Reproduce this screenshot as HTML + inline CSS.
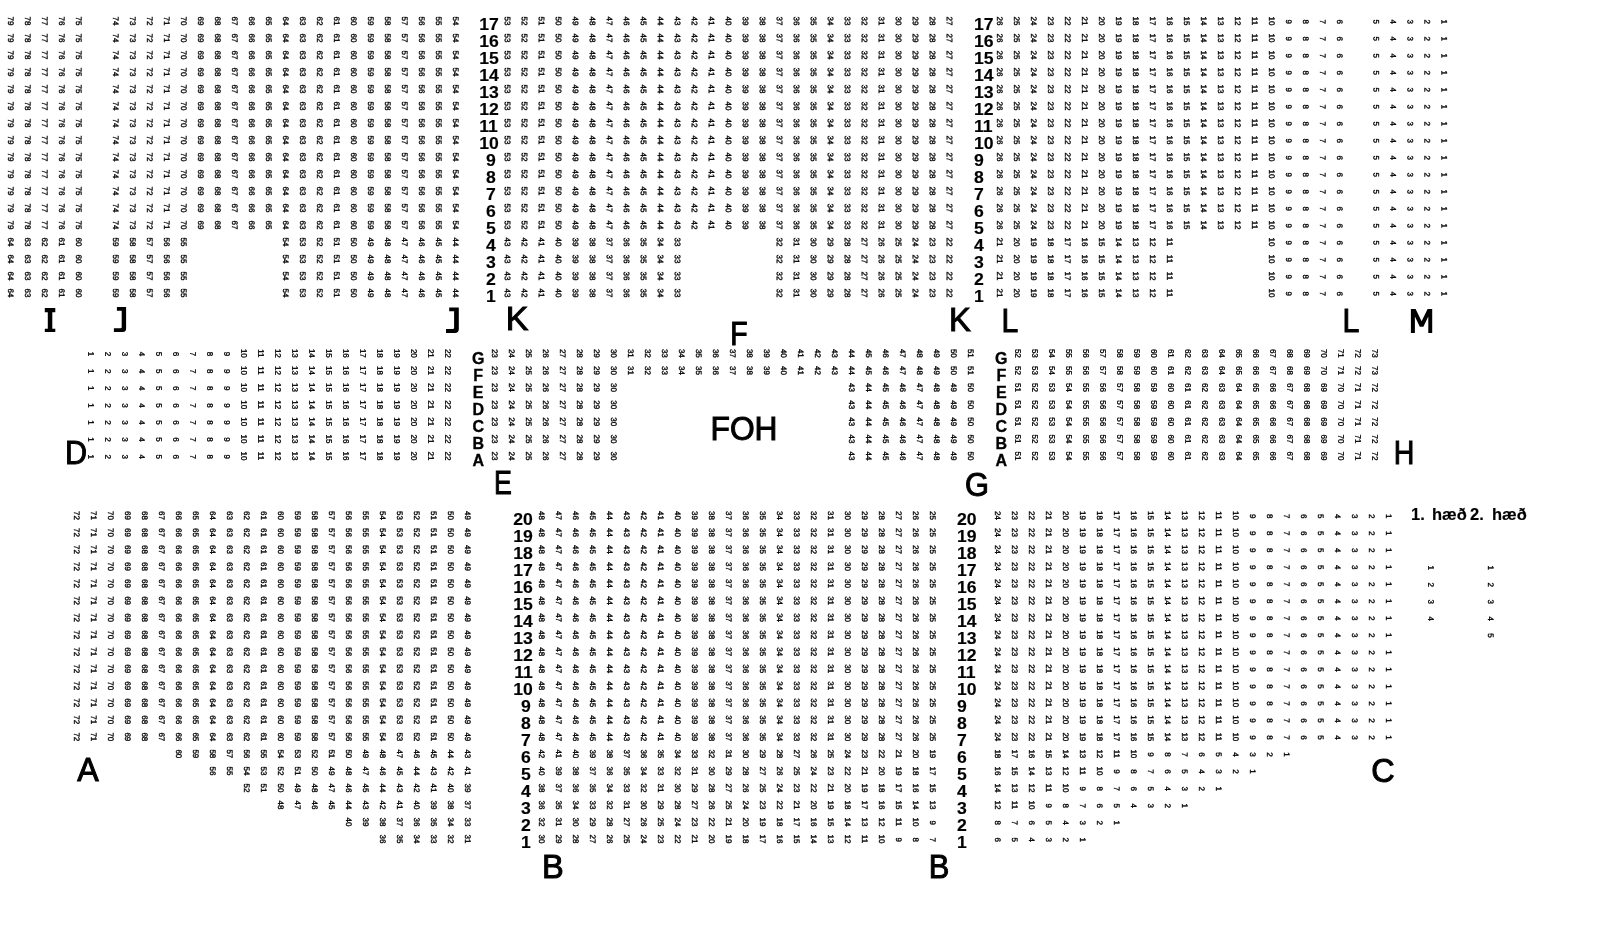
<!DOCTYPE html>
<html><head><meta charset="utf-8"><style>
html,body{margin:0;padding:0;background:#fff;width:1610px;height:950px;overflow:hidden;position:relative}
body{font-family:"Liberation Sans",sans-serif;color:#000}
#n{position:absolute;left:0;top:0;width:1610px;height:950px;will-change:transform}
i{position:absolute;left:0;top:0;font-style:normal;font-size:8px;width:20px;height:10px;line-height:10px;text-align:center;white-space:nowrap;-webkit-text-stroke:0.35px #000}
.rl,.ll,.cl,.bg,.fl{position:absolute;line-height:0;white-space:nowrap}
.ll{font-weight:bold;font-size:16px;transform-origin:0 0;transform:scaleX(1.1);-webkit-text-stroke:0.15px #000}
.rl{font-weight:bold;font-size:16px;transform-origin:100% 0;transform:scaleX(1.1);-webkit-text-stroke:0.15px #000}
.cl{font-weight:bold;font-size:16px;transform:translateX(-50%);-webkit-text-stroke:0.35px #000}
.bg{font-size:33px;-webkit-text-stroke:1.0px #000}
.fl{font-weight:bold;font-size:16px;-webkit-text-stroke:0.15px #000;transform-origin:0 0;transform:scaleX(1.03)}
.sv{position:absolute;left:0;top:0}
</style></head><body>
<div id="n"><i style="transform:translate(0.08px,16.00px) rotate(90.05deg)">79</i><i style="transform:translate(17.08px,16.00px) rotate(90.05deg)">78</i><i style="transform:translate(34.08px,16.00px) rotate(90.05deg)">77</i><i style="transform:translate(51.08px,16.00px) rotate(90.05deg)">76</i><i style="transform:translate(68.08px,16.00px) rotate(90.05deg)">75</i><i style="transform:translate(104.88px,16.00px) rotate(90.05deg)">74</i><i style="transform:translate(121.88px,16.00px) rotate(90.05deg)">73</i><i style="transform:translate(138.88px,16.00px) rotate(90.05deg)">72</i><i style="transform:translate(155.88px,16.00px) rotate(90.05deg)">71</i><i style="transform:translate(172.88px,16.00px) rotate(90.05deg)">70</i><i style="transform:translate(189.88px,16.00px) rotate(90.05deg)">69</i><i style="transform:translate(206.88px,16.00px) rotate(90.05deg)">68</i><i style="transform:translate(223.88px,16.00px) rotate(90.05deg)">67</i><i style="transform:translate(240.88px,16.00px) rotate(90.05deg)">66</i><i style="transform:translate(257.88px,16.00px) rotate(90.05deg)">65</i><i style="transform:translate(274.88px,16.00px) rotate(90.05deg)">64</i><i style="transform:translate(291.88px,16.00px) rotate(90.05deg)">63</i><i style="transform:translate(308.88px,16.00px) rotate(90.05deg)">62</i><i style="transform:translate(325.88px,16.00px) rotate(90.05deg)">61</i><i style="transform:translate(342.88px,16.00px) rotate(90.05deg)">60</i><i style="transform:translate(359.88px,16.00px) rotate(90.05deg)">59</i><i style="transform:translate(376.88px,16.00px) rotate(90.05deg)">58</i><i style="transform:translate(393.88px,16.00px) rotate(90.05deg)">57</i><i style="transform:translate(410.88px,16.00px) rotate(90.05deg)">56</i><i style="transform:translate(427.88px,16.00px) rotate(90.05deg)">55</i><i style="transform:translate(444.88px,16.00px) rotate(90.05deg)">54</i><i style="transform:translate(496.73px,16.00px) rotate(90.05deg)">53</i><i style="transform:translate(513.73px,16.00px) rotate(90.05deg)">52</i><i style="transform:translate(530.73px,16.00px) rotate(90.05deg)">51</i><i style="transform:translate(547.73px,16.00px) rotate(90.05deg)">50</i><i style="transform:translate(564.73px,16.00px) rotate(90.05deg)">49</i><i style="transform:translate(581.73px,16.00px) rotate(90.05deg)">48</i><i style="transform:translate(598.73px,16.00px) rotate(90.05deg)">47</i><i style="transform:translate(615.73px,16.00px) rotate(90.05deg)">46</i><i style="transform:translate(632.73px,16.00px) rotate(90.05deg)">45</i><i style="transform:translate(649.73px,16.00px) rotate(90.05deg)">44</i><i style="transform:translate(666.73px,16.00px) rotate(90.05deg)">43</i><i style="transform:translate(683.73px,16.00px) rotate(90.05deg)">42</i><i style="transform:translate(700.73px,16.00px) rotate(90.05deg)">41</i><i style="transform:translate(717.73px,16.00px) rotate(90.05deg)">40</i><i style="transform:translate(734.73px,16.00px) rotate(90.05deg)">39</i><i style="transform:translate(751.73px,16.00px) rotate(90.05deg)">38</i><i style="transform:translate(768.73px,16.00px) rotate(90.05deg)">37</i><i style="transform:translate(785.73px,16.00px) rotate(90.05deg)">36</i><i style="transform:translate(802.73px,16.00px) rotate(90.05deg)">35</i><i style="transform:translate(819.73px,16.00px) rotate(90.05deg)">34</i><i style="transform:translate(836.73px,16.00px) rotate(90.05deg)">33</i><i style="transform:translate(853.73px,16.00px) rotate(90.05deg)">32</i><i style="transform:translate(870.73px,16.00px) rotate(90.05deg)">31</i><i style="transform:translate(887.73px,16.00px) rotate(90.05deg)">30</i><i style="transform:translate(904.73px,16.00px) rotate(90.05deg)">29</i><i style="transform:translate(921.73px,16.00px) rotate(90.05deg)">28</i><i style="transform:translate(938.73px,16.00px) rotate(90.05deg)">27</i><i style="transform:translate(989.03px,16.00px) rotate(90.05deg)">26</i><i style="transform:translate(1006.03px,16.00px) rotate(90.05deg)">25</i><i style="transform:translate(1023.03px,16.00px) rotate(90.05deg)">24</i><i style="transform:translate(1040.03px,16.00px) rotate(90.05deg)">23</i><i style="transform:translate(1057.03px,16.00px) rotate(90.05deg)">22</i><i style="transform:translate(1074.03px,16.00px) rotate(90.05deg)">21</i><i style="transform:translate(1091.03px,16.00px) rotate(90.05deg)">20</i><i style="transform:translate(1108.03px,16.00px) rotate(90.05deg)">19</i><i style="transform:translate(1125.03px,16.00px) rotate(90.05deg)">18</i><i style="transform:translate(1142.03px,16.00px) rotate(90.05deg)">17</i><i style="transform:translate(1159.03px,16.00px) rotate(90.05deg)">16</i><i style="transform:translate(1176.03px,16.00px) rotate(90.05deg)">15</i><i style="transform:translate(1193.03px,16.00px) rotate(90.05deg)">14</i><i style="transform:translate(1210.03px,16.00px) rotate(90.05deg)">13</i><i style="transform:translate(1227.03px,16.00px) rotate(90.05deg)">12</i><i style="transform:translate(1244.03px,16.00px) rotate(90.05deg)">11</i><i style="transform:translate(1261.03px,16.00px) rotate(90.05deg)">10</i><i style="transform:translate(1278.03px,16.70px) rotate(90.05deg)">9</i><i style="transform:translate(1295.03px,16.70px) rotate(90.05deg)">8</i><i style="transform:translate(1312.03px,16.70px) rotate(90.05deg)">7</i><i style="transform:translate(1329.03px,16.70px) rotate(90.05deg)">6</i><i style="transform:translate(1365.43px,16.70px) rotate(90.05deg)">5</i><i style="transform:translate(1382.43px,16.70px) rotate(90.05deg)">4</i><i style="transform:translate(1399.43px,16.70px) rotate(90.05deg)">3</i><i style="transform:translate(1416.43px,16.70px) rotate(90.05deg)">2</i><i style="transform:translate(1433.43px,16.70px) rotate(90.05deg)">1</i><i style="transform:translate(0.08px,33.00px) rotate(90.05deg)">79</i><i style="transform:translate(17.08px,33.00px) rotate(90.05deg)">78</i><i style="transform:translate(34.08px,33.00px) rotate(90.05deg)">77</i><i style="transform:translate(51.08px,33.00px) rotate(90.05deg)">76</i><i style="transform:translate(68.08px,33.00px) rotate(90.05deg)">75</i><i style="transform:translate(104.88px,33.00px) rotate(90.05deg)">74</i><i style="transform:translate(121.88px,33.00px) rotate(90.05deg)">73</i><i style="transform:translate(138.88px,33.00px) rotate(90.05deg)">72</i><i style="transform:translate(155.88px,33.00px) rotate(90.05deg)">71</i><i style="transform:translate(172.88px,33.00px) rotate(90.05deg)">70</i><i style="transform:translate(189.88px,33.00px) rotate(90.05deg)">69</i><i style="transform:translate(206.88px,33.00px) rotate(90.05deg)">68</i><i style="transform:translate(223.88px,33.00px) rotate(90.05deg)">67</i><i style="transform:translate(240.88px,33.00px) rotate(90.05deg)">66</i><i style="transform:translate(257.88px,33.00px) rotate(90.05deg)">65</i><i style="transform:translate(274.88px,33.00px) rotate(90.05deg)">64</i><i style="transform:translate(291.88px,33.00px) rotate(90.05deg)">63</i><i style="transform:translate(308.88px,33.00px) rotate(90.05deg)">62</i><i style="transform:translate(325.88px,33.00px) rotate(90.05deg)">61</i><i style="transform:translate(342.88px,33.00px) rotate(90.05deg)">60</i><i style="transform:translate(359.88px,33.00px) rotate(90.05deg)">59</i><i style="transform:translate(376.88px,33.00px) rotate(90.05deg)">58</i><i style="transform:translate(393.88px,33.00px) rotate(90.05deg)">57</i><i style="transform:translate(410.88px,33.00px) rotate(90.05deg)">56</i><i style="transform:translate(427.88px,33.00px) rotate(90.05deg)">55</i><i style="transform:translate(444.88px,33.00px) rotate(90.05deg)">54</i><i style="transform:translate(496.73px,33.00px) rotate(90.05deg)">53</i><i style="transform:translate(513.73px,33.00px) rotate(90.05deg)">52</i><i style="transform:translate(530.73px,33.00px) rotate(90.05deg)">51</i><i style="transform:translate(547.73px,33.00px) rotate(90.05deg)">50</i><i style="transform:translate(564.73px,33.00px) rotate(90.05deg)">49</i><i style="transform:translate(581.73px,33.00px) rotate(90.05deg)">48</i><i style="transform:translate(598.73px,33.00px) rotate(90.05deg)">47</i><i style="transform:translate(615.73px,33.00px) rotate(90.05deg)">46</i><i style="transform:translate(632.73px,33.00px) rotate(90.05deg)">45</i><i style="transform:translate(649.73px,33.00px) rotate(90.05deg)">44</i><i style="transform:translate(666.73px,33.00px) rotate(90.05deg)">43</i><i style="transform:translate(683.73px,33.00px) rotate(90.05deg)">42</i><i style="transform:translate(700.73px,33.00px) rotate(90.05deg)">41</i><i style="transform:translate(717.73px,33.00px) rotate(90.05deg)">40</i><i style="transform:translate(734.73px,33.00px) rotate(90.05deg)">39</i><i style="transform:translate(751.73px,33.00px) rotate(90.05deg)">38</i><i style="transform:translate(768.73px,33.00px) rotate(90.05deg)">37</i><i style="transform:translate(785.73px,33.00px) rotate(90.05deg)">36</i><i style="transform:translate(802.73px,33.00px) rotate(90.05deg)">35</i><i style="transform:translate(819.73px,33.00px) rotate(90.05deg)">34</i><i style="transform:translate(836.73px,33.00px) rotate(90.05deg)">33</i><i style="transform:translate(853.73px,33.00px) rotate(90.05deg)">32</i><i style="transform:translate(870.73px,33.00px) rotate(90.05deg)">31</i><i style="transform:translate(887.73px,33.00px) rotate(90.05deg)">30</i><i style="transform:translate(904.73px,33.00px) rotate(90.05deg)">29</i><i style="transform:translate(921.73px,33.00px) rotate(90.05deg)">28</i><i style="transform:translate(938.73px,33.00px) rotate(90.05deg)">27</i><i style="transform:translate(989.03px,33.00px) rotate(90.05deg)">26</i><i style="transform:translate(1006.03px,33.00px) rotate(90.05deg)">25</i><i style="transform:translate(1023.03px,33.00px) rotate(90.05deg)">24</i><i style="transform:translate(1040.03px,33.00px) rotate(90.05deg)">23</i><i style="transform:translate(1057.03px,33.00px) rotate(90.05deg)">22</i><i style="transform:translate(1074.03px,33.00px) rotate(90.05deg)">21</i><i style="transform:translate(1091.03px,33.00px) rotate(90.05deg)">20</i><i style="transform:translate(1108.03px,33.00px) rotate(90.05deg)">19</i><i style="transform:translate(1125.03px,33.00px) rotate(90.05deg)">18</i><i style="transform:translate(1142.03px,33.00px) rotate(90.05deg)">17</i><i style="transform:translate(1159.03px,33.00px) rotate(90.05deg)">16</i><i style="transform:translate(1176.03px,33.00px) rotate(90.05deg)">15</i><i style="transform:translate(1193.03px,33.00px) rotate(90.05deg)">14</i><i style="transform:translate(1210.03px,33.00px) rotate(90.05deg)">13</i><i style="transform:translate(1227.03px,33.00px) rotate(90.05deg)">12</i><i style="transform:translate(1244.03px,33.00px) rotate(90.05deg)">11</i><i style="transform:translate(1261.03px,33.00px) rotate(90.05deg)">10</i><i style="transform:translate(1278.03px,33.70px) rotate(90.05deg)">9</i><i style="transform:translate(1295.03px,33.70px) rotate(90.05deg)">8</i><i style="transform:translate(1312.03px,33.70px) rotate(90.05deg)">7</i><i style="transform:translate(1329.03px,33.70px) rotate(90.05deg)">6</i><i style="transform:translate(1365.43px,33.70px) rotate(90.05deg)">5</i><i style="transform:translate(1382.43px,33.70px) rotate(90.05deg)">4</i><i style="transform:translate(1399.43px,33.70px) rotate(90.05deg)">3</i><i style="transform:translate(1416.43px,33.70px) rotate(90.05deg)">2</i><i style="transform:translate(1433.43px,33.70px) rotate(90.05deg)">1</i><i style="transform:translate(0.08px,50.00px) rotate(90.05deg)">79</i><i style="transform:translate(17.08px,50.00px) rotate(90.05deg)">78</i><i style="transform:translate(34.08px,50.00px) rotate(90.05deg)">77</i><i style="transform:translate(51.08px,50.00px) rotate(90.05deg)">76</i><i style="transform:translate(68.08px,50.00px) rotate(90.05deg)">75</i><i style="transform:translate(104.88px,50.00px) rotate(90.05deg)">74</i><i style="transform:translate(121.88px,50.00px) rotate(90.05deg)">73</i><i style="transform:translate(138.88px,50.00px) rotate(90.05deg)">72</i><i style="transform:translate(155.88px,50.00px) rotate(90.05deg)">71</i><i style="transform:translate(172.88px,50.00px) rotate(90.05deg)">70</i><i style="transform:translate(189.88px,50.00px) rotate(90.05deg)">69</i><i style="transform:translate(206.88px,50.00px) rotate(90.05deg)">68</i><i style="transform:translate(223.88px,50.00px) rotate(90.05deg)">67</i><i style="transform:translate(240.88px,50.00px) rotate(90.05deg)">66</i><i style="transform:translate(257.88px,50.00px) rotate(90.05deg)">65</i><i style="transform:translate(274.88px,50.00px) rotate(90.05deg)">64</i><i style="transform:translate(291.88px,50.00px) rotate(90.05deg)">63</i><i style="transform:translate(308.88px,50.00px) rotate(90.05deg)">62</i><i style="transform:translate(325.88px,50.00px) rotate(90.05deg)">61</i><i style="transform:translate(342.88px,50.00px) rotate(90.05deg)">60</i><i style="transform:translate(359.88px,50.00px) rotate(90.05deg)">59</i><i style="transform:translate(376.88px,50.00px) rotate(90.05deg)">58</i><i style="transform:translate(393.88px,50.00px) rotate(90.05deg)">57</i><i style="transform:translate(410.88px,50.00px) rotate(90.05deg)">56</i><i style="transform:translate(427.88px,50.00px) rotate(90.05deg)">55</i><i style="transform:translate(444.88px,50.00px) rotate(90.05deg)">54</i><i style="transform:translate(496.73px,50.00px) rotate(90.05deg)">53</i><i style="transform:translate(513.73px,50.00px) rotate(90.05deg)">52</i><i style="transform:translate(530.73px,50.00px) rotate(90.05deg)">51</i><i style="transform:translate(547.73px,50.00px) rotate(90.05deg)">50</i><i style="transform:translate(564.73px,50.00px) rotate(90.05deg)">49</i><i style="transform:translate(581.73px,50.00px) rotate(90.05deg)">48</i><i style="transform:translate(598.73px,50.00px) rotate(90.05deg)">47</i><i style="transform:translate(615.73px,50.00px) rotate(90.05deg)">46</i><i style="transform:translate(632.73px,50.00px) rotate(90.05deg)">45</i><i style="transform:translate(649.73px,50.00px) rotate(90.05deg)">44</i><i style="transform:translate(666.73px,50.00px) rotate(90.05deg)">43</i><i style="transform:translate(683.73px,50.00px) rotate(90.05deg)">42</i><i style="transform:translate(700.73px,50.00px) rotate(90.05deg)">41</i><i style="transform:translate(717.73px,50.00px) rotate(90.05deg)">40</i><i style="transform:translate(734.73px,50.00px) rotate(90.05deg)">39</i><i style="transform:translate(751.73px,50.00px) rotate(90.05deg)">38</i><i style="transform:translate(768.73px,50.00px) rotate(90.05deg)">37</i><i style="transform:translate(785.73px,50.00px) rotate(90.05deg)">36</i><i style="transform:translate(802.73px,50.00px) rotate(90.05deg)">35</i><i style="transform:translate(819.73px,50.00px) rotate(90.05deg)">34</i><i style="transform:translate(836.73px,50.00px) rotate(90.05deg)">33</i><i style="transform:translate(853.73px,50.00px) rotate(90.05deg)">32</i><i style="transform:translate(870.73px,50.00px) rotate(90.05deg)">31</i><i style="transform:translate(887.73px,50.00px) rotate(90.05deg)">30</i><i style="transform:translate(904.73px,50.00px) rotate(90.05deg)">29</i><i style="transform:translate(921.73px,50.00px) rotate(90.05deg)">28</i><i style="transform:translate(938.73px,50.00px) rotate(90.05deg)">27</i><i style="transform:translate(989.03px,50.00px) rotate(90.05deg)">26</i><i style="transform:translate(1006.03px,50.00px) rotate(90.05deg)">25</i><i style="transform:translate(1023.03px,50.00px) rotate(90.05deg)">24</i><i style="transform:translate(1040.03px,50.00px) rotate(90.05deg)">23</i><i style="transform:translate(1057.03px,50.00px) rotate(90.05deg)">22</i><i style="transform:translate(1074.03px,50.00px) rotate(90.05deg)">21</i><i style="transform:translate(1091.03px,50.00px) rotate(90.05deg)">20</i><i style="transform:translate(1108.03px,50.00px) rotate(90.05deg)">19</i><i style="transform:translate(1125.03px,50.00px) rotate(90.05deg)">18</i><i style="transform:translate(1142.03px,50.00px) rotate(90.05deg)">17</i><i style="transform:translate(1159.03px,50.00px) rotate(90.05deg)">16</i><i style="transform:translate(1176.03px,50.00px) rotate(90.05deg)">15</i><i style="transform:translate(1193.03px,50.00px) rotate(90.05deg)">14</i><i style="transform:translate(1210.03px,50.00px) rotate(90.05deg)">13</i><i style="transform:translate(1227.03px,50.00px) rotate(90.05deg)">12</i><i style="transform:translate(1244.03px,50.00px) rotate(90.05deg)">11</i><i style="transform:translate(1261.03px,50.00px) rotate(90.05deg)">10</i><i style="transform:translate(1278.03px,50.70px) rotate(90.05deg)">9</i><i style="transform:translate(1295.03px,50.70px) rotate(90.05deg)">8</i><i style="transform:translate(1312.03px,50.70px) rotate(90.05deg)">7</i><i style="transform:translate(1329.03px,50.70px) rotate(90.05deg)">6</i><i style="transform:translate(1365.43px,50.70px) rotate(90.05deg)">5</i><i style="transform:translate(1382.43px,50.70px) rotate(90.05deg)">4</i><i style="transform:translate(1399.43px,50.70px) rotate(90.05deg)">3</i><i style="transform:translate(1416.43px,50.70px) rotate(90.05deg)">2</i><i style="transform:translate(1433.43px,50.70px) rotate(90.05deg)">1</i><i style="transform:translate(0.08px,67.00px) rotate(90.05deg)">79</i><i style="transform:translate(17.08px,67.00px) rotate(90.05deg)">78</i><i style="transform:translate(34.08px,67.00px) rotate(90.05deg)">77</i><i style="transform:translate(51.08px,67.00px) rotate(90.05deg)">76</i><i style="transform:translate(68.08px,67.00px) rotate(90.05deg)">75</i><i style="transform:translate(104.88px,67.00px) rotate(90.05deg)">74</i><i style="transform:translate(121.88px,67.00px) rotate(90.05deg)">73</i><i style="transform:translate(138.88px,67.00px) rotate(90.05deg)">72</i><i style="transform:translate(155.88px,67.00px) rotate(90.05deg)">71</i><i style="transform:translate(172.88px,67.00px) rotate(90.05deg)">70</i><i style="transform:translate(189.88px,67.00px) rotate(90.05deg)">69</i><i style="transform:translate(206.88px,67.00px) rotate(90.05deg)">68</i><i style="transform:translate(223.88px,67.00px) rotate(90.05deg)">67</i><i style="transform:translate(240.88px,67.00px) rotate(90.05deg)">66</i><i style="transform:translate(257.88px,67.00px) rotate(90.05deg)">65</i><i style="transform:translate(274.88px,67.00px) rotate(90.05deg)">64</i><i style="transform:translate(291.88px,67.00px) rotate(90.05deg)">63</i><i style="transform:translate(308.88px,67.00px) rotate(90.05deg)">62</i><i style="transform:translate(325.88px,67.00px) rotate(90.05deg)">61</i><i style="transform:translate(342.88px,67.00px) rotate(90.05deg)">60</i><i style="transform:translate(359.88px,67.00px) rotate(90.05deg)">59</i><i style="transform:translate(376.88px,67.00px) rotate(90.05deg)">58</i><i style="transform:translate(393.88px,67.00px) rotate(90.05deg)">57</i><i style="transform:translate(410.88px,67.00px) rotate(90.05deg)">56</i><i style="transform:translate(427.88px,67.00px) rotate(90.05deg)">55</i><i style="transform:translate(444.88px,67.00px) rotate(90.05deg)">54</i><i style="transform:translate(496.73px,67.00px) rotate(90.05deg)">53</i><i style="transform:translate(513.73px,67.00px) rotate(90.05deg)">52</i><i style="transform:translate(530.73px,67.00px) rotate(90.05deg)">51</i><i style="transform:translate(547.73px,67.00px) rotate(90.05deg)">50</i><i style="transform:translate(564.73px,67.00px) rotate(90.05deg)">49</i><i style="transform:translate(581.73px,67.00px) rotate(90.05deg)">48</i><i style="transform:translate(598.73px,67.00px) rotate(90.05deg)">47</i><i style="transform:translate(615.73px,67.00px) rotate(90.05deg)">46</i><i style="transform:translate(632.73px,67.00px) rotate(90.05deg)">45</i><i style="transform:translate(649.73px,67.00px) rotate(90.05deg)">44</i><i style="transform:translate(666.73px,67.00px) rotate(90.05deg)">43</i><i style="transform:translate(683.73px,67.00px) rotate(90.05deg)">42</i><i style="transform:translate(700.73px,67.00px) rotate(90.05deg)">41</i><i style="transform:translate(717.73px,67.00px) rotate(90.05deg)">40</i><i style="transform:translate(734.73px,67.00px) rotate(90.05deg)">39</i><i style="transform:translate(751.73px,67.00px) rotate(90.05deg)">38</i><i style="transform:translate(768.73px,67.00px) rotate(90.05deg)">37</i><i style="transform:translate(785.73px,67.00px) rotate(90.05deg)">36</i><i style="transform:translate(802.73px,67.00px) rotate(90.05deg)">35</i><i style="transform:translate(819.73px,67.00px) rotate(90.05deg)">34</i><i style="transform:translate(836.73px,67.00px) rotate(90.05deg)">33</i><i style="transform:translate(853.73px,67.00px) rotate(90.05deg)">32</i><i style="transform:translate(870.73px,67.00px) rotate(90.05deg)">31</i><i style="transform:translate(887.73px,67.00px) rotate(90.05deg)">30</i><i style="transform:translate(904.73px,67.00px) rotate(90.05deg)">29</i><i style="transform:translate(921.73px,67.00px) rotate(90.05deg)">28</i><i style="transform:translate(938.73px,67.00px) rotate(90.05deg)">27</i><i style="transform:translate(989.03px,67.00px) rotate(90.05deg)">26</i><i style="transform:translate(1006.03px,67.00px) rotate(90.05deg)">25</i><i style="transform:translate(1023.03px,67.00px) rotate(90.05deg)">24</i><i style="transform:translate(1040.03px,67.00px) rotate(90.05deg)">23</i><i style="transform:translate(1057.03px,67.00px) rotate(90.05deg)">22</i><i style="transform:translate(1074.03px,67.00px) rotate(90.05deg)">21</i><i style="transform:translate(1091.03px,67.00px) rotate(90.05deg)">20</i><i style="transform:translate(1108.03px,67.00px) rotate(90.05deg)">19</i><i style="transform:translate(1125.03px,67.00px) rotate(90.05deg)">18</i><i style="transform:translate(1142.03px,67.00px) rotate(90.05deg)">17</i><i style="transform:translate(1159.03px,67.00px) rotate(90.05deg)">16</i><i style="transform:translate(1176.03px,67.00px) rotate(90.05deg)">15</i><i style="transform:translate(1193.03px,67.00px) rotate(90.05deg)">14</i><i style="transform:translate(1210.03px,67.00px) rotate(90.05deg)">13</i><i style="transform:translate(1227.03px,67.00px) rotate(90.05deg)">12</i><i style="transform:translate(1244.03px,67.00px) rotate(90.05deg)">11</i><i style="transform:translate(1261.03px,67.00px) rotate(90.05deg)">10</i><i style="transform:translate(1278.03px,67.70px) rotate(90.05deg)">9</i><i style="transform:translate(1295.03px,67.70px) rotate(90.05deg)">8</i><i style="transform:translate(1312.03px,67.70px) rotate(90.05deg)">7</i><i style="transform:translate(1329.03px,67.70px) rotate(90.05deg)">6</i><i style="transform:translate(1365.43px,67.70px) rotate(90.05deg)">5</i><i style="transform:translate(1382.43px,67.70px) rotate(90.05deg)">4</i><i style="transform:translate(1399.43px,67.70px) rotate(90.05deg)">3</i><i style="transform:translate(1416.43px,67.70px) rotate(90.05deg)">2</i><i style="transform:translate(1433.43px,67.70px) rotate(90.05deg)">1</i><i style="transform:translate(0.08px,84.00px) rotate(90.05deg)">79</i><i style="transform:translate(17.08px,84.00px) rotate(90.05deg)">78</i><i style="transform:translate(34.08px,84.00px) rotate(90.05deg)">77</i><i style="transform:translate(51.08px,84.00px) rotate(90.05deg)">76</i><i style="transform:translate(68.08px,84.00px) rotate(90.05deg)">75</i><i style="transform:translate(104.88px,84.00px) rotate(90.05deg)">74</i><i style="transform:translate(121.88px,84.00px) rotate(90.05deg)">73</i><i style="transform:translate(138.88px,84.00px) rotate(90.05deg)">72</i><i style="transform:translate(155.88px,84.00px) rotate(90.05deg)">71</i><i style="transform:translate(172.88px,84.00px) rotate(90.05deg)">70</i><i style="transform:translate(189.88px,84.00px) rotate(90.05deg)">69</i><i style="transform:translate(206.88px,84.00px) rotate(90.05deg)">68</i><i style="transform:translate(223.88px,84.00px) rotate(90.05deg)">67</i><i style="transform:translate(240.88px,84.00px) rotate(90.05deg)">66</i><i style="transform:translate(257.88px,84.00px) rotate(90.05deg)">65</i><i style="transform:translate(274.88px,84.00px) rotate(90.05deg)">64</i><i style="transform:translate(291.88px,84.00px) rotate(90.05deg)">63</i><i style="transform:translate(308.88px,84.00px) rotate(90.05deg)">62</i><i style="transform:translate(325.88px,84.00px) rotate(90.05deg)">61</i><i style="transform:translate(342.88px,84.00px) rotate(90.05deg)">60</i><i style="transform:translate(359.88px,84.00px) rotate(90.05deg)">59</i><i style="transform:translate(376.88px,84.00px) rotate(90.05deg)">58</i><i style="transform:translate(393.88px,84.00px) rotate(90.05deg)">57</i><i style="transform:translate(410.88px,84.00px) rotate(90.05deg)">56</i><i style="transform:translate(427.88px,84.00px) rotate(90.05deg)">55</i><i style="transform:translate(444.88px,84.00px) rotate(90.05deg)">54</i><i style="transform:translate(496.73px,84.00px) rotate(90.05deg)">53</i><i style="transform:translate(513.73px,84.00px) rotate(90.05deg)">52</i><i style="transform:translate(530.73px,84.00px) rotate(90.05deg)">51</i><i style="transform:translate(547.73px,84.00px) rotate(90.05deg)">50</i><i style="transform:translate(564.73px,84.00px) rotate(90.05deg)">49</i><i style="transform:translate(581.73px,84.00px) rotate(90.05deg)">48</i><i style="transform:translate(598.73px,84.00px) rotate(90.05deg)">47</i><i style="transform:translate(615.73px,84.00px) rotate(90.05deg)">46</i><i style="transform:translate(632.73px,84.00px) rotate(90.05deg)">45</i><i style="transform:translate(649.73px,84.00px) rotate(90.05deg)">44</i><i style="transform:translate(666.73px,84.00px) rotate(90.05deg)">43</i><i style="transform:translate(683.73px,84.00px) rotate(90.05deg)">42</i><i style="transform:translate(700.73px,84.00px) rotate(90.05deg)">41</i><i style="transform:translate(717.73px,84.00px) rotate(90.05deg)">40</i><i style="transform:translate(734.73px,84.00px) rotate(90.05deg)">39</i><i style="transform:translate(751.73px,84.00px) rotate(90.05deg)">38</i><i style="transform:translate(768.73px,84.00px) rotate(90.05deg)">37</i><i style="transform:translate(785.73px,84.00px) rotate(90.05deg)">36</i><i style="transform:translate(802.73px,84.00px) rotate(90.05deg)">35</i><i style="transform:translate(819.73px,84.00px) rotate(90.05deg)">34</i><i style="transform:translate(836.73px,84.00px) rotate(90.05deg)">33</i><i style="transform:translate(853.73px,84.00px) rotate(90.05deg)">32</i><i style="transform:translate(870.73px,84.00px) rotate(90.05deg)">31</i><i style="transform:translate(887.73px,84.00px) rotate(90.05deg)">30</i><i style="transform:translate(904.73px,84.00px) rotate(90.05deg)">29</i><i style="transform:translate(921.73px,84.00px) rotate(90.05deg)">28</i><i style="transform:translate(938.73px,84.00px) rotate(90.05deg)">27</i><i style="transform:translate(989.03px,84.00px) rotate(90.05deg)">26</i><i style="transform:translate(1006.03px,84.00px) rotate(90.05deg)">25</i><i style="transform:translate(1023.03px,84.00px) rotate(90.05deg)">24</i><i style="transform:translate(1040.03px,84.00px) rotate(90.05deg)">23</i><i style="transform:translate(1057.03px,84.00px) rotate(90.05deg)">22</i><i style="transform:translate(1074.03px,84.00px) rotate(90.05deg)">21</i><i style="transform:translate(1091.03px,84.00px) rotate(90.05deg)">20</i><i style="transform:translate(1108.03px,84.00px) rotate(90.05deg)">19</i><i style="transform:translate(1125.03px,84.00px) rotate(90.05deg)">18</i><i style="transform:translate(1142.03px,84.00px) rotate(90.05deg)">17</i><i style="transform:translate(1159.03px,84.00px) rotate(90.05deg)">16</i><i style="transform:translate(1176.03px,84.00px) rotate(90.05deg)">15</i><i style="transform:translate(1193.03px,84.00px) rotate(90.05deg)">14</i><i style="transform:translate(1210.03px,84.00px) rotate(90.05deg)">13</i><i style="transform:translate(1227.03px,84.00px) rotate(90.05deg)">12</i><i style="transform:translate(1244.03px,84.00px) rotate(90.05deg)">11</i><i style="transform:translate(1261.03px,84.00px) rotate(90.05deg)">10</i><i style="transform:translate(1278.03px,84.70px) rotate(90.05deg)">9</i><i style="transform:translate(1295.03px,84.70px) rotate(90.05deg)">8</i><i style="transform:translate(1312.03px,84.70px) rotate(90.05deg)">7</i><i style="transform:translate(1329.03px,84.70px) rotate(90.05deg)">6</i><i style="transform:translate(1365.43px,84.70px) rotate(90.05deg)">5</i><i style="transform:translate(1382.43px,84.70px) rotate(90.05deg)">4</i><i style="transform:translate(1399.43px,84.70px) rotate(90.05deg)">3</i><i style="transform:translate(1416.43px,84.70px) rotate(90.05deg)">2</i><i style="transform:translate(1433.43px,84.70px) rotate(90.05deg)">1</i><i style="transform:translate(0.08px,101.00px) rotate(90.05deg)">79</i><i style="transform:translate(17.08px,101.00px) rotate(90.05deg)">78</i><i style="transform:translate(34.08px,101.00px) rotate(90.05deg)">77</i><i style="transform:translate(51.08px,101.00px) rotate(90.05deg)">76</i><i style="transform:translate(68.08px,101.00px) rotate(90.05deg)">75</i><i style="transform:translate(104.88px,101.00px) rotate(90.05deg)">74</i><i style="transform:translate(121.88px,101.00px) rotate(90.05deg)">73</i><i style="transform:translate(138.88px,101.00px) rotate(90.05deg)">72</i><i style="transform:translate(155.88px,101.00px) rotate(90.05deg)">71</i><i style="transform:translate(172.88px,101.00px) rotate(90.05deg)">70</i><i style="transform:translate(189.88px,101.00px) rotate(90.05deg)">69</i><i style="transform:translate(206.88px,101.00px) rotate(90.05deg)">68</i><i style="transform:translate(223.88px,101.00px) rotate(90.05deg)">67</i><i style="transform:translate(240.88px,101.00px) rotate(90.05deg)">66</i><i style="transform:translate(257.88px,101.00px) rotate(90.05deg)">65</i><i style="transform:translate(274.88px,101.00px) rotate(90.05deg)">64</i><i style="transform:translate(291.88px,101.00px) rotate(90.05deg)">63</i><i style="transform:translate(308.88px,101.00px) rotate(90.05deg)">62</i><i style="transform:translate(325.88px,101.00px) rotate(90.05deg)">61</i><i style="transform:translate(342.88px,101.00px) rotate(90.05deg)">60</i><i style="transform:translate(359.88px,101.00px) rotate(90.05deg)">59</i><i style="transform:translate(376.88px,101.00px) rotate(90.05deg)">58</i><i style="transform:translate(393.88px,101.00px) rotate(90.05deg)">57</i><i style="transform:translate(410.88px,101.00px) rotate(90.05deg)">56</i><i style="transform:translate(427.88px,101.00px) rotate(90.05deg)">55</i><i style="transform:translate(444.88px,101.00px) rotate(90.05deg)">54</i><i style="transform:translate(496.73px,101.00px) rotate(90.05deg)">53</i><i style="transform:translate(513.73px,101.00px) rotate(90.05deg)">52</i><i style="transform:translate(530.73px,101.00px) rotate(90.05deg)">51</i><i style="transform:translate(547.73px,101.00px) rotate(90.05deg)">50</i><i style="transform:translate(564.73px,101.00px) rotate(90.05deg)">49</i><i style="transform:translate(581.73px,101.00px) rotate(90.05deg)">48</i><i style="transform:translate(598.73px,101.00px) rotate(90.05deg)">47</i><i style="transform:translate(615.73px,101.00px) rotate(90.05deg)">46</i><i style="transform:translate(632.73px,101.00px) rotate(90.05deg)">45</i><i style="transform:translate(649.73px,101.00px) rotate(90.05deg)">44</i><i style="transform:translate(666.73px,101.00px) rotate(90.05deg)">43</i><i style="transform:translate(683.73px,101.00px) rotate(90.05deg)">42</i><i style="transform:translate(700.73px,101.00px) rotate(90.05deg)">41</i><i style="transform:translate(717.73px,101.00px) rotate(90.05deg)">40</i><i style="transform:translate(734.73px,101.00px) rotate(90.05deg)">39</i><i style="transform:translate(751.73px,101.00px) rotate(90.05deg)">38</i><i style="transform:translate(768.73px,101.00px) rotate(90.05deg)">37</i><i style="transform:translate(785.73px,101.00px) rotate(90.05deg)">36</i><i style="transform:translate(802.73px,101.00px) rotate(90.05deg)">35</i><i style="transform:translate(819.73px,101.00px) rotate(90.05deg)">34</i><i style="transform:translate(836.73px,101.00px) rotate(90.05deg)">33</i><i style="transform:translate(853.73px,101.00px) rotate(90.05deg)">32</i><i style="transform:translate(870.73px,101.00px) rotate(90.05deg)">31</i><i style="transform:translate(887.73px,101.00px) rotate(90.05deg)">30</i><i style="transform:translate(904.73px,101.00px) rotate(90.05deg)">29</i><i style="transform:translate(921.73px,101.00px) rotate(90.05deg)">28</i><i style="transform:translate(938.73px,101.00px) rotate(90.05deg)">27</i><i style="transform:translate(989.03px,101.00px) rotate(90.05deg)">26</i><i style="transform:translate(1006.03px,101.00px) rotate(90.05deg)">25</i><i style="transform:translate(1023.03px,101.00px) rotate(90.05deg)">24</i><i style="transform:translate(1040.03px,101.00px) rotate(90.05deg)">23</i><i style="transform:translate(1057.03px,101.00px) rotate(90.05deg)">22</i><i style="transform:translate(1074.03px,101.00px) rotate(90.05deg)">21</i><i style="transform:translate(1091.03px,101.00px) rotate(90.05deg)">20</i><i style="transform:translate(1108.03px,101.00px) rotate(90.05deg)">19</i><i style="transform:translate(1125.03px,101.00px) rotate(90.05deg)">18</i><i style="transform:translate(1142.03px,101.00px) rotate(90.05deg)">17</i><i style="transform:translate(1159.03px,101.00px) rotate(90.05deg)">16</i><i style="transform:translate(1176.03px,101.00px) rotate(90.05deg)">15</i><i style="transform:translate(1193.03px,101.00px) rotate(90.05deg)">14</i><i style="transform:translate(1210.03px,101.00px) rotate(90.05deg)">13</i><i style="transform:translate(1227.03px,101.00px) rotate(90.05deg)">12</i><i style="transform:translate(1244.03px,101.00px) rotate(90.05deg)">11</i><i style="transform:translate(1261.03px,101.00px) rotate(90.05deg)">10</i><i style="transform:translate(1278.03px,101.70px) rotate(90.05deg)">9</i><i style="transform:translate(1295.03px,101.70px) rotate(90.05deg)">8</i><i style="transform:translate(1312.03px,101.70px) rotate(90.05deg)">7</i><i style="transform:translate(1329.03px,101.70px) rotate(90.05deg)">6</i><i style="transform:translate(1365.43px,101.70px) rotate(90.05deg)">5</i><i style="transform:translate(1382.43px,101.70px) rotate(90.05deg)">4</i><i style="transform:translate(1399.43px,101.70px) rotate(90.05deg)">3</i><i style="transform:translate(1416.43px,101.70px) rotate(90.05deg)">2</i><i style="transform:translate(1433.43px,101.70px) rotate(90.05deg)">1</i><i style="transform:translate(0.08px,118.00px) rotate(90.05deg)">79</i><i style="transform:translate(17.08px,118.00px) rotate(90.05deg)">78</i><i style="transform:translate(34.08px,118.00px) rotate(90.05deg)">77</i><i style="transform:translate(51.08px,118.00px) rotate(90.05deg)">76</i><i style="transform:translate(68.08px,118.00px) rotate(90.05deg)">75</i><i style="transform:translate(104.88px,118.00px) rotate(90.05deg)">74</i><i style="transform:translate(121.88px,118.00px) rotate(90.05deg)">73</i><i style="transform:translate(138.88px,118.00px) rotate(90.05deg)">72</i><i style="transform:translate(155.88px,118.00px) rotate(90.05deg)">71</i><i style="transform:translate(172.88px,118.00px) rotate(90.05deg)">70</i><i style="transform:translate(189.88px,118.00px) rotate(90.05deg)">69</i><i style="transform:translate(206.88px,118.00px) rotate(90.05deg)">68</i><i style="transform:translate(223.88px,118.00px) rotate(90.05deg)">67</i><i style="transform:translate(240.88px,118.00px) rotate(90.05deg)">66</i><i style="transform:translate(257.88px,118.00px) rotate(90.05deg)">65</i><i style="transform:translate(274.88px,118.00px) rotate(90.05deg)">64</i><i style="transform:translate(291.88px,118.00px) rotate(90.05deg)">63</i><i style="transform:translate(308.88px,118.00px) rotate(90.05deg)">62</i><i style="transform:translate(325.88px,118.00px) rotate(90.05deg)">61</i><i style="transform:translate(342.88px,118.00px) rotate(90.05deg)">60</i><i style="transform:translate(359.88px,118.00px) rotate(90.05deg)">59</i><i style="transform:translate(376.88px,118.00px) rotate(90.05deg)">58</i><i style="transform:translate(393.88px,118.00px) rotate(90.05deg)">57</i><i style="transform:translate(410.88px,118.00px) rotate(90.05deg)">56</i><i style="transform:translate(427.88px,118.00px) rotate(90.05deg)">55</i><i style="transform:translate(444.88px,118.00px) rotate(90.05deg)">54</i><i style="transform:translate(496.73px,118.00px) rotate(90.05deg)">53</i><i style="transform:translate(513.73px,118.00px) rotate(90.05deg)">52</i><i style="transform:translate(530.73px,118.00px) rotate(90.05deg)">51</i><i style="transform:translate(547.73px,118.00px) rotate(90.05deg)">50</i><i style="transform:translate(564.73px,118.00px) rotate(90.05deg)">49</i><i style="transform:translate(581.73px,118.00px) rotate(90.05deg)">48</i><i style="transform:translate(598.73px,118.00px) rotate(90.05deg)">47</i><i style="transform:translate(615.73px,118.00px) rotate(90.05deg)">46</i><i style="transform:translate(632.73px,118.00px) rotate(90.05deg)">45</i><i style="transform:translate(649.73px,118.00px) rotate(90.05deg)">44</i><i style="transform:translate(666.73px,118.00px) rotate(90.05deg)">43</i><i style="transform:translate(683.73px,118.00px) rotate(90.05deg)">42</i><i style="transform:translate(700.73px,118.00px) rotate(90.05deg)">41</i><i style="transform:translate(717.73px,118.00px) rotate(90.05deg)">40</i><i style="transform:translate(734.73px,118.00px) rotate(90.05deg)">39</i><i style="transform:translate(751.73px,118.00px) rotate(90.05deg)">38</i><i style="transform:translate(768.73px,118.00px) rotate(90.05deg)">37</i><i style="transform:translate(785.73px,118.00px) rotate(90.05deg)">36</i><i style="transform:translate(802.73px,118.00px) rotate(90.05deg)">35</i><i style="transform:translate(819.73px,118.00px) rotate(90.05deg)">34</i><i style="transform:translate(836.73px,118.00px) rotate(90.05deg)">33</i><i style="transform:translate(853.73px,118.00px) rotate(90.05deg)">32</i><i style="transform:translate(870.73px,118.00px) rotate(90.05deg)">31</i><i style="transform:translate(887.73px,118.00px) rotate(90.05deg)">30</i><i style="transform:translate(904.73px,118.00px) rotate(90.05deg)">29</i><i style="transform:translate(921.73px,118.00px) rotate(90.05deg)">28</i><i style="transform:translate(938.73px,118.00px) rotate(90.05deg)">27</i><i style="transform:translate(989.03px,118.00px) rotate(90.05deg)">26</i><i style="transform:translate(1006.03px,118.00px) rotate(90.05deg)">25</i><i style="transform:translate(1023.03px,118.00px) rotate(90.05deg)">24</i><i style="transform:translate(1040.03px,118.00px) rotate(90.05deg)">23</i><i style="transform:translate(1057.03px,118.00px) rotate(90.05deg)">22</i><i style="transform:translate(1074.03px,118.00px) rotate(90.05deg)">21</i><i style="transform:translate(1091.03px,118.00px) rotate(90.05deg)">20</i><i style="transform:translate(1108.03px,118.00px) rotate(90.05deg)">19</i><i style="transform:translate(1125.03px,118.00px) rotate(90.05deg)">18</i><i style="transform:translate(1142.03px,118.00px) rotate(90.05deg)">17</i><i style="transform:translate(1159.03px,118.00px) rotate(90.05deg)">16</i><i style="transform:translate(1176.03px,118.00px) rotate(90.05deg)">15</i><i style="transform:translate(1193.03px,118.00px) rotate(90.05deg)">14</i><i style="transform:translate(1210.03px,118.00px) rotate(90.05deg)">13</i><i style="transform:translate(1227.03px,118.00px) rotate(90.05deg)">12</i><i style="transform:translate(1244.03px,118.00px) rotate(90.05deg)">11</i><i style="transform:translate(1261.03px,118.00px) rotate(90.05deg)">10</i><i style="transform:translate(1278.03px,118.70px) rotate(90.05deg)">9</i><i style="transform:translate(1295.03px,118.70px) rotate(90.05deg)">8</i><i style="transform:translate(1312.03px,118.70px) rotate(90.05deg)">7</i><i style="transform:translate(1329.03px,118.70px) rotate(90.05deg)">6</i><i style="transform:translate(1365.43px,118.70px) rotate(90.05deg)">5</i><i style="transform:translate(1382.43px,118.70px) rotate(90.05deg)">4</i><i style="transform:translate(1399.43px,118.70px) rotate(90.05deg)">3</i><i style="transform:translate(1416.43px,118.70px) rotate(90.05deg)">2</i><i style="transform:translate(1433.43px,118.70px) rotate(90.05deg)">1</i><i style="transform:translate(0.08px,135.00px) rotate(90.05deg)">79</i><i style="transform:translate(17.08px,135.00px) rotate(90.05deg)">78</i><i style="transform:translate(34.08px,135.00px) rotate(90.05deg)">77</i><i style="transform:translate(51.08px,135.00px) rotate(90.05deg)">76</i><i style="transform:translate(68.08px,135.00px) rotate(90.05deg)">75</i><i style="transform:translate(104.88px,135.00px) rotate(90.05deg)">74</i><i style="transform:translate(121.88px,135.00px) rotate(90.05deg)">73</i><i style="transform:translate(138.88px,135.00px) rotate(90.05deg)">72</i><i style="transform:translate(155.88px,135.00px) rotate(90.05deg)">71</i><i style="transform:translate(172.88px,135.00px) rotate(90.05deg)">70</i><i style="transform:translate(189.88px,135.00px) rotate(90.05deg)">69</i><i style="transform:translate(206.88px,135.00px) rotate(90.05deg)">68</i><i style="transform:translate(223.88px,135.00px) rotate(90.05deg)">67</i><i style="transform:translate(240.88px,135.00px) rotate(90.05deg)">66</i><i style="transform:translate(257.88px,135.00px) rotate(90.05deg)">65</i><i style="transform:translate(274.88px,135.00px) rotate(90.05deg)">64</i><i style="transform:translate(291.88px,135.00px) rotate(90.05deg)">63</i><i style="transform:translate(308.88px,135.00px) rotate(90.05deg)">62</i><i style="transform:translate(325.88px,135.00px) rotate(90.05deg)">61</i><i style="transform:translate(342.88px,135.00px) rotate(90.05deg)">60</i><i style="transform:translate(359.88px,135.00px) rotate(90.05deg)">59</i><i style="transform:translate(376.88px,135.00px) rotate(90.05deg)">58</i><i style="transform:translate(393.88px,135.00px) rotate(90.05deg)">57</i><i style="transform:translate(410.88px,135.00px) rotate(90.05deg)">56</i><i style="transform:translate(427.88px,135.00px) rotate(90.05deg)">55</i><i style="transform:translate(444.88px,135.00px) rotate(90.05deg)">54</i><i style="transform:translate(496.73px,135.00px) rotate(90.05deg)">53</i><i style="transform:translate(513.73px,135.00px) rotate(90.05deg)">52</i><i style="transform:translate(530.73px,135.00px) rotate(90.05deg)">51</i><i style="transform:translate(547.73px,135.00px) rotate(90.05deg)">50</i><i style="transform:translate(564.73px,135.00px) rotate(90.05deg)">49</i><i style="transform:translate(581.73px,135.00px) rotate(90.05deg)">48</i><i style="transform:translate(598.73px,135.00px) rotate(90.05deg)">47</i><i style="transform:translate(615.73px,135.00px) rotate(90.05deg)">46</i><i style="transform:translate(632.73px,135.00px) rotate(90.05deg)">45</i><i style="transform:translate(649.73px,135.00px) rotate(90.05deg)">44</i><i style="transform:translate(666.73px,135.00px) rotate(90.05deg)">43</i><i style="transform:translate(683.73px,135.00px) rotate(90.05deg)">42</i><i style="transform:translate(700.73px,135.00px) rotate(90.05deg)">41</i><i style="transform:translate(717.73px,135.00px) rotate(90.05deg)">40</i><i style="transform:translate(734.73px,135.00px) rotate(90.05deg)">39</i><i style="transform:translate(751.73px,135.00px) rotate(90.05deg)">38</i><i style="transform:translate(768.73px,135.00px) rotate(90.05deg)">37</i><i style="transform:translate(785.73px,135.00px) rotate(90.05deg)">36</i><i style="transform:translate(802.73px,135.00px) rotate(90.05deg)">35</i><i style="transform:translate(819.73px,135.00px) rotate(90.05deg)">34</i><i style="transform:translate(836.73px,135.00px) rotate(90.05deg)">33</i><i style="transform:translate(853.73px,135.00px) rotate(90.05deg)">32</i><i style="transform:translate(870.73px,135.00px) rotate(90.05deg)">31</i><i style="transform:translate(887.73px,135.00px) rotate(90.05deg)">30</i><i style="transform:translate(904.73px,135.00px) rotate(90.05deg)">29</i><i style="transform:translate(921.73px,135.00px) rotate(90.05deg)">28</i><i style="transform:translate(938.73px,135.00px) rotate(90.05deg)">27</i><i style="transform:translate(989.03px,135.00px) rotate(90.05deg)">26</i><i style="transform:translate(1006.03px,135.00px) rotate(90.05deg)">25</i><i style="transform:translate(1023.03px,135.00px) rotate(90.05deg)">24</i><i style="transform:translate(1040.03px,135.00px) rotate(90.05deg)">23</i><i style="transform:translate(1057.03px,135.00px) rotate(90.05deg)">22</i><i style="transform:translate(1074.03px,135.00px) rotate(90.05deg)">21</i><i style="transform:translate(1091.03px,135.00px) rotate(90.05deg)">20</i><i style="transform:translate(1108.03px,135.00px) rotate(90.05deg)">19</i><i style="transform:translate(1125.03px,135.00px) rotate(90.05deg)">18</i><i style="transform:translate(1142.03px,135.00px) rotate(90.05deg)">17</i><i style="transform:translate(1159.03px,135.00px) rotate(90.05deg)">16</i><i style="transform:translate(1176.03px,135.00px) rotate(90.05deg)">15</i><i style="transform:translate(1193.03px,135.00px) rotate(90.05deg)">14</i><i style="transform:translate(1210.03px,135.00px) rotate(90.05deg)">13</i><i style="transform:translate(1227.03px,135.00px) rotate(90.05deg)">12</i><i style="transform:translate(1244.03px,135.00px) rotate(90.05deg)">11</i><i style="transform:translate(1261.03px,135.00px) rotate(90.05deg)">10</i><i style="transform:translate(1278.03px,135.70px) rotate(90.05deg)">9</i><i style="transform:translate(1295.03px,135.70px) rotate(90.05deg)">8</i><i style="transform:translate(1312.03px,135.70px) rotate(90.05deg)">7</i><i style="transform:translate(1329.03px,135.70px) rotate(90.05deg)">6</i><i style="transform:translate(1365.43px,135.70px) rotate(90.05deg)">5</i><i style="transform:translate(1382.43px,135.70px) rotate(90.05deg)">4</i><i style="transform:translate(1399.43px,135.70px) rotate(90.05deg)">3</i><i style="transform:translate(1416.43px,135.70px) rotate(90.05deg)">2</i><i style="transform:translate(1433.43px,135.70px) rotate(90.05deg)">1</i><i style="transform:translate(0.08px,152.00px) rotate(90.05deg)">79</i><i style="transform:translate(17.08px,152.00px) rotate(90.05deg)">78</i><i style="transform:translate(34.08px,152.00px) rotate(90.05deg)">77</i><i style="transform:translate(51.08px,152.00px) rotate(90.05deg)">76</i><i style="transform:translate(68.08px,152.00px) rotate(90.05deg)">75</i><i style="transform:translate(104.88px,152.00px) rotate(90.05deg)">74</i><i style="transform:translate(121.88px,152.00px) rotate(90.05deg)">73</i><i style="transform:translate(138.88px,152.00px) rotate(90.05deg)">72</i><i style="transform:translate(155.88px,152.00px) rotate(90.05deg)">71</i><i style="transform:translate(172.88px,152.00px) rotate(90.05deg)">70</i><i style="transform:translate(189.88px,152.00px) rotate(90.05deg)">69</i><i style="transform:translate(206.88px,152.00px) rotate(90.05deg)">68</i><i style="transform:translate(223.88px,152.00px) rotate(90.05deg)">67</i><i style="transform:translate(240.88px,152.00px) rotate(90.05deg)">66</i><i style="transform:translate(257.88px,152.00px) rotate(90.05deg)">65</i><i style="transform:translate(274.88px,152.00px) rotate(90.05deg)">64</i><i style="transform:translate(291.88px,152.00px) rotate(90.05deg)">63</i><i style="transform:translate(308.88px,152.00px) rotate(90.05deg)">62</i><i style="transform:translate(325.88px,152.00px) rotate(90.05deg)">61</i><i style="transform:translate(342.88px,152.00px) rotate(90.05deg)">60</i><i style="transform:translate(359.88px,152.00px) rotate(90.05deg)">59</i><i style="transform:translate(376.88px,152.00px) rotate(90.05deg)">58</i><i style="transform:translate(393.88px,152.00px) rotate(90.05deg)">57</i><i style="transform:translate(410.88px,152.00px) rotate(90.05deg)">56</i><i style="transform:translate(427.88px,152.00px) rotate(90.05deg)">55</i><i style="transform:translate(444.88px,152.00px) rotate(90.05deg)">54</i><i style="transform:translate(496.73px,152.00px) rotate(90.05deg)">53</i><i style="transform:translate(513.73px,152.00px) rotate(90.05deg)">52</i><i style="transform:translate(530.73px,152.00px) rotate(90.05deg)">51</i><i style="transform:translate(547.73px,152.00px) rotate(90.05deg)">50</i><i style="transform:translate(564.73px,152.00px) rotate(90.05deg)">49</i><i style="transform:translate(581.73px,152.00px) rotate(90.05deg)">48</i><i style="transform:translate(598.73px,152.00px) rotate(90.05deg)">47</i><i style="transform:translate(615.73px,152.00px) rotate(90.05deg)">46</i><i style="transform:translate(632.73px,152.00px) rotate(90.05deg)">45</i><i style="transform:translate(649.73px,152.00px) rotate(90.05deg)">44</i><i style="transform:translate(666.73px,152.00px) rotate(90.05deg)">43</i><i style="transform:translate(683.73px,152.00px) rotate(90.05deg)">42</i><i style="transform:translate(700.73px,152.00px) rotate(90.05deg)">41</i><i style="transform:translate(717.73px,152.00px) rotate(90.05deg)">40</i><i style="transform:translate(734.73px,152.00px) rotate(90.05deg)">39</i><i style="transform:translate(751.73px,152.00px) rotate(90.05deg)">38</i><i style="transform:translate(768.73px,152.00px) rotate(90.05deg)">37</i><i style="transform:translate(785.73px,152.00px) rotate(90.05deg)">36</i><i style="transform:translate(802.73px,152.00px) rotate(90.05deg)">35</i><i style="transform:translate(819.73px,152.00px) rotate(90.05deg)">34</i><i style="transform:translate(836.73px,152.00px) rotate(90.05deg)">33</i><i style="transform:translate(853.73px,152.00px) rotate(90.05deg)">32</i><i style="transform:translate(870.73px,152.00px) rotate(90.05deg)">31</i><i style="transform:translate(887.73px,152.00px) rotate(90.05deg)">30</i><i style="transform:translate(904.73px,152.00px) rotate(90.05deg)">29</i><i style="transform:translate(921.73px,152.00px) rotate(90.05deg)">28</i><i style="transform:translate(938.73px,152.00px) rotate(90.05deg)">27</i><i style="transform:translate(989.03px,152.00px) rotate(90.05deg)">26</i><i style="transform:translate(1006.03px,152.00px) rotate(90.05deg)">25</i><i style="transform:translate(1023.03px,152.00px) rotate(90.05deg)">24</i><i style="transform:translate(1040.03px,152.00px) rotate(90.05deg)">23</i><i style="transform:translate(1057.03px,152.00px) rotate(90.05deg)">22</i><i style="transform:translate(1074.03px,152.00px) rotate(90.05deg)">21</i><i style="transform:translate(1091.03px,152.00px) rotate(90.05deg)">20</i><i style="transform:translate(1108.03px,152.00px) rotate(90.05deg)">19</i><i style="transform:translate(1125.03px,152.00px) rotate(90.05deg)">18</i><i style="transform:translate(1142.03px,152.00px) rotate(90.05deg)">17</i><i style="transform:translate(1159.03px,152.00px) rotate(90.05deg)">16</i><i style="transform:translate(1176.03px,152.00px) rotate(90.05deg)">15</i><i style="transform:translate(1193.03px,152.00px) rotate(90.05deg)">14</i><i style="transform:translate(1210.03px,152.00px) rotate(90.05deg)">13</i><i style="transform:translate(1227.03px,152.00px) rotate(90.05deg)">12</i><i style="transform:translate(1244.03px,152.00px) rotate(90.05deg)">11</i><i style="transform:translate(1261.03px,152.00px) rotate(90.05deg)">10</i><i style="transform:translate(1278.03px,152.70px) rotate(90.05deg)">9</i><i style="transform:translate(1295.03px,152.70px) rotate(90.05deg)">8</i><i style="transform:translate(1312.03px,152.70px) rotate(90.05deg)">7</i><i style="transform:translate(1329.03px,152.70px) rotate(90.05deg)">6</i><i style="transform:translate(1365.43px,152.70px) rotate(90.05deg)">5</i><i style="transform:translate(1382.43px,152.70px) rotate(90.05deg)">4</i><i style="transform:translate(1399.43px,152.70px) rotate(90.05deg)">3</i><i style="transform:translate(1416.43px,152.70px) rotate(90.05deg)">2</i><i style="transform:translate(1433.43px,152.70px) rotate(90.05deg)">1</i><i style="transform:translate(0.08px,169.00px) rotate(90.05deg)">79</i><i style="transform:translate(17.08px,169.00px) rotate(90.05deg)">78</i><i style="transform:translate(34.08px,169.00px) rotate(90.05deg)">77</i><i style="transform:translate(51.08px,169.00px) rotate(90.05deg)">76</i><i style="transform:translate(68.08px,169.00px) rotate(90.05deg)">75</i><i style="transform:translate(104.88px,169.00px) rotate(90.05deg)">74</i><i style="transform:translate(121.88px,169.00px) rotate(90.05deg)">73</i><i style="transform:translate(138.88px,169.00px) rotate(90.05deg)">72</i><i style="transform:translate(155.88px,169.00px) rotate(90.05deg)">71</i><i style="transform:translate(172.88px,169.00px) rotate(90.05deg)">70</i><i style="transform:translate(189.88px,169.00px) rotate(90.05deg)">69</i><i style="transform:translate(206.88px,169.00px) rotate(90.05deg)">68</i><i style="transform:translate(223.88px,169.00px) rotate(90.05deg)">67</i><i style="transform:translate(240.88px,169.00px) rotate(90.05deg)">66</i><i style="transform:translate(257.88px,169.00px) rotate(90.05deg)">65</i><i style="transform:translate(274.88px,169.00px) rotate(90.05deg)">64</i><i style="transform:translate(291.88px,169.00px) rotate(90.05deg)">63</i><i style="transform:translate(308.88px,169.00px) rotate(90.05deg)">62</i><i style="transform:translate(325.88px,169.00px) rotate(90.05deg)">61</i><i style="transform:translate(342.88px,169.00px) rotate(90.05deg)">60</i><i style="transform:translate(359.88px,169.00px) rotate(90.05deg)">59</i><i style="transform:translate(376.88px,169.00px) rotate(90.05deg)">58</i><i style="transform:translate(393.88px,169.00px) rotate(90.05deg)">57</i><i style="transform:translate(410.88px,169.00px) rotate(90.05deg)">56</i><i style="transform:translate(427.88px,169.00px) rotate(90.05deg)">55</i><i style="transform:translate(444.88px,169.00px) rotate(90.05deg)">54</i><i style="transform:translate(496.73px,169.00px) rotate(90.05deg)">53</i><i style="transform:translate(513.73px,169.00px) rotate(90.05deg)">52</i><i style="transform:translate(530.73px,169.00px) rotate(90.05deg)">51</i><i style="transform:translate(547.73px,169.00px) rotate(90.05deg)">50</i><i style="transform:translate(564.73px,169.00px) rotate(90.05deg)">49</i><i style="transform:translate(581.73px,169.00px) rotate(90.05deg)">48</i><i style="transform:translate(598.73px,169.00px) rotate(90.05deg)">47</i><i style="transform:translate(615.73px,169.00px) rotate(90.05deg)">46</i><i style="transform:translate(632.73px,169.00px) rotate(90.05deg)">45</i><i style="transform:translate(649.73px,169.00px) rotate(90.05deg)">44</i><i style="transform:translate(666.73px,169.00px) rotate(90.05deg)">43</i><i style="transform:translate(683.73px,169.00px) rotate(90.05deg)">42</i><i style="transform:translate(700.73px,169.00px) rotate(90.05deg)">41</i><i style="transform:translate(717.73px,169.00px) rotate(90.05deg)">40</i><i style="transform:translate(734.73px,169.00px) rotate(90.05deg)">39</i><i style="transform:translate(751.73px,169.00px) rotate(90.05deg)">38</i><i style="transform:translate(768.73px,169.00px) rotate(90.05deg)">37</i><i style="transform:translate(785.73px,169.00px) rotate(90.05deg)">36</i><i style="transform:translate(802.73px,169.00px) rotate(90.05deg)">35</i><i style="transform:translate(819.73px,169.00px) rotate(90.05deg)">34</i><i style="transform:translate(836.73px,169.00px) rotate(90.05deg)">33</i><i style="transform:translate(853.73px,169.00px) rotate(90.05deg)">32</i><i style="transform:translate(870.73px,169.00px) rotate(90.05deg)">31</i><i style="transform:translate(887.73px,169.00px) rotate(90.05deg)">30</i><i style="transform:translate(904.73px,169.00px) rotate(90.05deg)">29</i><i style="transform:translate(921.73px,169.00px) rotate(90.05deg)">28</i><i style="transform:translate(938.73px,169.00px) rotate(90.05deg)">27</i><i style="transform:translate(989.03px,169.00px) rotate(90.05deg)">26</i><i style="transform:translate(1006.03px,169.00px) rotate(90.05deg)">25</i><i style="transform:translate(1023.03px,169.00px) rotate(90.05deg)">24</i><i style="transform:translate(1040.03px,169.00px) rotate(90.05deg)">23</i><i style="transform:translate(1057.03px,169.00px) rotate(90.05deg)">22</i><i style="transform:translate(1074.03px,169.00px) rotate(90.05deg)">21</i><i style="transform:translate(1091.03px,169.00px) rotate(90.05deg)">20</i><i style="transform:translate(1108.03px,169.00px) rotate(90.05deg)">19</i><i style="transform:translate(1125.03px,169.00px) rotate(90.05deg)">18</i><i style="transform:translate(1142.03px,169.00px) rotate(90.05deg)">17</i><i style="transform:translate(1159.03px,169.00px) rotate(90.05deg)">16</i><i style="transform:translate(1176.03px,169.00px) rotate(90.05deg)">15</i><i style="transform:translate(1193.03px,169.00px) rotate(90.05deg)">14</i><i style="transform:translate(1210.03px,169.00px) rotate(90.05deg)">13</i><i style="transform:translate(1227.03px,169.00px) rotate(90.05deg)">12</i><i style="transform:translate(1244.03px,169.00px) rotate(90.05deg)">11</i><i style="transform:translate(1261.03px,169.00px) rotate(90.05deg)">10</i><i style="transform:translate(1278.03px,169.70px) rotate(90.05deg)">9</i><i style="transform:translate(1295.03px,169.70px) rotate(90.05deg)">8</i><i style="transform:translate(1312.03px,169.70px) rotate(90.05deg)">7</i><i style="transform:translate(1329.03px,169.70px) rotate(90.05deg)">6</i><i style="transform:translate(1365.43px,169.70px) rotate(90.05deg)">5</i><i style="transform:translate(1382.43px,169.70px) rotate(90.05deg)">4</i><i style="transform:translate(1399.43px,169.70px) rotate(90.05deg)">3</i><i style="transform:translate(1416.43px,169.70px) rotate(90.05deg)">2</i><i style="transform:translate(1433.43px,169.70px) rotate(90.05deg)">1</i><i style="transform:translate(0.08px,186.00px) rotate(90.05deg)">79</i><i style="transform:translate(17.08px,186.00px) rotate(90.05deg)">78</i><i style="transform:translate(34.08px,186.00px) rotate(90.05deg)">77</i><i style="transform:translate(51.08px,186.00px) rotate(90.05deg)">76</i><i style="transform:translate(68.08px,186.00px) rotate(90.05deg)">75</i><i style="transform:translate(104.88px,186.00px) rotate(90.05deg)">74</i><i style="transform:translate(121.88px,186.00px) rotate(90.05deg)">73</i><i style="transform:translate(138.88px,186.00px) rotate(90.05deg)">72</i><i style="transform:translate(155.88px,186.00px) rotate(90.05deg)">71</i><i style="transform:translate(172.88px,186.00px) rotate(90.05deg)">70</i><i style="transform:translate(189.88px,186.00px) rotate(90.05deg)">69</i><i style="transform:translate(206.88px,186.00px) rotate(90.05deg)">68</i><i style="transform:translate(223.88px,186.00px) rotate(90.05deg)">67</i><i style="transform:translate(240.88px,186.00px) rotate(90.05deg)">66</i><i style="transform:translate(257.88px,186.00px) rotate(90.05deg)">65</i><i style="transform:translate(274.88px,186.00px) rotate(90.05deg)">64</i><i style="transform:translate(291.88px,186.00px) rotate(90.05deg)">63</i><i style="transform:translate(308.88px,186.00px) rotate(90.05deg)">62</i><i style="transform:translate(325.88px,186.00px) rotate(90.05deg)">61</i><i style="transform:translate(342.88px,186.00px) rotate(90.05deg)">60</i><i style="transform:translate(359.88px,186.00px) rotate(90.05deg)">59</i><i style="transform:translate(376.88px,186.00px) rotate(90.05deg)">58</i><i style="transform:translate(393.88px,186.00px) rotate(90.05deg)">57</i><i style="transform:translate(410.88px,186.00px) rotate(90.05deg)">56</i><i style="transform:translate(427.88px,186.00px) rotate(90.05deg)">55</i><i style="transform:translate(444.88px,186.00px) rotate(90.05deg)">54</i><i style="transform:translate(496.73px,186.00px) rotate(90.05deg)">53</i><i style="transform:translate(513.73px,186.00px) rotate(90.05deg)">52</i><i style="transform:translate(530.73px,186.00px) rotate(90.05deg)">51</i><i style="transform:translate(547.73px,186.00px) rotate(90.05deg)">50</i><i style="transform:translate(564.73px,186.00px) rotate(90.05deg)">49</i><i style="transform:translate(581.73px,186.00px) rotate(90.05deg)">48</i><i style="transform:translate(598.73px,186.00px) rotate(90.05deg)">47</i><i style="transform:translate(615.73px,186.00px) rotate(90.05deg)">46</i><i style="transform:translate(632.73px,186.00px) rotate(90.05deg)">45</i><i style="transform:translate(649.73px,186.00px) rotate(90.05deg)">44</i><i style="transform:translate(666.73px,186.00px) rotate(90.05deg)">43</i><i style="transform:translate(683.73px,186.00px) rotate(90.05deg)">42</i><i style="transform:translate(700.73px,186.00px) rotate(90.05deg)">41</i><i style="transform:translate(717.73px,186.00px) rotate(90.05deg)">40</i><i style="transform:translate(734.73px,186.00px) rotate(90.05deg)">39</i><i style="transform:translate(751.73px,186.00px) rotate(90.05deg)">38</i><i style="transform:translate(768.73px,186.00px) rotate(90.05deg)">37</i><i style="transform:translate(785.73px,186.00px) rotate(90.05deg)">36</i><i style="transform:translate(802.73px,186.00px) rotate(90.05deg)">35</i><i style="transform:translate(819.73px,186.00px) rotate(90.05deg)">34</i><i style="transform:translate(836.73px,186.00px) rotate(90.05deg)">33</i><i style="transform:translate(853.73px,186.00px) rotate(90.05deg)">32</i><i style="transform:translate(870.73px,186.00px) rotate(90.05deg)">31</i><i style="transform:translate(887.73px,186.00px) rotate(90.05deg)">30</i><i style="transform:translate(904.73px,186.00px) rotate(90.05deg)">29</i><i style="transform:translate(921.73px,186.00px) rotate(90.05deg)">28</i><i style="transform:translate(938.73px,186.00px) rotate(90.05deg)">27</i><i style="transform:translate(989.03px,186.00px) rotate(90.05deg)">26</i><i style="transform:translate(1006.03px,186.00px) rotate(90.05deg)">25</i><i style="transform:translate(1023.03px,186.00px) rotate(90.05deg)">24</i><i style="transform:translate(1040.03px,186.00px) rotate(90.05deg)">23</i><i style="transform:translate(1057.03px,186.00px) rotate(90.05deg)">22</i><i style="transform:translate(1074.03px,186.00px) rotate(90.05deg)">21</i><i style="transform:translate(1091.03px,186.00px) rotate(90.05deg)">20</i><i style="transform:translate(1108.03px,186.00px) rotate(90.05deg)">19</i><i style="transform:translate(1125.03px,186.00px) rotate(90.05deg)">18</i><i style="transform:translate(1142.03px,186.00px) rotate(90.05deg)">17</i><i style="transform:translate(1159.03px,186.00px) rotate(90.05deg)">16</i><i style="transform:translate(1176.03px,186.00px) rotate(90.05deg)">15</i><i style="transform:translate(1193.03px,186.00px) rotate(90.05deg)">14</i><i style="transform:translate(1210.03px,186.00px) rotate(90.05deg)">13</i><i style="transform:translate(1227.03px,186.00px) rotate(90.05deg)">12</i><i style="transform:translate(1244.03px,186.00px) rotate(90.05deg)">11</i><i style="transform:translate(1261.03px,186.00px) rotate(90.05deg)">10</i><i style="transform:translate(1278.03px,186.70px) rotate(90.05deg)">9</i><i style="transform:translate(1295.03px,186.70px) rotate(90.05deg)">8</i><i style="transform:translate(1312.03px,186.70px) rotate(90.05deg)">7</i><i style="transform:translate(1329.03px,186.70px) rotate(90.05deg)">6</i><i style="transform:translate(1365.43px,186.70px) rotate(90.05deg)">5</i><i style="transform:translate(1382.43px,186.70px) rotate(90.05deg)">4</i><i style="transform:translate(1399.43px,186.70px) rotate(90.05deg)">3</i><i style="transform:translate(1416.43px,186.70px) rotate(90.05deg)">2</i><i style="transform:translate(1433.43px,186.70px) rotate(90.05deg)">1</i><i style="transform:translate(0.08px,203.00px) rotate(90.05deg)">79</i><i style="transform:translate(17.08px,203.00px) rotate(90.05deg)">78</i><i style="transform:translate(34.08px,203.00px) rotate(90.05deg)">77</i><i style="transform:translate(51.08px,203.00px) rotate(90.05deg)">76</i><i style="transform:translate(68.08px,203.00px) rotate(90.05deg)">75</i><i style="transform:translate(104.88px,203.00px) rotate(90.05deg)">74</i><i style="transform:translate(121.88px,203.00px) rotate(90.05deg)">73</i><i style="transform:translate(138.88px,203.00px) rotate(90.05deg)">72</i><i style="transform:translate(155.88px,203.00px) rotate(90.05deg)">71</i><i style="transform:translate(172.88px,203.00px) rotate(90.05deg)">70</i><i style="transform:translate(189.88px,203.00px) rotate(90.05deg)">69</i><i style="transform:translate(206.88px,203.00px) rotate(90.05deg)">68</i><i style="transform:translate(223.88px,203.00px) rotate(90.05deg)">67</i><i style="transform:translate(240.88px,203.00px) rotate(90.05deg)">66</i><i style="transform:translate(257.88px,203.00px) rotate(90.05deg)">65</i><i style="transform:translate(274.88px,203.00px) rotate(90.05deg)">64</i><i style="transform:translate(291.88px,203.00px) rotate(90.05deg)">63</i><i style="transform:translate(308.88px,203.00px) rotate(90.05deg)">62</i><i style="transform:translate(325.88px,203.00px) rotate(90.05deg)">61</i><i style="transform:translate(342.88px,203.00px) rotate(90.05deg)">60</i><i style="transform:translate(359.88px,203.00px) rotate(90.05deg)">59</i><i style="transform:translate(376.88px,203.00px) rotate(90.05deg)">58</i><i style="transform:translate(393.88px,203.00px) rotate(90.05deg)">57</i><i style="transform:translate(410.88px,203.00px) rotate(90.05deg)">56</i><i style="transform:translate(427.88px,203.00px) rotate(90.05deg)">55</i><i style="transform:translate(444.88px,203.00px) rotate(90.05deg)">54</i><i style="transform:translate(496.73px,203.00px) rotate(90.05deg)">53</i><i style="transform:translate(513.73px,203.00px) rotate(90.05deg)">52</i><i style="transform:translate(530.73px,203.00px) rotate(90.05deg)">51</i><i style="transform:translate(547.73px,203.00px) rotate(90.05deg)">50</i><i style="transform:translate(564.73px,203.00px) rotate(90.05deg)">49</i><i style="transform:translate(581.73px,203.00px) rotate(90.05deg)">48</i><i style="transform:translate(598.73px,203.00px) rotate(90.05deg)">47</i><i style="transform:translate(615.73px,203.00px) rotate(90.05deg)">46</i><i style="transform:translate(632.73px,203.00px) rotate(90.05deg)">45</i><i style="transform:translate(649.73px,203.00px) rotate(90.05deg)">44</i><i style="transform:translate(666.73px,203.00px) rotate(90.05deg)">43</i><i style="transform:translate(683.73px,203.00px) rotate(90.05deg)">42</i><i style="transform:translate(700.73px,203.00px) rotate(90.05deg)">41</i><i style="transform:translate(717.73px,203.00px) rotate(90.05deg)">40</i><i style="transform:translate(734.73px,203.00px) rotate(90.05deg)">39</i><i style="transform:translate(751.73px,203.00px) rotate(90.05deg)">38</i><i style="transform:translate(768.73px,203.00px) rotate(90.05deg)">37</i><i style="transform:translate(785.73px,203.00px) rotate(90.05deg)">36</i><i style="transform:translate(802.73px,203.00px) rotate(90.05deg)">35</i><i style="transform:translate(819.73px,203.00px) rotate(90.05deg)">34</i><i style="transform:translate(836.73px,203.00px) rotate(90.05deg)">33</i><i style="transform:translate(853.73px,203.00px) rotate(90.05deg)">32</i><i style="transform:translate(870.73px,203.00px) rotate(90.05deg)">31</i><i style="transform:translate(887.73px,203.00px) rotate(90.05deg)">30</i><i style="transform:translate(904.73px,203.00px) rotate(90.05deg)">29</i><i style="transform:translate(921.73px,203.00px) rotate(90.05deg)">28</i><i style="transform:translate(938.73px,203.00px) rotate(90.05deg)">27</i><i style="transform:translate(989.03px,203.00px) rotate(90.05deg)">26</i><i style="transform:translate(1006.03px,203.00px) rotate(90.05deg)">25</i><i style="transform:translate(1023.03px,203.00px) rotate(90.05deg)">24</i><i style="transform:translate(1040.03px,203.00px) rotate(90.05deg)">23</i><i style="transform:translate(1057.03px,203.00px) rotate(90.05deg)">22</i><i style="transform:translate(1074.03px,203.00px) rotate(90.05deg)">21</i><i style="transform:translate(1091.03px,203.00px) rotate(90.05deg)">20</i><i style="transform:translate(1108.03px,203.00px) rotate(90.05deg)">19</i><i style="transform:translate(1125.03px,203.00px) rotate(90.05deg)">18</i><i style="transform:translate(1142.03px,203.00px) rotate(90.05deg)">17</i><i style="transform:translate(1159.03px,203.00px) rotate(90.05deg)">16</i><i style="transform:translate(1176.03px,203.00px) rotate(90.05deg)">15</i><i style="transform:translate(1193.03px,203.00px) rotate(90.05deg)">14</i><i style="transform:translate(1210.03px,203.00px) rotate(90.05deg)">13</i><i style="transform:translate(1227.03px,203.00px) rotate(90.05deg)">12</i><i style="transform:translate(1244.03px,203.00px) rotate(90.05deg)">11</i><i style="transform:translate(1261.03px,203.00px) rotate(90.05deg)">10</i><i style="transform:translate(1278.03px,203.70px) rotate(90.05deg)">9</i><i style="transform:translate(1295.03px,203.70px) rotate(90.05deg)">8</i><i style="transform:translate(1312.03px,203.70px) rotate(90.05deg)">7</i><i style="transform:translate(1329.03px,203.70px) rotate(90.05deg)">6</i><i style="transform:translate(1365.43px,203.70px) rotate(90.05deg)">5</i><i style="transform:translate(1382.43px,203.70px) rotate(90.05deg)">4</i><i style="transform:translate(1399.43px,203.70px) rotate(90.05deg)">3</i><i style="transform:translate(1416.43px,203.70px) rotate(90.05deg)">2</i><i style="transform:translate(1433.43px,203.70px) rotate(90.05deg)">1</i><i style="transform:translate(0.08px,220.00px) rotate(90.05deg)">79</i><i style="transform:translate(17.08px,220.00px) rotate(90.05deg)">78</i><i style="transform:translate(34.08px,220.00px) rotate(90.05deg)">77</i><i style="transform:translate(51.08px,220.00px) rotate(90.05deg)">76</i><i style="transform:translate(68.08px,220.00px) rotate(90.05deg)">75</i><i style="transform:translate(104.88px,220.00px) rotate(90.05deg)">74</i><i style="transform:translate(121.88px,220.00px) rotate(90.05deg)">73</i><i style="transform:translate(138.88px,220.00px) rotate(90.05deg)">72</i><i style="transform:translate(155.88px,220.00px) rotate(90.05deg)">71</i><i style="transform:translate(172.88px,220.00px) rotate(90.05deg)">70</i><i style="transform:translate(189.88px,220.00px) rotate(90.05deg)">69</i><i style="transform:translate(206.88px,220.00px) rotate(90.05deg)">68</i><i style="transform:translate(223.88px,220.00px) rotate(90.05deg)">67</i><i style="transform:translate(240.88px,220.00px) rotate(90.05deg)">66</i><i style="transform:translate(257.88px,220.00px) rotate(90.05deg)">65</i><i style="transform:translate(274.88px,220.00px) rotate(90.05deg)">64</i><i style="transform:translate(291.88px,220.00px) rotate(90.05deg)">63</i><i style="transform:translate(308.88px,220.00px) rotate(90.05deg)">62</i><i style="transform:translate(325.88px,220.00px) rotate(90.05deg)">61</i><i style="transform:translate(342.88px,220.00px) rotate(90.05deg)">60</i><i style="transform:translate(359.88px,220.00px) rotate(90.05deg)">59</i><i style="transform:translate(376.88px,220.00px) rotate(90.05deg)">58</i><i style="transform:translate(393.88px,220.00px) rotate(90.05deg)">57</i><i style="transform:translate(410.88px,220.00px) rotate(90.05deg)">56</i><i style="transform:translate(427.88px,220.00px) rotate(90.05deg)">55</i><i style="transform:translate(444.88px,220.00px) rotate(90.05deg)">54</i><i style="transform:translate(496.73px,220.00px) rotate(90.05deg)">53</i><i style="transform:translate(513.73px,220.00px) rotate(90.05deg)">52</i><i style="transform:translate(530.73px,220.00px) rotate(90.05deg)">51</i><i style="transform:translate(547.73px,220.00px) rotate(90.05deg)">50</i><i style="transform:translate(564.73px,220.00px) rotate(90.05deg)">49</i><i style="transform:translate(581.73px,220.00px) rotate(90.05deg)">48</i><i style="transform:translate(598.73px,220.00px) rotate(90.05deg)">47</i><i style="transform:translate(615.73px,220.00px) rotate(90.05deg)">46</i><i style="transform:translate(632.73px,220.00px) rotate(90.05deg)">45</i><i style="transform:translate(649.73px,220.00px) rotate(90.05deg)">44</i><i style="transform:translate(666.73px,220.00px) rotate(90.05deg)">43</i><i style="transform:translate(683.73px,220.00px) rotate(90.05deg)">42</i><i style="transform:translate(700.73px,220.00px) rotate(90.05deg)">41</i><i style="transform:translate(717.73px,220.00px) rotate(90.05deg)">40</i><i style="transform:translate(734.73px,220.00px) rotate(90.05deg)">39</i><i style="transform:translate(751.73px,220.00px) rotate(90.05deg)">38</i><i style="transform:translate(768.73px,220.00px) rotate(90.05deg)">37</i><i style="transform:translate(785.73px,220.00px) rotate(90.05deg)">36</i><i style="transform:translate(802.73px,220.00px) rotate(90.05deg)">35</i><i style="transform:translate(819.73px,220.00px) rotate(90.05deg)">34</i><i style="transform:translate(836.73px,220.00px) rotate(90.05deg)">33</i><i style="transform:translate(853.73px,220.00px) rotate(90.05deg)">32</i><i style="transform:translate(870.73px,220.00px) rotate(90.05deg)">31</i><i style="transform:translate(887.73px,220.00px) rotate(90.05deg)">30</i><i style="transform:translate(904.73px,220.00px) rotate(90.05deg)">29</i><i style="transform:translate(921.73px,220.00px) rotate(90.05deg)">28</i><i style="transform:translate(938.73px,220.00px) rotate(90.05deg)">27</i><i style="transform:translate(989.03px,220.00px) rotate(90.05deg)">26</i><i style="transform:translate(1006.03px,220.00px) rotate(90.05deg)">25</i><i style="transform:translate(1023.03px,220.00px) rotate(90.05deg)">24</i><i style="transform:translate(1040.03px,220.00px) rotate(90.05deg)">23</i><i style="transform:translate(1057.03px,220.00px) rotate(90.05deg)">22</i><i style="transform:translate(1074.03px,220.00px) rotate(90.05deg)">21</i><i style="transform:translate(1091.03px,220.00px) rotate(90.05deg)">20</i><i style="transform:translate(1108.03px,220.00px) rotate(90.05deg)">19</i><i style="transform:translate(1125.03px,220.00px) rotate(90.05deg)">18</i><i style="transform:translate(1142.03px,220.00px) rotate(90.05deg)">17</i><i style="transform:translate(1159.03px,220.00px) rotate(90.05deg)">16</i><i style="transform:translate(1176.03px,220.00px) rotate(90.05deg)">15</i><i style="transform:translate(1193.03px,220.00px) rotate(90.05deg)">14</i><i style="transform:translate(1210.03px,220.00px) rotate(90.05deg)">13</i><i style="transform:translate(1227.03px,220.00px) rotate(90.05deg)">12</i><i style="transform:translate(1244.03px,220.00px) rotate(90.05deg)">11</i><i style="transform:translate(1261.03px,220.00px) rotate(90.05deg)">10</i><i style="transform:translate(1278.03px,220.70px) rotate(90.05deg)">9</i><i style="transform:translate(1295.03px,220.70px) rotate(90.05deg)">8</i><i style="transform:translate(1312.03px,220.70px) rotate(90.05deg)">7</i><i style="transform:translate(1329.03px,220.70px) rotate(90.05deg)">6</i><i style="transform:translate(1365.43px,220.70px) rotate(90.05deg)">5</i><i style="transform:translate(1382.43px,220.70px) rotate(90.05deg)">4</i><i style="transform:translate(1399.43px,220.70px) rotate(90.05deg)">3</i><i style="transform:translate(1416.43px,220.70px) rotate(90.05deg)">2</i><i style="transform:translate(1433.43px,220.70px) rotate(90.05deg)">1</i><i style="transform:translate(0.08px,237.00px) rotate(90.05deg)">64</i><i style="transform:translate(17.08px,237.00px) rotate(90.05deg)">63</i><i style="transform:translate(34.08px,237.00px) rotate(90.05deg)">62</i><i style="transform:translate(51.08px,237.00px) rotate(90.05deg)">61</i><i style="transform:translate(68.08px,237.00px) rotate(90.05deg)">60</i><i style="transform:translate(104.88px,237.00px) rotate(90.05deg)">59</i><i style="transform:translate(121.88px,237.00px) rotate(90.05deg)">58</i><i style="transform:translate(138.88px,237.00px) rotate(90.05deg)">57</i><i style="transform:translate(155.88px,237.00px) rotate(90.05deg)">56</i><i style="transform:translate(172.88px,237.00px) rotate(90.05deg)">55</i><i style="transform:translate(274.88px,237.00px) rotate(90.05deg)">54</i><i style="transform:translate(291.88px,237.00px) rotate(90.05deg)">53</i><i style="transform:translate(308.88px,237.00px) rotate(90.05deg)">52</i><i style="transform:translate(325.88px,237.00px) rotate(90.05deg)">51</i><i style="transform:translate(342.88px,237.00px) rotate(90.05deg)">50</i><i style="transform:translate(359.88px,237.00px) rotate(90.05deg)">49</i><i style="transform:translate(376.88px,237.00px) rotate(90.05deg)">48</i><i style="transform:translate(393.88px,237.00px) rotate(90.05deg)">47</i><i style="transform:translate(410.88px,237.00px) rotate(90.05deg)">46</i><i style="transform:translate(427.88px,237.00px) rotate(90.05deg)">45</i><i style="transform:translate(444.88px,237.00px) rotate(90.05deg)">44</i><i style="transform:translate(496.73px,237.00px) rotate(90.05deg)">43</i><i style="transform:translate(513.73px,237.00px) rotate(90.05deg)">42</i><i style="transform:translate(530.73px,237.00px) rotate(90.05deg)">41</i><i style="transform:translate(547.73px,237.00px) rotate(90.05deg)">40</i><i style="transform:translate(564.73px,237.00px) rotate(90.05deg)">39</i><i style="transform:translate(581.73px,237.00px) rotate(90.05deg)">38</i><i style="transform:translate(598.73px,237.00px) rotate(90.05deg)">37</i><i style="transform:translate(615.73px,237.00px) rotate(90.05deg)">36</i><i style="transform:translate(632.73px,237.00px) rotate(90.05deg)">35</i><i style="transform:translate(649.73px,237.00px) rotate(90.05deg)">34</i><i style="transform:translate(666.73px,237.00px) rotate(90.05deg)">33</i><i style="transform:translate(768.73px,237.00px) rotate(90.05deg)">32</i><i style="transform:translate(785.73px,237.00px) rotate(90.05deg)">31</i><i style="transform:translate(802.73px,237.00px) rotate(90.05deg)">30</i><i style="transform:translate(819.73px,237.00px) rotate(90.05deg)">29</i><i style="transform:translate(836.73px,237.00px) rotate(90.05deg)">28</i><i style="transform:translate(853.73px,237.00px) rotate(90.05deg)">27</i><i style="transform:translate(870.73px,237.00px) rotate(90.05deg)">26</i><i style="transform:translate(887.73px,237.00px) rotate(90.05deg)">25</i><i style="transform:translate(904.73px,237.00px) rotate(90.05deg)">24</i><i style="transform:translate(921.73px,237.00px) rotate(90.05deg)">23</i><i style="transform:translate(938.73px,237.00px) rotate(90.05deg)">22</i><i style="transform:translate(989.03px,237.00px) rotate(90.05deg)">21</i><i style="transform:translate(1006.03px,237.00px) rotate(90.05deg)">20</i><i style="transform:translate(1023.03px,237.00px) rotate(90.05deg)">19</i><i style="transform:translate(1040.03px,237.00px) rotate(90.05deg)">18</i><i style="transform:translate(1057.03px,237.00px) rotate(90.05deg)">17</i><i style="transform:translate(1074.03px,237.00px) rotate(90.05deg)">16</i><i style="transform:translate(1091.03px,237.00px) rotate(90.05deg)">15</i><i style="transform:translate(1108.03px,237.00px) rotate(90.05deg)">14</i><i style="transform:translate(1125.03px,237.00px) rotate(90.05deg)">13</i><i style="transform:translate(1142.03px,237.00px) rotate(90.05deg)">12</i><i style="transform:translate(1159.03px,237.00px) rotate(90.05deg)">11</i><i style="transform:translate(1261.03px,237.00px) rotate(90.05deg)">10</i><i style="transform:translate(1278.03px,237.70px) rotate(90.05deg)">9</i><i style="transform:translate(1295.03px,237.70px) rotate(90.05deg)">8</i><i style="transform:translate(1312.03px,237.70px) rotate(90.05deg)">7</i><i style="transform:translate(1329.03px,237.70px) rotate(90.05deg)">6</i><i style="transform:translate(1365.43px,237.70px) rotate(90.05deg)">5</i><i style="transform:translate(1382.43px,237.70px) rotate(90.05deg)">4</i><i style="transform:translate(1399.43px,237.70px) rotate(90.05deg)">3</i><i style="transform:translate(1416.43px,237.70px) rotate(90.05deg)">2</i><i style="transform:translate(1433.43px,237.70px) rotate(90.05deg)">1</i><i style="transform:translate(0.08px,254.00px) rotate(90.05deg)">64</i><i style="transform:translate(17.08px,254.00px) rotate(90.05deg)">63</i><i style="transform:translate(34.08px,254.00px) rotate(90.05deg)">62</i><i style="transform:translate(51.08px,254.00px) rotate(90.05deg)">61</i><i style="transform:translate(68.08px,254.00px) rotate(90.05deg)">60</i><i style="transform:translate(104.88px,254.00px) rotate(90.05deg)">59</i><i style="transform:translate(121.88px,254.00px) rotate(90.05deg)">58</i><i style="transform:translate(138.88px,254.00px) rotate(90.05deg)">57</i><i style="transform:translate(155.88px,254.00px) rotate(90.05deg)">56</i><i style="transform:translate(172.88px,254.00px) rotate(90.05deg)">55</i><i style="transform:translate(274.88px,254.00px) rotate(90.05deg)">54</i><i style="transform:translate(291.88px,254.00px) rotate(90.05deg)">53</i><i style="transform:translate(308.88px,254.00px) rotate(90.05deg)">52</i><i style="transform:translate(325.88px,254.00px) rotate(90.05deg)">51</i><i style="transform:translate(342.88px,254.00px) rotate(90.05deg)">50</i><i style="transform:translate(359.88px,254.00px) rotate(90.05deg)">49</i><i style="transform:translate(376.88px,254.00px) rotate(90.05deg)">48</i><i style="transform:translate(393.88px,254.00px) rotate(90.05deg)">47</i><i style="transform:translate(410.88px,254.00px) rotate(90.05deg)">46</i><i style="transform:translate(427.88px,254.00px) rotate(90.05deg)">45</i><i style="transform:translate(444.88px,254.00px) rotate(90.05deg)">44</i><i style="transform:translate(496.73px,254.00px) rotate(90.05deg)">43</i><i style="transform:translate(513.73px,254.00px) rotate(90.05deg)">42</i><i style="transform:translate(530.73px,254.00px) rotate(90.05deg)">41</i><i style="transform:translate(547.73px,254.00px) rotate(90.05deg)">40</i><i style="transform:translate(564.73px,254.00px) rotate(90.05deg)">39</i><i style="transform:translate(581.73px,254.00px) rotate(90.05deg)">38</i><i style="transform:translate(598.73px,254.00px) rotate(90.05deg)">37</i><i style="transform:translate(615.73px,254.00px) rotate(90.05deg)">36</i><i style="transform:translate(632.73px,254.00px) rotate(90.05deg)">35</i><i style="transform:translate(649.73px,254.00px) rotate(90.05deg)">34</i><i style="transform:translate(666.73px,254.00px) rotate(90.05deg)">33</i><i style="transform:translate(768.73px,254.00px) rotate(90.05deg)">32</i><i style="transform:translate(785.73px,254.00px) rotate(90.05deg)">31</i><i style="transform:translate(802.73px,254.00px) rotate(90.05deg)">30</i><i style="transform:translate(819.73px,254.00px) rotate(90.05deg)">29</i><i style="transform:translate(836.73px,254.00px) rotate(90.05deg)">28</i><i style="transform:translate(853.73px,254.00px) rotate(90.05deg)">27</i><i style="transform:translate(870.73px,254.00px) rotate(90.05deg)">26</i><i style="transform:translate(887.73px,254.00px) rotate(90.05deg)">25</i><i style="transform:translate(904.73px,254.00px) rotate(90.05deg)">24</i><i style="transform:translate(921.73px,254.00px) rotate(90.05deg)">23</i><i style="transform:translate(938.73px,254.00px) rotate(90.05deg)">22</i><i style="transform:translate(989.03px,254.00px) rotate(90.05deg)">21</i><i style="transform:translate(1006.03px,254.00px) rotate(90.05deg)">20</i><i style="transform:translate(1023.03px,254.00px) rotate(90.05deg)">19</i><i style="transform:translate(1040.03px,254.00px) rotate(90.05deg)">18</i><i style="transform:translate(1057.03px,254.00px) rotate(90.05deg)">17</i><i style="transform:translate(1074.03px,254.00px) rotate(90.05deg)">16</i><i style="transform:translate(1091.03px,254.00px) rotate(90.05deg)">15</i><i style="transform:translate(1108.03px,254.00px) rotate(90.05deg)">14</i><i style="transform:translate(1125.03px,254.00px) rotate(90.05deg)">13</i><i style="transform:translate(1142.03px,254.00px) rotate(90.05deg)">12</i><i style="transform:translate(1159.03px,254.00px) rotate(90.05deg)">11</i><i style="transform:translate(1261.03px,254.00px) rotate(90.05deg)">10</i><i style="transform:translate(1278.03px,254.70px) rotate(90.05deg)">9</i><i style="transform:translate(1295.03px,254.70px) rotate(90.05deg)">8</i><i style="transform:translate(1312.03px,254.70px) rotate(90.05deg)">7</i><i style="transform:translate(1329.03px,254.70px) rotate(90.05deg)">6</i><i style="transform:translate(1365.43px,254.70px) rotate(90.05deg)">5</i><i style="transform:translate(1382.43px,254.70px) rotate(90.05deg)">4</i><i style="transform:translate(1399.43px,254.70px) rotate(90.05deg)">3</i><i style="transform:translate(1416.43px,254.70px) rotate(90.05deg)">2</i><i style="transform:translate(1433.43px,254.70px) rotate(90.05deg)">1</i><i style="transform:translate(0.08px,271.00px) rotate(90.05deg)">64</i><i style="transform:translate(17.08px,271.00px) rotate(90.05deg)">63</i><i style="transform:translate(34.08px,271.00px) rotate(90.05deg)">62</i><i style="transform:translate(51.08px,271.00px) rotate(90.05deg)">61</i><i style="transform:translate(68.08px,271.00px) rotate(90.05deg)">60</i><i style="transform:translate(104.88px,271.00px) rotate(90.05deg)">59</i><i style="transform:translate(121.88px,271.00px) rotate(90.05deg)">58</i><i style="transform:translate(138.88px,271.00px) rotate(90.05deg)">57</i><i style="transform:translate(155.88px,271.00px) rotate(90.05deg)">56</i><i style="transform:translate(172.88px,271.00px) rotate(90.05deg)">55</i><i style="transform:translate(274.88px,271.00px) rotate(90.05deg)">54</i><i style="transform:translate(291.88px,271.00px) rotate(90.05deg)">53</i><i style="transform:translate(308.88px,271.00px) rotate(90.05deg)">52</i><i style="transform:translate(325.88px,271.00px) rotate(90.05deg)">51</i><i style="transform:translate(342.88px,271.00px) rotate(90.05deg)">50</i><i style="transform:translate(359.88px,271.00px) rotate(90.05deg)">49</i><i style="transform:translate(376.88px,271.00px) rotate(90.05deg)">48</i><i style="transform:translate(393.88px,271.00px) rotate(90.05deg)">47</i><i style="transform:translate(410.88px,271.00px) rotate(90.05deg)">46</i><i style="transform:translate(427.88px,271.00px) rotate(90.05deg)">45</i><i style="transform:translate(444.88px,271.00px) rotate(90.05deg)">44</i><i style="transform:translate(496.73px,271.00px) rotate(90.05deg)">43</i><i style="transform:translate(513.73px,271.00px) rotate(90.05deg)">42</i><i style="transform:translate(530.73px,271.00px) rotate(90.05deg)">41</i><i style="transform:translate(547.73px,271.00px) rotate(90.05deg)">40</i><i style="transform:translate(564.73px,271.00px) rotate(90.05deg)">39</i><i style="transform:translate(581.73px,271.00px) rotate(90.05deg)">38</i><i style="transform:translate(598.73px,271.00px) rotate(90.05deg)">37</i><i style="transform:translate(615.73px,271.00px) rotate(90.05deg)">36</i><i style="transform:translate(632.73px,271.00px) rotate(90.05deg)">35</i><i style="transform:translate(649.73px,271.00px) rotate(90.05deg)">34</i><i style="transform:translate(666.73px,271.00px) rotate(90.05deg)">33</i><i style="transform:translate(768.73px,271.00px) rotate(90.05deg)">32</i><i style="transform:translate(785.73px,271.00px) rotate(90.05deg)">31</i><i style="transform:translate(802.73px,271.00px) rotate(90.05deg)">30</i><i style="transform:translate(819.73px,271.00px) rotate(90.05deg)">29</i><i style="transform:translate(836.73px,271.00px) rotate(90.05deg)">28</i><i style="transform:translate(853.73px,271.00px) rotate(90.05deg)">27</i><i style="transform:translate(870.73px,271.00px) rotate(90.05deg)">26</i><i style="transform:translate(887.73px,271.00px) rotate(90.05deg)">25</i><i style="transform:translate(904.73px,271.00px) rotate(90.05deg)">24</i><i style="transform:translate(921.73px,271.00px) rotate(90.05deg)">23</i><i style="transform:translate(938.73px,271.00px) rotate(90.05deg)">22</i><i style="transform:translate(989.03px,271.00px) rotate(90.05deg)">21</i><i style="transform:translate(1006.03px,271.00px) rotate(90.05deg)">20</i><i style="transform:translate(1023.03px,271.00px) rotate(90.05deg)">19</i><i style="transform:translate(1040.03px,271.00px) rotate(90.05deg)">18</i><i style="transform:translate(1057.03px,271.00px) rotate(90.05deg)">17</i><i style="transform:translate(1074.03px,271.00px) rotate(90.05deg)">16</i><i style="transform:translate(1091.03px,271.00px) rotate(90.05deg)">15</i><i style="transform:translate(1108.03px,271.00px) rotate(90.05deg)">14</i><i style="transform:translate(1125.03px,271.00px) rotate(90.05deg)">13</i><i style="transform:translate(1142.03px,271.00px) rotate(90.05deg)">12</i><i style="transform:translate(1159.03px,271.00px) rotate(90.05deg)">11</i><i style="transform:translate(1261.03px,271.00px) rotate(90.05deg)">10</i><i style="transform:translate(1278.03px,271.70px) rotate(90.05deg)">9</i><i style="transform:translate(1295.03px,271.70px) rotate(90.05deg)">8</i><i style="transform:translate(1312.03px,271.70px) rotate(90.05deg)">7</i><i style="transform:translate(1329.03px,271.70px) rotate(90.05deg)">6</i><i style="transform:translate(1365.43px,271.70px) rotate(90.05deg)">5</i><i style="transform:translate(1382.43px,271.70px) rotate(90.05deg)">4</i><i style="transform:translate(1399.43px,271.70px) rotate(90.05deg)">3</i><i style="transform:translate(1416.43px,271.70px) rotate(90.05deg)">2</i><i style="transform:translate(1433.43px,271.70px) rotate(90.05deg)">1</i><i style="transform:translate(0.08px,288.00px) rotate(90.05deg)">64</i><i style="transform:translate(17.08px,288.00px) rotate(90.05deg)">63</i><i style="transform:translate(34.08px,288.00px) rotate(90.05deg)">62</i><i style="transform:translate(51.08px,288.00px) rotate(90.05deg)">61</i><i style="transform:translate(68.08px,288.00px) rotate(90.05deg)">60</i><i style="transform:translate(104.88px,288.00px) rotate(90.05deg)">59</i><i style="transform:translate(121.88px,288.00px) rotate(90.05deg)">58</i><i style="transform:translate(138.88px,288.00px) rotate(90.05deg)">57</i><i style="transform:translate(155.88px,288.00px) rotate(90.05deg)">56</i><i style="transform:translate(172.88px,288.00px) rotate(90.05deg)">55</i><i style="transform:translate(274.88px,288.00px) rotate(90.05deg)">54</i><i style="transform:translate(291.88px,288.00px) rotate(90.05deg)">53</i><i style="transform:translate(308.88px,288.00px) rotate(90.05deg)">52</i><i style="transform:translate(325.88px,288.00px) rotate(90.05deg)">51</i><i style="transform:translate(342.88px,288.00px) rotate(90.05deg)">50</i><i style="transform:translate(359.88px,288.00px) rotate(90.05deg)">49</i><i style="transform:translate(376.88px,288.00px) rotate(90.05deg)">48</i><i style="transform:translate(393.88px,288.00px) rotate(90.05deg)">47</i><i style="transform:translate(410.88px,288.00px) rotate(90.05deg)">46</i><i style="transform:translate(427.88px,288.00px) rotate(90.05deg)">45</i><i style="transform:translate(444.88px,288.00px) rotate(90.05deg)">44</i><i style="transform:translate(496.73px,288.00px) rotate(90.05deg)">43</i><i style="transform:translate(513.73px,288.00px) rotate(90.05deg)">42</i><i style="transform:translate(530.73px,288.00px) rotate(90.05deg)">41</i><i style="transform:translate(547.73px,288.00px) rotate(90.05deg)">40</i><i style="transform:translate(564.73px,288.00px) rotate(90.05deg)">39</i><i style="transform:translate(581.73px,288.00px) rotate(90.05deg)">38</i><i style="transform:translate(598.73px,288.00px) rotate(90.05deg)">37</i><i style="transform:translate(615.73px,288.00px) rotate(90.05deg)">36</i><i style="transform:translate(632.73px,288.00px) rotate(90.05deg)">35</i><i style="transform:translate(649.73px,288.00px) rotate(90.05deg)">34</i><i style="transform:translate(666.73px,288.00px) rotate(90.05deg)">33</i><i style="transform:translate(768.73px,288.00px) rotate(90.05deg)">32</i><i style="transform:translate(785.73px,288.00px) rotate(90.05deg)">31</i><i style="transform:translate(802.73px,288.00px) rotate(90.05deg)">30</i><i style="transform:translate(819.73px,288.00px) rotate(90.05deg)">29</i><i style="transform:translate(836.73px,288.00px) rotate(90.05deg)">28</i><i style="transform:translate(853.73px,288.00px) rotate(90.05deg)">27</i><i style="transform:translate(870.73px,288.00px) rotate(90.05deg)">26</i><i style="transform:translate(887.73px,288.00px) rotate(90.05deg)">25</i><i style="transform:translate(904.73px,288.00px) rotate(90.05deg)">24</i><i style="transform:translate(921.73px,288.00px) rotate(90.05deg)">23</i><i style="transform:translate(938.73px,288.00px) rotate(90.05deg)">22</i><i style="transform:translate(989.03px,288.00px) rotate(90.05deg)">21</i><i style="transform:translate(1006.03px,288.00px) rotate(90.05deg)">20</i><i style="transform:translate(1023.03px,288.00px) rotate(90.05deg)">19</i><i style="transform:translate(1040.03px,288.00px) rotate(90.05deg)">18</i><i style="transform:translate(1057.03px,288.00px) rotate(90.05deg)">17</i><i style="transform:translate(1074.03px,288.00px) rotate(90.05deg)">16</i><i style="transform:translate(1091.03px,288.00px) rotate(90.05deg)">15</i><i style="transform:translate(1108.03px,288.00px) rotate(90.05deg)">14</i><i style="transform:translate(1125.03px,288.00px) rotate(90.05deg)">13</i><i style="transform:translate(1142.03px,288.00px) rotate(90.05deg)">12</i><i style="transform:translate(1159.03px,288.00px) rotate(90.05deg)">11</i><i style="transform:translate(1261.03px,288.00px) rotate(90.05deg)">10</i><i style="transform:translate(1278.03px,288.70px) rotate(90.05deg)">9</i><i style="transform:translate(1295.03px,288.70px) rotate(90.05deg)">8</i><i style="transform:translate(1312.03px,288.70px) rotate(90.05deg)">7</i><i style="transform:translate(1329.03px,288.70px) rotate(90.05deg)">6</i><i style="transform:translate(1365.43px,288.70px) rotate(90.05deg)">5</i><i style="transform:translate(1382.43px,288.70px) rotate(90.05deg)">4</i><i style="transform:translate(1399.43px,288.70px) rotate(90.05deg)">3</i><i style="transform:translate(1416.43px,288.70px) rotate(90.05deg)">2</i><i style="transform:translate(1433.43px,288.70px) rotate(90.05deg)">1</i><i style="transform:translate(80.18px,349.05px) rotate(90.05deg)">1</i><i style="transform:translate(97.18px,349.05px) rotate(90.05deg)">2</i><i style="transform:translate(114.18px,349.05px) rotate(90.05deg)">3</i><i style="transform:translate(131.18px,349.05px) rotate(90.05deg)">4</i><i style="transform:translate(148.18px,349.05px) rotate(90.05deg)">5</i><i style="transform:translate(165.18px,349.05px) rotate(90.05deg)">6</i><i style="transform:translate(182.18px,349.05px) rotate(90.05deg)">7</i><i style="transform:translate(199.18px,349.05px) rotate(90.05deg)">8</i><i style="transform:translate(216.18px,349.05px) rotate(90.05deg)">9</i><i style="transform:translate(233.18px,348.35px) rotate(90.05deg)">10</i><i style="transform:translate(250.18px,348.35px) rotate(90.05deg)">11</i><i style="transform:translate(267.18px,348.35px) rotate(90.05deg)">12</i><i style="transform:translate(284.18px,348.35px) rotate(90.05deg)">13</i><i style="transform:translate(301.18px,348.35px) rotate(90.05deg)">14</i><i style="transform:translate(318.18px,348.35px) rotate(90.05deg)">15</i><i style="transform:translate(335.18px,348.35px) rotate(90.05deg)">16</i><i style="transform:translate(352.18px,348.35px) rotate(90.05deg)">17</i><i style="transform:translate(369.18px,348.35px) rotate(90.05deg)">18</i><i style="transform:translate(386.18px,348.35px) rotate(90.05deg)">19</i><i style="transform:translate(403.18px,348.35px) rotate(90.05deg)">20</i><i style="transform:translate(420.18px,348.35px) rotate(90.05deg)">21</i><i style="transform:translate(437.18px,348.35px) rotate(90.05deg)">22</i><i style="transform:translate(484.03px,348.35px) rotate(90.05deg)">23</i><i style="transform:translate(501.03px,348.35px) rotate(90.05deg)">24</i><i style="transform:translate(518.03px,348.35px) rotate(90.05deg)">25</i><i style="transform:translate(535.03px,348.35px) rotate(90.05deg)">26</i><i style="transform:translate(552.03px,348.35px) rotate(90.05deg)">27</i><i style="transform:translate(569.03px,348.35px) rotate(90.05deg)">28</i><i style="transform:translate(586.03px,348.35px) rotate(90.05deg)">29</i><i style="transform:translate(603.03px,348.35px) rotate(90.05deg)">30</i><i style="transform:translate(620.03px,348.35px) rotate(90.05deg)">31</i><i style="transform:translate(637.03px,348.35px) rotate(90.05deg)">32</i><i style="transform:translate(654.03px,348.35px) rotate(90.05deg)">33</i><i style="transform:translate(671.03px,348.35px) rotate(90.05deg)">34</i><i style="transform:translate(688.03px,348.35px) rotate(90.05deg)">35</i><i style="transform:translate(705.03px,348.35px) rotate(90.05deg)">36</i><i style="transform:translate(722.03px,348.35px) rotate(90.05deg)">37</i><i style="transform:translate(739.03px,348.35px) rotate(90.05deg)">38</i><i style="transform:translate(756.03px,348.35px) rotate(90.05deg)">39</i><i style="transform:translate(773.03px,348.35px) rotate(90.05deg)">40</i><i style="transform:translate(790.03px,348.35px) rotate(90.05deg)">41</i><i style="transform:translate(807.03px,348.35px) rotate(90.05deg)">42</i><i style="transform:translate(824.03px,348.35px) rotate(90.05deg)">43</i><i style="transform:translate(841.03px,348.35px) rotate(90.05deg)">44</i><i style="transform:translate(858.03px,348.35px) rotate(90.05deg)">45</i><i style="transform:translate(875.03px,348.35px) rotate(90.05deg)">46</i><i style="transform:translate(892.03px,348.35px) rotate(90.05deg)">47</i><i style="transform:translate(909.03px,348.35px) rotate(90.05deg)">48</i><i style="transform:translate(926.03px,348.35px) rotate(90.05deg)">49</i><i style="transform:translate(943.03px,348.35px) rotate(90.05deg)">50</i><i style="transform:translate(960.03px,348.35px) rotate(90.05deg)">51</i><i style="transform:translate(1007.13px,348.35px) rotate(90.05deg)">52</i><i style="transform:translate(1024.13px,348.35px) rotate(90.05deg)">53</i><i style="transform:translate(1041.13px,348.35px) rotate(90.05deg)">54</i><i style="transform:translate(1058.13px,348.35px) rotate(90.05deg)">55</i><i style="transform:translate(1075.13px,348.35px) rotate(90.05deg)">56</i><i style="transform:translate(1092.13px,348.35px) rotate(90.05deg)">57</i><i style="transform:translate(1109.13px,348.35px) rotate(90.05deg)">58</i><i style="transform:translate(1126.13px,348.35px) rotate(90.05deg)">59</i><i style="transform:translate(1143.13px,348.35px) rotate(90.05deg)">60</i><i style="transform:translate(1160.13px,348.35px) rotate(90.05deg)">61</i><i style="transform:translate(1177.13px,348.35px) rotate(90.05deg)">62</i><i style="transform:translate(1194.13px,348.35px) rotate(90.05deg)">63</i><i style="transform:translate(1211.13px,348.35px) rotate(90.05deg)">64</i><i style="transform:translate(1228.13px,348.35px) rotate(90.05deg)">65</i><i style="transform:translate(1245.13px,348.35px) rotate(90.05deg)">66</i><i style="transform:translate(1262.13px,348.35px) rotate(90.05deg)">67</i><i style="transform:translate(1279.13px,348.35px) rotate(90.05deg)">68</i><i style="transform:translate(1296.13px,348.35px) rotate(90.05deg)">69</i><i style="transform:translate(1313.13px,348.35px) rotate(90.05deg)">70</i><i style="transform:translate(1330.13px,348.35px) rotate(90.05deg)">71</i><i style="transform:translate(1347.13px,348.35px) rotate(90.05deg)">72</i><i style="transform:translate(1364.13px,348.35px) rotate(90.05deg)">73</i><i style="transform:translate(80.18px,366.16px) rotate(90.05deg)">1</i><i style="transform:translate(97.18px,366.16px) rotate(90.05deg)">2</i><i style="transform:translate(114.18px,366.16px) rotate(90.05deg)">3</i><i style="transform:translate(131.18px,366.16px) rotate(90.05deg)">4</i><i style="transform:translate(148.18px,366.16px) rotate(90.05deg)">5</i><i style="transform:translate(165.18px,366.16px) rotate(90.05deg)">6</i><i style="transform:translate(182.18px,366.16px) rotate(90.05deg)">7</i><i style="transform:translate(199.18px,366.16px) rotate(90.05deg)">8</i><i style="transform:translate(216.18px,366.16px) rotate(90.05deg)">9</i><i style="transform:translate(233.18px,365.46px) rotate(90.05deg)">10</i><i style="transform:translate(250.18px,365.46px) rotate(90.05deg)">11</i><i style="transform:translate(267.18px,365.46px) rotate(90.05deg)">12</i><i style="transform:translate(284.18px,365.46px) rotate(90.05deg)">13</i><i style="transform:translate(301.18px,365.46px) rotate(90.05deg)">14</i><i style="transform:translate(318.18px,365.46px) rotate(90.05deg)">15</i><i style="transform:translate(335.18px,365.46px) rotate(90.05deg)">16</i><i style="transform:translate(352.18px,365.46px) rotate(90.05deg)">17</i><i style="transform:translate(369.18px,365.46px) rotate(90.05deg)">18</i><i style="transform:translate(386.18px,365.46px) rotate(90.05deg)">19</i><i style="transform:translate(403.18px,365.46px) rotate(90.05deg)">20</i><i style="transform:translate(420.18px,365.46px) rotate(90.05deg)">21</i><i style="transform:translate(437.18px,365.46px) rotate(90.05deg)">22</i><i style="transform:translate(484.03px,365.46px) rotate(90.05deg)">23</i><i style="transform:translate(501.03px,365.46px) rotate(90.05deg)">24</i><i style="transform:translate(518.03px,365.46px) rotate(90.05deg)">25</i><i style="transform:translate(535.03px,365.46px) rotate(90.05deg)">26</i><i style="transform:translate(552.03px,365.46px) rotate(90.05deg)">27</i><i style="transform:translate(569.03px,365.46px) rotate(90.05deg)">28</i><i style="transform:translate(586.03px,365.46px) rotate(90.05deg)">29</i><i style="transform:translate(603.03px,365.46px) rotate(90.05deg)">30</i><i style="transform:translate(620.03px,365.46px) rotate(90.05deg)">31</i><i style="transform:translate(637.03px,365.46px) rotate(90.05deg)">32</i><i style="transform:translate(654.03px,365.46px) rotate(90.05deg)">33</i><i style="transform:translate(671.03px,365.46px) rotate(90.05deg)">34</i><i style="transform:translate(688.03px,365.46px) rotate(90.05deg)">35</i><i style="transform:translate(705.03px,365.46px) rotate(90.05deg)">36</i><i style="transform:translate(722.03px,365.46px) rotate(90.05deg)">37</i><i style="transform:translate(739.03px,365.46px) rotate(90.05deg)">38</i><i style="transform:translate(756.03px,365.46px) rotate(90.05deg)">39</i><i style="transform:translate(773.03px,365.46px) rotate(90.05deg)">40</i><i style="transform:translate(790.03px,365.46px) rotate(90.05deg)">41</i><i style="transform:translate(807.03px,365.46px) rotate(90.05deg)">42</i><i style="transform:translate(824.03px,365.46px) rotate(90.05deg)">43</i><i style="transform:translate(841.03px,365.46px) rotate(90.05deg)">44</i><i style="transform:translate(858.03px,365.46px) rotate(90.05deg)">45</i><i style="transform:translate(875.03px,365.46px) rotate(90.05deg)">46</i><i style="transform:translate(892.03px,365.46px) rotate(90.05deg)">47</i><i style="transform:translate(909.03px,365.46px) rotate(90.05deg)">48</i><i style="transform:translate(926.03px,365.46px) rotate(90.05deg)">49</i><i style="transform:translate(943.03px,365.46px) rotate(90.05deg)">50</i><i style="transform:translate(960.03px,365.46px) rotate(90.05deg)">51</i><i style="transform:translate(1007.13px,365.46px) rotate(90.05deg)">52</i><i style="transform:translate(1024.13px,365.46px) rotate(90.05deg)">53</i><i style="transform:translate(1041.13px,365.46px) rotate(90.05deg)">54</i><i style="transform:translate(1058.13px,365.46px) rotate(90.05deg)">55</i><i style="transform:translate(1075.13px,365.46px) rotate(90.05deg)">56</i><i style="transform:translate(1092.13px,365.46px) rotate(90.05deg)">57</i><i style="transform:translate(1109.13px,365.46px) rotate(90.05deg)">58</i><i style="transform:translate(1126.13px,365.46px) rotate(90.05deg)">59</i><i style="transform:translate(1143.13px,365.46px) rotate(90.05deg)">60</i><i style="transform:translate(1160.13px,365.46px) rotate(90.05deg)">61</i><i style="transform:translate(1177.13px,365.46px) rotate(90.05deg)">62</i><i style="transform:translate(1194.13px,365.46px) rotate(90.05deg)">63</i><i style="transform:translate(1211.13px,365.46px) rotate(90.05deg)">64</i><i style="transform:translate(1228.13px,365.46px) rotate(90.05deg)">65</i><i style="transform:translate(1245.13px,365.46px) rotate(90.05deg)">66</i><i style="transform:translate(1262.13px,365.46px) rotate(90.05deg)">67</i><i style="transform:translate(1279.13px,365.46px) rotate(90.05deg)">68</i><i style="transform:translate(1296.13px,365.46px) rotate(90.05deg)">69</i><i style="transform:translate(1313.13px,365.46px) rotate(90.05deg)">70</i><i style="transform:translate(1330.13px,365.46px) rotate(90.05deg)">71</i><i style="transform:translate(1347.13px,365.46px) rotate(90.05deg)">72</i><i style="transform:translate(1364.13px,365.46px) rotate(90.05deg)">73</i><i style="transform:translate(80.18px,383.27px) rotate(90.05deg)">1</i><i style="transform:translate(97.18px,383.27px) rotate(90.05deg)">2</i><i style="transform:translate(114.18px,383.27px) rotate(90.05deg)">3</i><i style="transform:translate(131.18px,383.27px) rotate(90.05deg)">4</i><i style="transform:translate(148.18px,383.27px) rotate(90.05deg)">5</i><i style="transform:translate(165.18px,383.27px) rotate(90.05deg)">6</i><i style="transform:translate(182.18px,383.27px) rotate(90.05deg)">7</i><i style="transform:translate(199.18px,383.27px) rotate(90.05deg)">8</i><i style="transform:translate(216.18px,383.27px) rotate(90.05deg)">9</i><i style="transform:translate(233.18px,382.57px) rotate(90.05deg)">10</i><i style="transform:translate(250.18px,382.57px) rotate(90.05deg)">11</i><i style="transform:translate(267.18px,382.57px) rotate(90.05deg)">12</i><i style="transform:translate(284.18px,382.57px) rotate(90.05deg)">13</i><i style="transform:translate(301.18px,382.57px) rotate(90.05deg)">14</i><i style="transform:translate(318.18px,382.57px) rotate(90.05deg)">15</i><i style="transform:translate(335.18px,382.57px) rotate(90.05deg)">16</i><i style="transform:translate(352.18px,382.57px) rotate(90.05deg)">17</i><i style="transform:translate(369.18px,382.57px) rotate(90.05deg)">18</i><i style="transform:translate(386.18px,382.57px) rotate(90.05deg)">19</i><i style="transform:translate(403.18px,382.57px) rotate(90.05deg)">20</i><i style="transform:translate(420.18px,382.57px) rotate(90.05deg)">21</i><i style="transform:translate(437.18px,382.57px) rotate(90.05deg)">22</i><i style="transform:translate(484.03px,382.57px) rotate(90.05deg)">23</i><i style="transform:translate(501.03px,382.57px) rotate(90.05deg)">24</i><i style="transform:translate(518.03px,382.57px) rotate(90.05deg)">25</i><i style="transform:translate(535.03px,382.57px) rotate(90.05deg)">26</i><i style="transform:translate(552.03px,382.57px) rotate(90.05deg)">27</i><i style="transform:translate(569.03px,382.57px) rotate(90.05deg)">28</i><i style="transform:translate(586.03px,382.57px) rotate(90.05deg)">29</i><i style="transform:translate(603.03px,382.57px) rotate(90.05deg)">30</i><i style="transform:translate(841.03px,382.57px) rotate(90.05deg)">43</i><i style="transform:translate(858.03px,382.57px) rotate(90.05deg)">44</i><i style="transform:translate(875.03px,382.57px) rotate(90.05deg)">45</i><i style="transform:translate(892.03px,382.57px) rotate(90.05deg)">46</i><i style="transform:translate(909.03px,382.57px) rotate(90.05deg)">47</i><i style="transform:translate(926.03px,382.57px) rotate(90.05deg)">48</i><i style="transform:translate(943.03px,382.57px) rotate(90.05deg)">49</i><i style="transform:translate(960.03px,382.57px) rotate(90.05deg)">50</i><i style="transform:translate(1007.13px,382.57px) rotate(90.05deg)">51</i><i style="transform:translate(1024.13px,382.57px) rotate(90.05deg)">52</i><i style="transform:translate(1041.13px,382.57px) rotate(90.05deg)">53</i><i style="transform:translate(1058.13px,382.57px) rotate(90.05deg)">54</i><i style="transform:translate(1075.13px,382.57px) rotate(90.05deg)">55</i><i style="transform:translate(1092.13px,382.57px) rotate(90.05deg)">56</i><i style="transform:translate(1109.13px,382.57px) rotate(90.05deg)">57</i><i style="transform:translate(1126.13px,382.57px) rotate(90.05deg)">58</i><i style="transform:translate(1143.13px,382.57px) rotate(90.05deg)">59</i><i style="transform:translate(1160.13px,382.57px) rotate(90.05deg)">60</i><i style="transform:translate(1177.13px,382.57px) rotate(90.05deg)">61</i><i style="transform:translate(1194.13px,382.57px) rotate(90.05deg)">62</i><i style="transform:translate(1211.13px,382.57px) rotate(90.05deg)">63</i><i style="transform:translate(1228.13px,382.57px) rotate(90.05deg)">64</i><i style="transform:translate(1245.13px,382.57px) rotate(90.05deg)">65</i><i style="transform:translate(1262.13px,382.57px) rotate(90.05deg)">66</i><i style="transform:translate(1279.13px,382.57px) rotate(90.05deg)">67</i><i style="transform:translate(1296.13px,382.57px) rotate(90.05deg)">68</i><i style="transform:translate(1313.13px,382.57px) rotate(90.05deg)">69</i><i style="transform:translate(1330.13px,382.57px) rotate(90.05deg)">70</i><i style="transform:translate(1347.13px,382.57px) rotate(90.05deg)">71</i><i style="transform:translate(1364.13px,382.57px) rotate(90.05deg)">72</i><i style="transform:translate(80.18px,400.38px) rotate(90.05deg)">1</i><i style="transform:translate(97.18px,400.38px) rotate(90.05deg)">2</i><i style="transform:translate(114.18px,400.38px) rotate(90.05deg)">3</i><i style="transform:translate(131.18px,400.38px) rotate(90.05deg)">4</i><i style="transform:translate(148.18px,400.38px) rotate(90.05deg)">5</i><i style="transform:translate(165.18px,400.38px) rotate(90.05deg)">6</i><i style="transform:translate(182.18px,400.38px) rotate(90.05deg)">7</i><i style="transform:translate(199.18px,400.38px) rotate(90.05deg)">8</i><i style="transform:translate(216.18px,400.38px) rotate(90.05deg)">9</i><i style="transform:translate(233.18px,399.68px) rotate(90.05deg)">10</i><i style="transform:translate(250.18px,399.68px) rotate(90.05deg)">11</i><i style="transform:translate(267.18px,399.68px) rotate(90.05deg)">12</i><i style="transform:translate(284.18px,399.68px) rotate(90.05deg)">13</i><i style="transform:translate(301.18px,399.68px) rotate(90.05deg)">14</i><i style="transform:translate(318.18px,399.68px) rotate(90.05deg)">15</i><i style="transform:translate(335.18px,399.68px) rotate(90.05deg)">16</i><i style="transform:translate(352.18px,399.68px) rotate(90.05deg)">17</i><i style="transform:translate(369.18px,399.68px) rotate(90.05deg)">18</i><i style="transform:translate(386.18px,399.68px) rotate(90.05deg)">19</i><i style="transform:translate(403.18px,399.68px) rotate(90.05deg)">20</i><i style="transform:translate(420.18px,399.68px) rotate(90.05deg)">21</i><i style="transform:translate(437.18px,399.68px) rotate(90.05deg)">22</i><i style="transform:translate(484.03px,399.68px) rotate(90.05deg)">23</i><i style="transform:translate(501.03px,399.68px) rotate(90.05deg)">24</i><i style="transform:translate(518.03px,399.68px) rotate(90.05deg)">25</i><i style="transform:translate(535.03px,399.68px) rotate(90.05deg)">26</i><i style="transform:translate(552.03px,399.68px) rotate(90.05deg)">27</i><i style="transform:translate(569.03px,399.68px) rotate(90.05deg)">28</i><i style="transform:translate(586.03px,399.68px) rotate(90.05deg)">29</i><i style="transform:translate(603.03px,399.68px) rotate(90.05deg)">30</i><i style="transform:translate(841.03px,399.68px) rotate(90.05deg)">43</i><i style="transform:translate(858.03px,399.68px) rotate(90.05deg)">44</i><i style="transform:translate(875.03px,399.68px) rotate(90.05deg)">45</i><i style="transform:translate(892.03px,399.68px) rotate(90.05deg)">46</i><i style="transform:translate(909.03px,399.68px) rotate(90.05deg)">47</i><i style="transform:translate(926.03px,399.68px) rotate(90.05deg)">48</i><i style="transform:translate(943.03px,399.68px) rotate(90.05deg)">49</i><i style="transform:translate(960.03px,399.68px) rotate(90.05deg)">50</i><i style="transform:translate(1007.13px,399.68px) rotate(90.05deg)">51</i><i style="transform:translate(1024.13px,399.68px) rotate(90.05deg)">52</i><i style="transform:translate(1041.13px,399.68px) rotate(90.05deg)">53</i><i style="transform:translate(1058.13px,399.68px) rotate(90.05deg)">54</i><i style="transform:translate(1075.13px,399.68px) rotate(90.05deg)">55</i><i style="transform:translate(1092.13px,399.68px) rotate(90.05deg)">56</i><i style="transform:translate(1109.13px,399.68px) rotate(90.05deg)">57</i><i style="transform:translate(1126.13px,399.68px) rotate(90.05deg)">58</i><i style="transform:translate(1143.13px,399.68px) rotate(90.05deg)">59</i><i style="transform:translate(1160.13px,399.68px) rotate(90.05deg)">60</i><i style="transform:translate(1177.13px,399.68px) rotate(90.05deg)">61</i><i style="transform:translate(1194.13px,399.68px) rotate(90.05deg)">62</i><i style="transform:translate(1211.13px,399.68px) rotate(90.05deg)">63</i><i style="transform:translate(1228.13px,399.68px) rotate(90.05deg)">64</i><i style="transform:translate(1245.13px,399.68px) rotate(90.05deg)">65</i><i style="transform:translate(1262.13px,399.68px) rotate(90.05deg)">66</i><i style="transform:translate(1279.13px,399.68px) rotate(90.05deg)">67</i><i style="transform:translate(1296.13px,399.68px) rotate(90.05deg)">68</i><i style="transform:translate(1313.13px,399.68px) rotate(90.05deg)">69</i><i style="transform:translate(1330.13px,399.68px) rotate(90.05deg)">70</i><i style="transform:translate(1347.13px,399.68px) rotate(90.05deg)">71</i><i style="transform:translate(1364.13px,399.68px) rotate(90.05deg)">72</i><i style="transform:translate(80.18px,417.49px) rotate(90.05deg)">1</i><i style="transform:translate(97.18px,417.49px) rotate(90.05deg)">2</i><i style="transform:translate(114.18px,417.49px) rotate(90.05deg)">3</i><i style="transform:translate(131.18px,417.49px) rotate(90.05deg)">4</i><i style="transform:translate(148.18px,417.49px) rotate(90.05deg)">5</i><i style="transform:translate(165.18px,417.49px) rotate(90.05deg)">6</i><i style="transform:translate(182.18px,417.49px) rotate(90.05deg)">7</i><i style="transform:translate(199.18px,417.49px) rotate(90.05deg)">8</i><i style="transform:translate(216.18px,417.49px) rotate(90.05deg)">9</i><i style="transform:translate(233.18px,416.79px) rotate(90.05deg)">10</i><i style="transform:translate(250.18px,416.79px) rotate(90.05deg)">11</i><i style="transform:translate(267.18px,416.79px) rotate(90.05deg)">12</i><i style="transform:translate(284.18px,416.79px) rotate(90.05deg)">13</i><i style="transform:translate(301.18px,416.79px) rotate(90.05deg)">14</i><i style="transform:translate(318.18px,416.79px) rotate(90.05deg)">15</i><i style="transform:translate(335.18px,416.79px) rotate(90.05deg)">16</i><i style="transform:translate(352.18px,416.79px) rotate(90.05deg)">17</i><i style="transform:translate(369.18px,416.79px) rotate(90.05deg)">18</i><i style="transform:translate(386.18px,416.79px) rotate(90.05deg)">19</i><i style="transform:translate(403.18px,416.79px) rotate(90.05deg)">20</i><i style="transform:translate(420.18px,416.79px) rotate(90.05deg)">21</i><i style="transform:translate(437.18px,416.79px) rotate(90.05deg)">22</i><i style="transform:translate(484.03px,416.79px) rotate(90.05deg)">23</i><i style="transform:translate(501.03px,416.79px) rotate(90.05deg)">24</i><i style="transform:translate(518.03px,416.79px) rotate(90.05deg)">25</i><i style="transform:translate(535.03px,416.79px) rotate(90.05deg)">26</i><i style="transform:translate(552.03px,416.79px) rotate(90.05deg)">27</i><i style="transform:translate(569.03px,416.79px) rotate(90.05deg)">28</i><i style="transform:translate(586.03px,416.79px) rotate(90.05deg)">29</i><i style="transform:translate(603.03px,416.79px) rotate(90.05deg)">30</i><i style="transform:translate(841.03px,416.79px) rotate(90.05deg)">43</i><i style="transform:translate(858.03px,416.79px) rotate(90.05deg)">44</i><i style="transform:translate(875.03px,416.79px) rotate(90.05deg)">45</i><i style="transform:translate(892.03px,416.79px) rotate(90.05deg)">46</i><i style="transform:translate(909.03px,416.79px) rotate(90.05deg)">47</i><i style="transform:translate(926.03px,416.79px) rotate(90.05deg)">48</i><i style="transform:translate(943.03px,416.79px) rotate(90.05deg)">49</i><i style="transform:translate(960.03px,416.79px) rotate(90.05deg)">50</i><i style="transform:translate(1007.13px,416.79px) rotate(90.05deg)">51</i><i style="transform:translate(1024.13px,416.79px) rotate(90.05deg)">52</i><i style="transform:translate(1041.13px,416.79px) rotate(90.05deg)">53</i><i style="transform:translate(1058.13px,416.79px) rotate(90.05deg)">54</i><i style="transform:translate(1075.13px,416.79px) rotate(90.05deg)">55</i><i style="transform:translate(1092.13px,416.79px) rotate(90.05deg)">56</i><i style="transform:translate(1109.13px,416.79px) rotate(90.05deg)">57</i><i style="transform:translate(1126.13px,416.79px) rotate(90.05deg)">58</i><i style="transform:translate(1143.13px,416.79px) rotate(90.05deg)">59</i><i style="transform:translate(1160.13px,416.79px) rotate(90.05deg)">60</i><i style="transform:translate(1177.13px,416.79px) rotate(90.05deg)">61</i><i style="transform:translate(1194.13px,416.79px) rotate(90.05deg)">62</i><i style="transform:translate(1211.13px,416.79px) rotate(90.05deg)">63</i><i style="transform:translate(1228.13px,416.79px) rotate(90.05deg)">64</i><i style="transform:translate(1245.13px,416.79px) rotate(90.05deg)">65</i><i style="transform:translate(1262.13px,416.79px) rotate(90.05deg)">66</i><i style="transform:translate(1279.13px,416.79px) rotate(90.05deg)">67</i><i style="transform:translate(1296.13px,416.79px) rotate(90.05deg)">68</i><i style="transform:translate(1313.13px,416.79px) rotate(90.05deg)">69</i><i style="transform:translate(1330.13px,416.79px) rotate(90.05deg)">70</i><i style="transform:translate(1347.13px,416.79px) rotate(90.05deg)">71</i><i style="transform:translate(1364.13px,416.79px) rotate(90.05deg)">72</i><i style="transform:translate(80.18px,434.60px) rotate(90.05deg)">1</i><i style="transform:translate(97.18px,434.60px) rotate(90.05deg)">2</i><i style="transform:translate(114.18px,434.60px) rotate(90.05deg)">3</i><i style="transform:translate(131.18px,434.60px) rotate(90.05deg)">4</i><i style="transform:translate(148.18px,434.60px) rotate(90.05deg)">5</i><i style="transform:translate(165.18px,434.60px) rotate(90.05deg)">6</i><i style="transform:translate(182.18px,434.60px) rotate(90.05deg)">7</i><i style="transform:translate(199.18px,434.60px) rotate(90.05deg)">8</i><i style="transform:translate(216.18px,434.60px) rotate(90.05deg)">9</i><i style="transform:translate(233.18px,433.90px) rotate(90.05deg)">10</i><i style="transform:translate(250.18px,433.90px) rotate(90.05deg)">11</i><i style="transform:translate(267.18px,433.90px) rotate(90.05deg)">12</i><i style="transform:translate(284.18px,433.90px) rotate(90.05deg)">13</i><i style="transform:translate(301.18px,433.90px) rotate(90.05deg)">14</i><i style="transform:translate(318.18px,433.90px) rotate(90.05deg)">15</i><i style="transform:translate(335.18px,433.90px) rotate(90.05deg)">16</i><i style="transform:translate(352.18px,433.90px) rotate(90.05deg)">17</i><i style="transform:translate(369.18px,433.90px) rotate(90.05deg)">18</i><i style="transform:translate(386.18px,433.90px) rotate(90.05deg)">19</i><i style="transform:translate(403.18px,433.90px) rotate(90.05deg)">20</i><i style="transform:translate(420.18px,433.90px) rotate(90.05deg)">21</i><i style="transform:translate(437.18px,433.90px) rotate(90.05deg)">22</i><i style="transform:translate(484.03px,433.90px) rotate(90.05deg)">23</i><i style="transform:translate(501.03px,433.90px) rotate(90.05deg)">24</i><i style="transform:translate(518.03px,433.90px) rotate(90.05deg)">25</i><i style="transform:translate(535.03px,433.90px) rotate(90.05deg)">26</i><i style="transform:translate(552.03px,433.90px) rotate(90.05deg)">27</i><i style="transform:translate(569.03px,433.90px) rotate(90.05deg)">28</i><i style="transform:translate(586.03px,433.90px) rotate(90.05deg)">29</i><i style="transform:translate(603.03px,433.90px) rotate(90.05deg)">30</i><i style="transform:translate(841.03px,433.90px) rotate(90.05deg)">43</i><i style="transform:translate(858.03px,433.90px) rotate(90.05deg)">44</i><i style="transform:translate(875.03px,433.90px) rotate(90.05deg)">45</i><i style="transform:translate(892.03px,433.90px) rotate(90.05deg)">46</i><i style="transform:translate(909.03px,433.90px) rotate(90.05deg)">47</i><i style="transform:translate(926.03px,433.90px) rotate(90.05deg)">48</i><i style="transform:translate(943.03px,433.90px) rotate(90.05deg)">49</i><i style="transform:translate(960.03px,433.90px) rotate(90.05deg)">50</i><i style="transform:translate(1007.13px,433.90px) rotate(90.05deg)">51</i><i style="transform:translate(1024.13px,433.90px) rotate(90.05deg)">52</i><i style="transform:translate(1041.13px,433.90px) rotate(90.05deg)">53</i><i style="transform:translate(1058.13px,433.90px) rotate(90.05deg)">54</i><i style="transform:translate(1075.13px,433.90px) rotate(90.05deg)">55</i><i style="transform:translate(1092.13px,433.90px) rotate(90.05deg)">56</i><i style="transform:translate(1109.13px,433.90px) rotate(90.05deg)">57</i><i style="transform:translate(1126.13px,433.90px) rotate(90.05deg)">58</i><i style="transform:translate(1143.13px,433.90px) rotate(90.05deg)">59</i><i style="transform:translate(1160.13px,433.90px) rotate(90.05deg)">60</i><i style="transform:translate(1177.13px,433.90px) rotate(90.05deg)">61</i><i style="transform:translate(1194.13px,433.90px) rotate(90.05deg)">62</i><i style="transform:translate(1211.13px,433.90px) rotate(90.05deg)">63</i><i style="transform:translate(1228.13px,433.90px) rotate(90.05deg)">64</i><i style="transform:translate(1245.13px,433.90px) rotate(90.05deg)">65</i><i style="transform:translate(1262.13px,433.90px) rotate(90.05deg)">66</i><i style="transform:translate(1279.13px,433.90px) rotate(90.05deg)">67</i><i style="transform:translate(1296.13px,433.90px) rotate(90.05deg)">68</i><i style="transform:translate(1313.13px,433.90px) rotate(90.05deg)">69</i><i style="transform:translate(1330.13px,433.90px) rotate(90.05deg)">70</i><i style="transform:translate(1347.13px,433.90px) rotate(90.05deg)">71</i><i style="transform:translate(1364.13px,433.90px) rotate(90.05deg)">72</i><i style="transform:translate(80.18px,451.71px) rotate(90.05deg)">1</i><i style="transform:translate(97.18px,451.71px) rotate(90.05deg)">2</i><i style="transform:translate(114.18px,451.71px) rotate(90.05deg)">3</i><i style="transform:translate(131.18px,451.71px) rotate(90.05deg)">4</i><i style="transform:translate(148.18px,451.71px) rotate(90.05deg)">5</i><i style="transform:translate(165.18px,451.71px) rotate(90.05deg)">6</i><i style="transform:translate(182.18px,451.71px) rotate(90.05deg)">7</i><i style="transform:translate(199.18px,451.71px) rotate(90.05deg)">8</i><i style="transform:translate(216.18px,451.71px) rotate(90.05deg)">9</i><i style="transform:translate(233.18px,451.01px) rotate(90.05deg)">10</i><i style="transform:translate(250.18px,451.01px) rotate(90.05deg)">11</i><i style="transform:translate(267.18px,451.01px) rotate(90.05deg)">12</i><i style="transform:translate(284.18px,451.01px) rotate(90.05deg)">13</i><i style="transform:translate(301.18px,451.01px) rotate(90.05deg)">14</i><i style="transform:translate(318.18px,451.01px) rotate(90.05deg)">15</i><i style="transform:translate(335.18px,451.01px) rotate(90.05deg)">16</i><i style="transform:translate(352.18px,451.01px) rotate(90.05deg)">17</i><i style="transform:translate(369.18px,451.01px) rotate(90.05deg)">18</i><i style="transform:translate(386.18px,451.01px) rotate(90.05deg)">19</i><i style="transform:translate(403.18px,451.01px) rotate(90.05deg)">20</i><i style="transform:translate(420.18px,451.01px) rotate(90.05deg)">21</i><i style="transform:translate(437.18px,451.01px) rotate(90.05deg)">22</i><i style="transform:translate(484.03px,451.01px) rotate(90.05deg)">23</i><i style="transform:translate(501.03px,451.01px) rotate(90.05deg)">24</i><i style="transform:translate(518.03px,451.01px) rotate(90.05deg)">25</i><i style="transform:translate(535.03px,451.01px) rotate(90.05deg)">26</i><i style="transform:translate(552.03px,451.01px) rotate(90.05deg)">27</i><i style="transform:translate(569.03px,451.01px) rotate(90.05deg)">28</i><i style="transform:translate(586.03px,451.01px) rotate(90.05deg)">29</i><i style="transform:translate(603.03px,451.01px) rotate(90.05deg)">30</i><i style="transform:translate(841.03px,451.01px) rotate(90.05deg)">43</i><i style="transform:translate(858.03px,451.01px) rotate(90.05deg)">44</i><i style="transform:translate(875.03px,451.01px) rotate(90.05deg)">45</i><i style="transform:translate(892.03px,451.01px) rotate(90.05deg)">46</i><i style="transform:translate(909.03px,451.01px) rotate(90.05deg)">47</i><i style="transform:translate(926.03px,451.01px) rotate(90.05deg)">48</i><i style="transform:translate(943.03px,451.01px) rotate(90.05deg)">49</i><i style="transform:translate(960.03px,451.01px) rotate(90.05deg)">50</i><i style="transform:translate(1007.13px,451.01px) rotate(90.05deg)">51</i><i style="transform:translate(1024.13px,451.01px) rotate(90.05deg)">52</i><i style="transform:translate(1041.13px,451.01px) rotate(90.05deg)">53</i><i style="transform:translate(1058.13px,451.01px) rotate(90.05deg)">54</i><i style="transform:translate(1075.13px,451.01px) rotate(90.05deg)">55</i><i style="transform:translate(1092.13px,451.01px) rotate(90.05deg)">56</i><i style="transform:translate(1109.13px,451.01px) rotate(90.05deg)">57</i><i style="transform:translate(1126.13px,451.01px) rotate(90.05deg)">58</i><i style="transform:translate(1143.13px,451.01px) rotate(90.05deg)">59</i><i style="transform:translate(1160.13px,451.01px) rotate(90.05deg)">60</i><i style="transform:translate(1177.13px,451.01px) rotate(90.05deg)">61</i><i style="transform:translate(1194.13px,451.01px) rotate(90.05deg)">62</i><i style="transform:translate(1211.13px,451.01px) rotate(90.05deg)">63</i><i style="transform:translate(1228.13px,451.01px) rotate(90.05deg)">64</i><i style="transform:translate(1245.13px,451.01px) rotate(90.05deg)">65</i><i style="transform:translate(1262.13px,451.01px) rotate(90.05deg)">66</i><i style="transform:translate(1279.13px,451.01px) rotate(90.05deg)">67</i><i style="transform:translate(1296.13px,451.01px) rotate(90.05deg)">68</i><i style="transform:translate(1313.13px,451.01px) rotate(90.05deg)">69</i><i style="transform:translate(1330.13px,451.01px) rotate(90.05deg)">70</i><i style="transform:translate(1347.13px,451.01px) rotate(90.05deg)">71</i><i style="transform:translate(1364.13px,451.01px) rotate(90.05deg)">72</i><i style="transform:translate(65.93px,510.45px) rotate(90.05deg)">72</i><i style="transform:translate(82.93px,510.45px) rotate(90.05deg)">71</i><i style="transform:translate(99.93px,510.45px) rotate(90.05deg)">70</i><i style="transform:translate(116.93px,510.45px) rotate(90.05deg)">69</i><i style="transform:translate(133.93px,510.45px) rotate(90.05deg)">68</i><i style="transform:translate(150.93px,510.45px) rotate(90.05deg)">67</i><i style="transform:translate(167.93px,510.45px) rotate(90.05deg)">66</i><i style="transform:translate(184.93px,510.45px) rotate(90.05deg)">65</i><i style="transform:translate(201.93px,510.45px) rotate(90.05deg)">64</i><i style="transform:translate(218.93px,510.45px) rotate(90.05deg)">63</i><i style="transform:translate(235.93px,510.45px) rotate(90.05deg)">62</i><i style="transform:translate(252.93px,510.45px) rotate(90.05deg)">61</i><i style="transform:translate(269.93px,510.45px) rotate(90.05deg)">60</i><i style="transform:translate(286.93px,510.45px) rotate(90.05deg)">59</i><i style="transform:translate(303.93px,510.45px) rotate(90.05deg)">58</i><i style="transform:translate(320.93px,510.45px) rotate(90.05deg)">57</i><i style="transform:translate(337.93px,510.45px) rotate(90.05deg)">56</i><i style="transform:translate(354.93px,510.45px) rotate(90.05deg)">55</i><i style="transform:translate(371.93px,510.45px) rotate(90.05deg)">54</i><i style="transform:translate(388.93px,510.45px) rotate(90.05deg)">53</i><i style="transform:translate(405.93px,510.45px) rotate(90.05deg)">52</i><i style="transform:translate(422.93px,510.45px) rotate(90.05deg)">51</i><i style="transform:translate(439.93px,510.45px) rotate(90.05deg)">50</i><i style="transform:translate(456.93px,510.45px) rotate(90.05deg)">49</i><i style="transform:translate(531.03px,510.45px) rotate(90.05deg)">48</i><i style="transform:translate(548.03px,510.45px) rotate(90.05deg)">47</i><i style="transform:translate(565.03px,510.45px) rotate(90.05deg)">46</i><i style="transform:translate(582.03px,510.45px) rotate(90.05deg)">45</i><i style="transform:translate(599.03px,510.45px) rotate(90.05deg)">44</i><i style="transform:translate(616.03px,510.45px) rotate(90.05deg)">43</i><i style="transform:translate(633.03px,510.45px) rotate(90.05deg)">42</i><i style="transform:translate(650.03px,510.45px) rotate(90.05deg)">41</i><i style="transform:translate(667.03px,510.45px) rotate(90.05deg)">40</i><i style="transform:translate(684.03px,510.45px) rotate(90.05deg)">39</i><i style="transform:translate(701.03px,510.45px) rotate(90.05deg)">38</i><i style="transform:translate(718.03px,510.45px) rotate(90.05deg)">37</i><i style="transform:translate(735.03px,510.45px) rotate(90.05deg)">36</i><i style="transform:translate(752.03px,510.45px) rotate(90.05deg)">35</i><i style="transform:translate(769.03px,510.45px) rotate(90.05deg)">34</i><i style="transform:translate(786.03px,510.45px) rotate(90.05deg)">33</i><i style="transform:translate(803.03px,510.45px) rotate(90.05deg)">32</i><i style="transform:translate(820.03px,510.45px) rotate(90.05deg)">31</i><i style="transform:translate(837.03px,510.45px) rotate(90.05deg)">30</i><i style="transform:translate(854.03px,510.45px) rotate(90.05deg)">29</i><i style="transform:translate(871.03px,510.45px) rotate(90.05deg)">28</i><i style="transform:translate(888.03px,510.45px) rotate(90.05deg)">27</i><i style="transform:translate(905.03px,510.45px) rotate(90.05deg)">26</i><i style="transform:translate(922.03px,510.45px) rotate(90.05deg)">25</i><i style="transform:translate(986.98px,510.45px) rotate(90.05deg)">24</i><i style="transform:translate(1003.98px,510.45px) rotate(90.05deg)">23</i><i style="transform:translate(1020.98px,510.45px) rotate(90.05deg)">22</i><i style="transform:translate(1037.98px,510.45px) rotate(90.05deg)">21</i><i style="transform:translate(1054.98px,510.45px) rotate(90.05deg)">20</i><i style="transform:translate(1071.98px,510.45px) rotate(90.05deg)">19</i><i style="transform:translate(1088.98px,510.45px) rotate(90.05deg)">18</i><i style="transform:translate(1105.98px,510.45px) rotate(90.05deg)">17</i><i style="transform:translate(1122.98px,510.45px) rotate(90.05deg)">16</i><i style="transform:translate(1139.98px,510.45px) rotate(90.05deg)">15</i><i style="transform:translate(1156.98px,510.45px) rotate(90.05deg)">14</i><i style="transform:translate(1173.98px,510.45px) rotate(90.05deg)">13</i><i style="transform:translate(1190.98px,510.45px) rotate(90.05deg)">12</i><i style="transform:translate(1207.98px,510.45px) rotate(90.05deg)">11</i><i style="transform:translate(1224.98px,510.45px) rotate(90.05deg)">10</i><i style="transform:translate(1241.98px,511.15px) rotate(90.05deg)">9</i><i style="transform:translate(1258.98px,511.15px) rotate(90.05deg)">8</i><i style="transform:translate(1275.98px,511.15px) rotate(90.05deg)">7</i><i style="transform:translate(1292.98px,511.15px) rotate(90.05deg)">6</i><i style="transform:translate(1309.98px,511.15px) rotate(90.05deg)">5</i><i style="transform:translate(1326.98px,511.15px) rotate(90.05deg)">4</i><i style="transform:translate(1343.98px,511.15px) rotate(90.05deg)">3</i><i style="transform:translate(1360.98px,511.15px) rotate(90.05deg)">2</i><i style="transform:translate(1377.98px,511.15px) rotate(90.05deg)">1</i><i style="transform:translate(65.93px,527.48px) rotate(90.05deg)">72</i><i style="transform:translate(82.93px,527.48px) rotate(90.05deg)">71</i><i style="transform:translate(99.93px,527.48px) rotate(90.05deg)">70</i><i style="transform:translate(116.93px,527.48px) rotate(90.05deg)">69</i><i style="transform:translate(133.93px,527.48px) rotate(90.05deg)">68</i><i style="transform:translate(150.93px,527.48px) rotate(90.05deg)">67</i><i style="transform:translate(167.93px,527.48px) rotate(90.05deg)">66</i><i style="transform:translate(184.93px,527.48px) rotate(90.05deg)">65</i><i style="transform:translate(201.93px,527.48px) rotate(90.05deg)">64</i><i style="transform:translate(218.93px,527.48px) rotate(90.05deg)">63</i><i style="transform:translate(235.93px,527.48px) rotate(90.05deg)">62</i><i style="transform:translate(252.93px,527.48px) rotate(90.05deg)">61</i><i style="transform:translate(269.93px,527.48px) rotate(90.05deg)">60</i><i style="transform:translate(286.93px,527.48px) rotate(90.05deg)">59</i><i style="transform:translate(303.93px,527.48px) rotate(90.05deg)">58</i><i style="transform:translate(320.93px,527.48px) rotate(90.05deg)">57</i><i style="transform:translate(337.93px,527.48px) rotate(90.05deg)">56</i><i style="transform:translate(354.93px,527.48px) rotate(90.05deg)">55</i><i style="transform:translate(371.93px,527.48px) rotate(90.05deg)">54</i><i style="transform:translate(388.93px,527.48px) rotate(90.05deg)">53</i><i style="transform:translate(405.93px,527.48px) rotate(90.05deg)">52</i><i style="transform:translate(422.93px,527.48px) rotate(90.05deg)">51</i><i style="transform:translate(439.93px,527.48px) rotate(90.05deg)">50</i><i style="transform:translate(456.93px,527.48px) rotate(90.05deg)">49</i><i style="transform:translate(531.03px,527.48px) rotate(90.05deg)">48</i><i style="transform:translate(548.03px,527.48px) rotate(90.05deg)">47</i><i style="transform:translate(565.03px,527.48px) rotate(90.05deg)">46</i><i style="transform:translate(582.03px,527.48px) rotate(90.05deg)">45</i><i style="transform:translate(599.03px,527.48px) rotate(90.05deg)">44</i><i style="transform:translate(616.03px,527.48px) rotate(90.05deg)">43</i><i style="transform:translate(633.03px,527.48px) rotate(90.05deg)">42</i><i style="transform:translate(650.03px,527.48px) rotate(90.05deg)">41</i><i style="transform:translate(667.03px,527.48px) rotate(90.05deg)">40</i><i style="transform:translate(684.03px,527.48px) rotate(90.05deg)">39</i><i style="transform:translate(701.03px,527.48px) rotate(90.05deg)">38</i><i style="transform:translate(718.03px,527.48px) rotate(90.05deg)">37</i><i style="transform:translate(735.03px,527.48px) rotate(90.05deg)">36</i><i style="transform:translate(752.03px,527.48px) rotate(90.05deg)">35</i><i style="transform:translate(769.03px,527.48px) rotate(90.05deg)">34</i><i style="transform:translate(786.03px,527.48px) rotate(90.05deg)">33</i><i style="transform:translate(803.03px,527.48px) rotate(90.05deg)">32</i><i style="transform:translate(820.03px,527.48px) rotate(90.05deg)">31</i><i style="transform:translate(837.03px,527.48px) rotate(90.05deg)">30</i><i style="transform:translate(854.03px,527.48px) rotate(90.05deg)">29</i><i style="transform:translate(871.03px,527.48px) rotate(90.05deg)">28</i><i style="transform:translate(888.03px,527.48px) rotate(90.05deg)">27</i><i style="transform:translate(905.03px,527.48px) rotate(90.05deg)">26</i><i style="transform:translate(922.03px,527.48px) rotate(90.05deg)">25</i><i style="transform:translate(986.98px,527.48px) rotate(90.05deg)">24</i><i style="transform:translate(1003.98px,527.48px) rotate(90.05deg)">23</i><i style="transform:translate(1020.98px,527.48px) rotate(90.05deg)">22</i><i style="transform:translate(1037.98px,527.48px) rotate(90.05deg)">21</i><i style="transform:translate(1054.98px,527.48px) rotate(90.05deg)">20</i><i style="transform:translate(1071.98px,527.48px) rotate(90.05deg)">19</i><i style="transform:translate(1088.98px,527.48px) rotate(90.05deg)">18</i><i style="transform:translate(1105.98px,527.48px) rotate(90.05deg)">17</i><i style="transform:translate(1122.98px,527.48px) rotate(90.05deg)">16</i><i style="transform:translate(1139.98px,527.48px) rotate(90.05deg)">15</i><i style="transform:translate(1156.98px,527.48px) rotate(90.05deg)">14</i><i style="transform:translate(1173.98px,527.48px) rotate(90.05deg)">13</i><i style="transform:translate(1190.98px,527.48px) rotate(90.05deg)">12</i><i style="transform:translate(1207.98px,527.48px) rotate(90.05deg)">11</i><i style="transform:translate(1224.98px,527.48px) rotate(90.05deg)">10</i><i style="transform:translate(1241.98px,528.18px) rotate(90.05deg)">9</i><i style="transform:translate(1258.98px,528.18px) rotate(90.05deg)">8</i><i style="transform:translate(1275.98px,528.18px) rotate(90.05deg)">7</i><i style="transform:translate(1292.98px,528.18px) rotate(90.05deg)">6</i><i style="transform:translate(1309.98px,528.18px) rotate(90.05deg)">5</i><i style="transform:translate(1326.98px,528.18px) rotate(90.05deg)">4</i><i style="transform:translate(1343.98px,528.18px) rotate(90.05deg)">3</i><i style="transform:translate(1360.98px,528.18px) rotate(90.05deg)">2</i><i style="transform:translate(1377.98px,528.18px) rotate(90.05deg)">1</i><i style="transform:translate(65.93px,544.51px) rotate(90.05deg)">72</i><i style="transform:translate(82.93px,544.51px) rotate(90.05deg)">71</i><i style="transform:translate(99.93px,544.51px) rotate(90.05deg)">70</i><i style="transform:translate(116.93px,544.51px) rotate(90.05deg)">69</i><i style="transform:translate(133.93px,544.51px) rotate(90.05deg)">68</i><i style="transform:translate(150.93px,544.51px) rotate(90.05deg)">67</i><i style="transform:translate(167.93px,544.51px) rotate(90.05deg)">66</i><i style="transform:translate(184.93px,544.51px) rotate(90.05deg)">65</i><i style="transform:translate(201.93px,544.51px) rotate(90.05deg)">64</i><i style="transform:translate(218.93px,544.51px) rotate(90.05deg)">63</i><i style="transform:translate(235.93px,544.51px) rotate(90.05deg)">62</i><i style="transform:translate(252.93px,544.51px) rotate(90.05deg)">61</i><i style="transform:translate(269.93px,544.51px) rotate(90.05deg)">60</i><i style="transform:translate(286.93px,544.51px) rotate(90.05deg)">59</i><i style="transform:translate(303.93px,544.51px) rotate(90.05deg)">58</i><i style="transform:translate(320.93px,544.51px) rotate(90.05deg)">57</i><i style="transform:translate(337.93px,544.51px) rotate(90.05deg)">56</i><i style="transform:translate(354.93px,544.51px) rotate(90.05deg)">55</i><i style="transform:translate(371.93px,544.51px) rotate(90.05deg)">54</i><i style="transform:translate(388.93px,544.51px) rotate(90.05deg)">53</i><i style="transform:translate(405.93px,544.51px) rotate(90.05deg)">52</i><i style="transform:translate(422.93px,544.51px) rotate(90.05deg)">51</i><i style="transform:translate(439.93px,544.51px) rotate(90.05deg)">50</i><i style="transform:translate(456.93px,544.51px) rotate(90.05deg)">49</i><i style="transform:translate(531.03px,544.51px) rotate(90.05deg)">48</i><i style="transform:translate(548.03px,544.51px) rotate(90.05deg)">47</i><i style="transform:translate(565.03px,544.51px) rotate(90.05deg)">46</i><i style="transform:translate(582.03px,544.51px) rotate(90.05deg)">45</i><i style="transform:translate(599.03px,544.51px) rotate(90.05deg)">44</i><i style="transform:translate(616.03px,544.51px) rotate(90.05deg)">43</i><i style="transform:translate(633.03px,544.51px) rotate(90.05deg)">42</i><i style="transform:translate(650.03px,544.51px) rotate(90.05deg)">41</i><i style="transform:translate(667.03px,544.51px) rotate(90.05deg)">40</i><i style="transform:translate(684.03px,544.51px) rotate(90.05deg)">39</i><i style="transform:translate(701.03px,544.51px) rotate(90.05deg)">38</i><i style="transform:translate(718.03px,544.51px) rotate(90.05deg)">37</i><i style="transform:translate(735.03px,544.51px) rotate(90.05deg)">36</i><i style="transform:translate(752.03px,544.51px) rotate(90.05deg)">35</i><i style="transform:translate(769.03px,544.51px) rotate(90.05deg)">34</i><i style="transform:translate(786.03px,544.51px) rotate(90.05deg)">33</i><i style="transform:translate(803.03px,544.51px) rotate(90.05deg)">32</i><i style="transform:translate(820.03px,544.51px) rotate(90.05deg)">31</i><i style="transform:translate(837.03px,544.51px) rotate(90.05deg)">30</i><i style="transform:translate(854.03px,544.51px) rotate(90.05deg)">29</i><i style="transform:translate(871.03px,544.51px) rotate(90.05deg)">28</i><i style="transform:translate(888.03px,544.51px) rotate(90.05deg)">27</i><i style="transform:translate(905.03px,544.51px) rotate(90.05deg)">26</i><i style="transform:translate(922.03px,544.51px) rotate(90.05deg)">25</i><i style="transform:translate(986.98px,544.51px) rotate(90.05deg)">24</i><i style="transform:translate(1003.98px,544.51px) rotate(90.05deg)">23</i><i style="transform:translate(1020.98px,544.51px) rotate(90.05deg)">22</i><i style="transform:translate(1037.98px,544.51px) rotate(90.05deg)">21</i><i style="transform:translate(1054.98px,544.51px) rotate(90.05deg)">20</i><i style="transform:translate(1071.98px,544.51px) rotate(90.05deg)">19</i><i style="transform:translate(1088.98px,544.51px) rotate(90.05deg)">18</i><i style="transform:translate(1105.98px,544.51px) rotate(90.05deg)">17</i><i style="transform:translate(1122.98px,544.51px) rotate(90.05deg)">16</i><i style="transform:translate(1139.98px,544.51px) rotate(90.05deg)">15</i><i style="transform:translate(1156.98px,544.51px) rotate(90.05deg)">14</i><i style="transform:translate(1173.98px,544.51px) rotate(90.05deg)">13</i><i style="transform:translate(1190.98px,544.51px) rotate(90.05deg)">12</i><i style="transform:translate(1207.98px,544.51px) rotate(90.05deg)">11</i><i style="transform:translate(1224.98px,544.51px) rotate(90.05deg)">10</i><i style="transform:translate(1241.98px,545.21px) rotate(90.05deg)">9</i><i style="transform:translate(1258.98px,545.21px) rotate(90.05deg)">8</i><i style="transform:translate(1275.98px,545.21px) rotate(90.05deg)">7</i><i style="transform:translate(1292.98px,545.21px) rotate(90.05deg)">6</i><i style="transform:translate(1309.98px,545.21px) rotate(90.05deg)">5</i><i style="transform:translate(1326.98px,545.21px) rotate(90.05deg)">4</i><i style="transform:translate(1343.98px,545.21px) rotate(90.05deg)">3</i><i style="transform:translate(1360.98px,545.21px) rotate(90.05deg)">2</i><i style="transform:translate(1377.98px,545.21px) rotate(90.05deg)">1</i><i style="transform:translate(65.93px,561.54px) rotate(90.05deg)">72</i><i style="transform:translate(82.93px,561.54px) rotate(90.05deg)">71</i><i style="transform:translate(99.93px,561.54px) rotate(90.05deg)">70</i><i style="transform:translate(116.93px,561.54px) rotate(90.05deg)">69</i><i style="transform:translate(133.93px,561.54px) rotate(90.05deg)">68</i><i style="transform:translate(150.93px,561.54px) rotate(90.05deg)">67</i><i style="transform:translate(167.93px,561.54px) rotate(90.05deg)">66</i><i style="transform:translate(184.93px,561.54px) rotate(90.05deg)">65</i><i style="transform:translate(201.93px,561.54px) rotate(90.05deg)">64</i><i style="transform:translate(218.93px,561.54px) rotate(90.05deg)">63</i><i style="transform:translate(235.93px,561.54px) rotate(90.05deg)">62</i><i style="transform:translate(252.93px,561.54px) rotate(90.05deg)">61</i><i style="transform:translate(269.93px,561.54px) rotate(90.05deg)">60</i><i style="transform:translate(286.93px,561.54px) rotate(90.05deg)">59</i><i style="transform:translate(303.93px,561.54px) rotate(90.05deg)">58</i><i style="transform:translate(320.93px,561.54px) rotate(90.05deg)">57</i><i style="transform:translate(337.93px,561.54px) rotate(90.05deg)">56</i><i style="transform:translate(354.93px,561.54px) rotate(90.05deg)">55</i><i style="transform:translate(371.93px,561.54px) rotate(90.05deg)">54</i><i style="transform:translate(388.93px,561.54px) rotate(90.05deg)">53</i><i style="transform:translate(405.93px,561.54px) rotate(90.05deg)">52</i><i style="transform:translate(422.93px,561.54px) rotate(90.05deg)">51</i><i style="transform:translate(439.93px,561.54px) rotate(90.05deg)">50</i><i style="transform:translate(456.93px,561.54px) rotate(90.05deg)">49</i><i style="transform:translate(531.03px,561.54px) rotate(90.05deg)">48</i><i style="transform:translate(548.03px,561.54px) rotate(90.05deg)">47</i><i style="transform:translate(565.03px,561.54px) rotate(90.05deg)">46</i><i style="transform:translate(582.03px,561.54px) rotate(90.05deg)">45</i><i style="transform:translate(599.03px,561.54px) rotate(90.05deg)">44</i><i style="transform:translate(616.03px,561.54px) rotate(90.05deg)">43</i><i style="transform:translate(633.03px,561.54px) rotate(90.05deg)">42</i><i style="transform:translate(650.03px,561.54px) rotate(90.05deg)">41</i><i style="transform:translate(667.03px,561.54px) rotate(90.05deg)">40</i><i style="transform:translate(684.03px,561.54px) rotate(90.05deg)">39</i><i style="transform:translate(701.03px,561.54px) rotate(90.05deg)">38</i><i style="transform:translate(718.03px,561.54px) rotate(90.05deg)">37</i><i style="transform:translate(735.03px,561.54px) rotate(90.05deg)">36</i><i style="transform:translate(752.03px,561.54px) rotate(90.05deg)">35</i><i style="transform:translate(769.03px,561.54px) rotate(90.05deg)">34</i><i style="transform:translate(786.03px,561.54px) rotate(90.05deg)">33</i><i style="transform:translate(803.03px,561.54px) rotate(90.05deg)">32</i><i style="transform:translate(820.03px,561.54px) rotate(90.05deg)">31</i><i style="transform:translate(837.03px,561.54px) rotate(90.05deg)">30</i><i style="transform:translate(854.03px,561.54px) rotate(90.05deg)">29</i><i style="transform:translate(871.03px,561.54px) rotate(90.05deg)">28</i><i style="transform:translate(888.03px,561.54px) rotate(90.05deg)">27</i><i style="transform:translate(905.03px,561.54px) rotate(90.05deg)">26</i><i style="transform:translate(922.03px,561.54px) rotate(90.05deg)">25</i><i style="transform:translate(986.98px,561.54px) rotate(90.05deg)">24</i><i style="transform:translate(1003.98px,561.54px) rotate(90.05deg)">23</i><i style="transform:translate(1020.98px,561.54px) rotate(90.05deg)">22</i><i style="transform:translate(1037.98px,561.54px) rotate(90.05deg)">21</i><i style="transform:translate(1054.98px,561.54px) rotate(90.05deg)">20</i><i style="transform:translate(1071.98px,561.54px) rotate(90.05deg)">19</i><i style="transform:translate(1088.98px,561.54px) rotate(90.05deg)">18</i><i style="transform:translate(1105.98px,561.54px) rotate(90.05deg)">17</i><i style="transform:translate(1122.98px,561.54px) rotate(90.05deg)">16</i><i style="transform:translate(1139.98px,561.54px) rotate(90.05deg)">15</i><i style="transform:translate(1156.98px,561.54px) rotate(90.05deg)">14</i><i style="transform:translate(1173.98px,561.54px) rotate(90.05deg)">13</i><i style="transform:translate(1190.98px,561.54px) rotate(90.05deg)">12</i><i style="transform:translate(1207.98px,561.54px) rotate(90.05deg)">11</i><i style="transform:translate(1224.98px,561.54px) rotate(90.05deg)">10</i><i style="transform:translate(1241.98px,562.24px) rotate(90.05deg)">9</i><i style="transform:translate(1258.98px,562.24px) rotate(90.05deg)">8</i><i style="transform:translate(1275.98px,562.24px) rotate(90.05deg)">7</i><i style="transform:translate(1292.98px,562.24px) rotate(90.05deg)">6</i><i style="transform:translate(1309.98px,562.24px) rotate(90.05deg)">5</i><i style="transform:translate(1326.98px,562.24px) rotate(90.05deg)">4</i><i style="transform:translate(1343.98px,562.24px) rotate(90.05deg)">3</i><i style="transform:translate(1360.98px,562.24px) rotate(90.05deg)">2</i><i style="transform:translate(1377.98px,562.24px) rotate(90.05deg)">1</i><i style="transform:translate(65.93px,578.57px) rotate(90.05deg)">72</i><i style="transform:translate(82.93px,578.57px) rotate(90.05deg)">71</i><i style="transform:translate(99.93px,578.57px) rotate(90.05deg)">70</i><i style="transform:translate(116.93px,578.57px) rotate(90.05deg)">69</i><i style="transform:translate(133.93px,578.57px) rotate(90.05deg)">68</i><i style="transform:translate(150.93px,578.57px) rotate(90.05deg)">67</i><i style="transform:translate(167.93px,578.57px) rotate(90.05deg)">66</i><i style="transform:translate(184.93px,578.57px) rotate(90.05deg)">65</i><i style="transform:translate(201.93px,578.57px) rotate(90.05deg)">64</i><i style="transform:translate(218.93px,578.57px) rotate(90.05deg)">63</i><i style="transform:translate(235.93px,578.57px) rotate(90.05deg)">62</i><i style="transform:translate(252.93px,578.57px) rotate(90.05deg)">61</i><i style="transform:translate(269.93px,578.57px) rotate(90.05deg)">60</i><i style="transform:translate(286.93px,578.57px) rotate(90.05deg)">59</i><i style="transform:translate(303.93px,578.57px) rotate(90.05deg)">58</i><i style="transform:translate(320.93px,578.57px) rotate(90.05deg)">57</i><i style="transform:translate(337.93px,578.57px) rotate(90.05deg)">56</i><i style="transform:translate(354.93px,578.57px) rotate(90.05deg)">55</i><i style="transform:translate(371.93px,578.57px) rotate(90.05deg)">54</i><i style="transform:translate(388.93px,578.57px) rotate(90.05deg)">53</i><i style="transform:translate(405.93px,578.57px) rotate(90.05deg)">52</i><i style="transform:translate(422.93px,578.57px) rotate(90.05deg)">51</i><i style="transform:translate(439.93px,578.57px) rotate(90.05deg)">50</i><i style="transform:translate(456.93px,578.57px) rotate(90.05deg)">49</i><i style="transform:translate(531.03px,578.57px) rotate(90.05deg)">48</i><i style="transform:translate(548.03px,578.57px) rotate(90.05deg)">47</i><i style="transform:translate(565.03px,578.57px) rotate(90.05deg)">46</i><i style="transform:translate(582.03px,578.57px) rotate(90.05deg)">45</i><i style="transform:translate(599.03px,578.57px) rotate(90.05deg)">44</i><i style="transform:translate(616.03px,578.57px) rotate(90.05deg)">43</i><i style="transform:translate(633.03px,578.57px) rotate(90.05deg)">42</i><i style="transform:translate(650.03px,578.57px) rotate(90.05deg)">41</i><i style="transform:translate(667.03px,578.57px) rotate(90.05deg)">40</i><i style="transform:translate(684.03px,578.57px) rotate(90.05deg)">39</i><i style="transform:translate(701.03px,578.57px) rotate(90.05deg)">38</i><i style="transform:translate(718.03px,578.57px) rotate(90.05deg)">37</i><i style="transform:translate(735.03px,578.57px) rotate(90.05deg)">36</i><i style="transform:translate(752.03px,578.57px) rotate(90.05deg)">35</i><i style="transform:translate(769.03px,578.57px) rotate(90.05deg)">34</i><i style="transform:translate(786.03px,578.57px) rotate(90.05deg)">33</i><i style="transform:translate(803.03px,578.57px) rotate(90.05deg)">32</i><i style="transform:translate(820.03px,578.57px) rotate(90.05deg)">31</i><i style="transform:translate(837.03px,578.57px) rotate(90.05deg)">30</i><i style="transform:translate(854.03px,578.57px) rotate(90.05deg)">29</i><i style="transform:translate(871.03px,578.57px) rotate(90.05deg)">28</i><i style="transform:translate(888.03px,578.57px) rotate(90.05deg)">27</i><i style="transform:translate(905.03px,578.57px) rotate(90.05deg)">26</i><i style="transform:translate(922.03px,578.57px) rotate(90.05deg)">25</i><i style="transform:translate(986.98px,578.57px) rotate(90.05deg)">24</i><i style="transform:translate(1003.98px,578.57px) rotate(90.05deg)">23</i><i style="transform:translate(1020.98px,578.57px) rotate(90.05deg)">22</i><i style="transform:translate(1037.98px,578.57px) rotate(90.05deg)">21</i><i style="transform:translate(1054.98px,578.57px) rotate(90.05deg)">20</i><i style="transform:translate(1071.98px,578.57px) rotate(90.05deg)">19</i><i style="transform:translate(1088.98px,578.57px) rotate(90.05deg)">18</i><i style="transform:translate(1105.98px,578.57px) rotate(90.05deg)">17</i><i style="transform:translate(1122.98px,578.57px) rotate(90.05deg)">16</i><i style="transform:translate(1139.98px,578.57px) rotate(90.05deg)">15</i><i style="transform:translate(1156.98px,578.57px) rotate(90.05deg)">14</i><i style="transform:translate(1173.98px,578.57px) rotate(90.05deg)">13</i><i style="transform:translate(1190.98px,578.57px) rotate(90.05deg)">12</i><i style="transform:translate(1207.98px,578.57px) rotate(90.05deg)">11</i><i style="transform:translate(1224.98px,578.57px) rotate(90.05deg)">10</i><i style="transform:translate(1241.98px,579.27px) rotate(90.05deg)">9</i><i style="transform:translate(1258.98px,579.27px) rotate(90.05deg)">8</i><i style="transform:translate(1275.98px,579.27px) rotate(90.05deg)">7</i><i style="transform:translate(1292.98px,579.27px) rotate(90.05deg)">6</i><i style="transform:translate(1309.98px,579.27px) rotate(90.05deg)">5</i><i style="transform:translate(1326.98px,579.27px) rotate(90.05deg)">4</i><i style="transform:translate(1343.98px,579.27px) rotate(90.05deg)">3</i><i style="transform:translate(1360.98px,579.27px) rotate(90.05deg)">2</i><i style="transform:translate(1377.98px,579.27px) rotate(90.05deg)">1</i><i style="transform:translate(65.93px,595.60px) rotate(90.05deg)">72</i><i style="transform:translate(82.93px,595.60px) rotate(90.05deg)">71</i><i style="transform:translate(99.93px,595.60px) rotate(90.05deg)">70</i><i style="transform:translate(116.93px,595.60px) rotate(90.05deg)">69</i><i style="transform:translate(133.93px,595.60px) rotate(90.05deg)">68</i><i style="transform:translate(150.93px,595.60px) rotate(90.05deg)">67</i><i style="transform:translate(167.93px,595.60px) rotate(90.05deg)">66</i><i style="transform:translate(184.93px,595.60px) rotate(90.05deg)">65</i><i style="transform:translate(201.93px,595.60px) rotate(90.05deg)">64</i><i style="transform:translate(218.93px,595.60px) rotate(90.05deg)">63</i><i style="transform:translate(235.93px,595.60px) rotate(90.05deg)">62</i><i style="transform:translate(252.93px,595.60px) rotate(90.05deg)">61</i><i style="transform:translate(269.93px,595.60px) rotate(90.05deg)">60</i><i style="transform:translate(286.93px,595.60px) rotate(90.05deg)">59</i><i style="transform:translate(303.93px,595.60px) rotate(90.05deg)">58</i><i style="transform:translate(320.93px,595.60px) rotate(90.05deg)">57</i><i style="transform:translate(337.93px,595.60px) rotate(90.05deg)">56</i><i style="transform:translate(354.93px,595.60px) rotate(90.05deg)">55</i><i style="transform:translate(371.93px,595.60px) rotate(90.05deg)">54</i><i style="transform:translate(388.93px,595.60px) rotate(90.05deg)">53</i><i style="transform:translate(405.93px,595.60px) rotate(90.05deg)">52</i><i style="transform:translate(422.93px,595.60px) rotate(90.05deg)">51</i><i style="transform:translate(439.93px,595.60px) rotate(90.05deg)">50</i><i style="transform:translate(456.93px,595.60px) rotate(90.05deg)">49</i><i style="transform:translate(531.03px,595.60px) rotate(90.05deg)">48</i><i style="transform:translate(548.03px,595.60px) rotate(90.05deg)">47</i><i style="transform:translate(565.03px,595.60px) rotate(90.05deg)">46</i><i style="transform:translate(582.03px,595.60px) rotate(90.05deg)">45</i><i style="transform:translate(599.03px,595.60px) rotate(90.05deg)">44</i><i style="transform:translate(616.03px,595.60px) rotate(90.05deg)">43</i><i style="transform:translate(633.03px,595.60px) rotate(90.05deg)">42</i><i style="transform:translate(650.03px,595.60px) rotate(90.05deg)">41</i><i style="transform:translate(667.03px,595.60px) rotate(90.05deg)">40</i><i style="transform:translate(684.03px,595.60px) rotate(90.05deg)">39</i><i style="transform:translate(701.03px,595.60px) rotate(90.05deg)">38</i><i style="transform:translate(718.03px,595.60px) rotate(90.05deg)">37</i><i style="transform:translate(735.03px,595.60px) rotate(90.05deg)">36</i><i style="transform:translate(752.03px,595.60px) rotate(90.05deg)">35</i><i style="transform:translate(769.03px,595.60px) rotate(90.05deg)">34</i><i style="transform:translate(786.03px,595.60px) rotate(90.05deg)">33</i><i style="transform:translate(803.03px,595.60px) rotate(90.05deg)">32</i><i style="transform:translate(820.03px,595.60px) rotate(90.05deg)">31</i><i style="transform:translate(837.03px,595.60px) rotate(90.05deg)">30</i><i style="transform:translate(854.03px,595.60px) rotate(90.05deg)">29</i><i style="transform:translate(871.03px,595.60px) rotate(90.05deg)">28</i><i style="transform:translate(888.03px,595.60px) rotate(90.05deg)">27</i><i style="transform:translate(905.03px,595.60px) rotate(90.05deg)">26</i><i style="transform:translate(922.03px,595.60px) rotate(90.05deg)">25</i><i style="transform:translate(986.98px,595.60px) rotate(90.05deg)">24</i><i style="transform:translate(1003.98px,595.60px) rotate(90.05deg)">23</i><i style="transform:translate(1020.98px,595.60px) rotate(90.05deg)">22</i><i style="transform:translate(1037.98px,595.60px) rotate(90.05deg)">21</i><i style="transform:translate(1054.98px,595.60px) rotate(90.05deg)">20</i><i style="transform:translate(1071.98px,595.60px) rotate(90.05deg)">19</i><i style="transform:translate(1088.98px,595.60px) rotate(90.05deg)">18</i><i style="transform:translate(1105.98px,595.60px) rotate(90.05deg)">17</i><i style="transform:translate(1122.98px,595.60px) rotate(90.05deg)">16</i><i style="transform:translate(1139.98px,595.60px) rotate(90.05deg)">15</i><i style="transform:translate(1156.98px,595.60px) rotate(90.05deg)">14</i><i style="transform:translate(1173.98px,595.60px) rotate(90.05deg)">13</i><i style="transform:translate(1190.98px,595.60px) rotate(90.05deg)">12</i><i style="transform:translate(1207.98px,595.60px) rotate(90.05deg)">11</i><i style="transform:translate(1224.98px,595.60px) rotate(90.05deg)">10</i><i style="transform:translate(1241.98px,596.30px) rotate(90.05deg)">9</i><i style="transform:translate(1258.98px,596.30px) rotate(90.05deg)">8</i><i style="transform:translate(1275.98px,596.30px) rotate(90.05deg)">7</i><i style="transform:translate(1292.98px,596.30px) rotate(90.05deg)">6</i><i style="transform:translate(1309.98px,596.30px) rotate(90.05deg)">5</i><i style="transform:translate(1326.98px,596.30px) rotate(90.05deg)">4</i><i style="transform:translate(1343.98px,596.30px) rotate(90.05deg)">3</i><i style="transform:translate(1360.98px,596.30px) rotate(90.05deg)">2</i><i style="transform:translate(1377.98px,596.30px) rotate(90.05deg)">1</i><i style="transform:translate(65.93px,612.63px) rotate(90.05deg)">72</i><i style="transform:translate(82.93px,612.63px) rotate(90.05deg)">71</i><i style="transform:translate(99.93px,612.63px) rotate(90.05deg)">70</i><i style="transform:translate(116.93px,612.63px) rotate(90.05deg)">69</i><i style="transform:translate(133.93px,612.63px) rotate(90.05deg)">68</i><i style="transform:translate(150.93px,612.63px) rotate(90.05deg)">67</i><i style="transform:translate(167.93px,612.63px) rotate(90.05deg)">66</i><i style="transform:translate(184.93px,612.63px) rotate(90.05deg)">65</i><i style="transform:translate(201.93px,612.63px) rotate(90.05deg)">64</i><i style="transform:translate(218.93px,612.63px) rotate(90.05deg)">63</i><i style="transform:translate(235.93px,612.63px) rotate(90.05deg)">62</i><i style="transform:translate(252.93px,612.63px) rotate(90.05deg)">61</i><i style="transform:translate(269.93px,612.63px) rotate(90.05deg)">60</i><i style="transform:translate(286.93px,612.63px) rotate(90.05deg)">59</i><i style="transform:translate(303.93px,612.63px) rotate(90.05deg)">58</i><i style="transform:translate(320.93px,612.63px) rotate(90.05deg)">57</i><i style="transform:translate(337.93px,612.63px) rotate(90.05deg)">56</i><i style="transform:translate(354.93px,612.63px) rotate(90.05deg)">55</i><i style="transform:translate(371.93px,612.63px) rotate(90.05deg)">54</i><i style="transform:translate(388.93px,612.63px) rotate(90.05deg)">53</i><i style="transform:translate(405.93px,612.63px) rotate(90.05deg)">52</i><i style="transform:translate(422.93px,612.63px) rotate(90.05deg)">51</i><i style="transform:translate(439.93px,612.63px) rotate(90.05deg)">50</i><i style="transform:translate(456.93px,612.63px) rotate(90.05deg)">49</i><i style="transform:translate(531.03px,612.63px) rotate(90.05deg)">48</i><i style="transform:translate(548.03px,612.63px) rotate(90.05deg)">47</i><i style="transform:translate(565.03px,612.63px) rotate(90.05deg)">46</i><i style="transform:translate(582.03px,612.63px) rotate(90.05deg)">45</i><i style="transform:translate(599.03px,612.63px) rotate(90.05deg)">44</i><i style="transform:translate(616.03px,612.63px) rotate(90.05deg)">43</i><i style="transform:translate(633.03px,612.63px) rotate(90.05deg)">42</i><i style="transform:translate(650.03px,612.63px) rotate(90.05deg)">41</i><i style="transform:translate(667.03px,612.63px) rotate(90.05deg)">40</i><i style="transform:translate(684.03px,612.63px) rotate(90.05deg)">39</i><i style="transform:translate(701.03px,612.63px) rotate(90.05deg)">38</i><i style="transform:translate(718.03px,612.63px) rotate(90.05deg)">37</i><i style="transform:translate(735.03px,612.63px) rotate(90.05deg)">36</i><i style="transform:translate(752.03px,612.63px) rotate(90.05deg)">35</i><i style="transform:translate(769.03px,612.63px) rotate(90.05deg)">34</i><i style="transform:translate(786.03px,612.63px) rotate(90.05deg)">33</i><i style="transform:translate(803.03px,612.63px) rotate(90.05deg)">32</i><i style="transform:translate(820.03px,612.63px) rotate(90.05deg)">31</i><i style="transform:translate(837.03px,612.63px) rotate(90.05deg)">30</i><i style="transform:translate(854.03px,612.63px) rotate(90.05deg)">29</i><i style="transform:translate(871.03px,612.63px) rotate(90.05deg)">28</i><i style="transform:translate(888.03px,612.63px) rotate(90.05deg)">27</i><i style="transform:translate(905.03px,612.63px) rotate(90.05deg)">26</i><i style="transform:translate(922.03px,612.63px) rotate(90.05deg)">25</i><i style="transform:translate(986.98px,612.63px) rotate(90.05deg)">24</i><i style="transform:translate(1003.98px,612.63px) rotate(90.05deg)">23</i><i style="transform:translate(1020.98px,612.63px) rotate(90.05deg)">22</i><i style="transform:translate(1037.98px,612.63px) rotate(90.05deg)">21</i><i style="transform:translate(1054.98px,612.63px) rotate(90.05deg)">20</i><i style="transform:translate(1071.98px,612.63px) rotate(90.05deg)">19</i><i style="transform:translate(1088.98px,612.63px) rotate(90.05deg)">18</i><i style="transform:translate(1105.98px,612.63px) rotate(90.05deg)">17</i><i style="transform:translate(1122.98px,612.63px) rotate(90.05deg)">16</i><i style="transform:translate(1139.98px,612.63px) rotate(90.05deg)">15</i><i style="transform:translate(1156.98px,612.63px) rotate(90.05deg)">14</i><i style="transform:translate(1173.98px,612.63px) rotate(90.05deg)">13</i><i style="transform:translate(1190.98px,612.63px) rotate(90.05deg)">12</i><i style="transform:translate(1207.98px,612.63px) rotate(90.05deg)">11</i><i style="transform:translate(1224.98px,612.63px) rotate(90.05deg)">10</i><i style="transform:translate(1241.98px,613.33px) rotate(90.05deg)">9</i><i style="transform:translate(1258.98px,613.33px) rotate(90.05deg)">8</i><i style="transform:translate(1275.98px,613.33px) rotate(90.05deg)">7</i><i style="transform:translate(1292.98px,613.33px) rotate(90.05deg)">6</i><i style="transform:translate(1309.98px,613.33px) rotate(90.05deg)">5</i><i style="transform:translate(1326.98px,613.33px) rotate(90.05deg)">4</i><i style="transform:translate(1343.98px,613.33px) rotate(90.05deg)">3</i><i style="transform:translate(1360.98px,613.33px) rotate(90.05deg)">2</i><i style="transform:translate(1377.98px,613.33px) rotate(90.05deg)">1</i><i style="transform:translate(65.93px,629.66px) rotate(90.05deg)">72</i><i style="transform:translate(82.93px,629.66px) rotate(90.05deg)">71</i><i style="transform:translate(99.93px,629.66px) rotate(90.05deg)">70</i><i style="transform:translate(116.93px,629.66px) rotate(90.05deg)">69</i><i style="transform:translate(133.93px,629.66px) rotate(90.05deg)">68</i><i style="transform:translate(150.93px,629.66px) rotate(90.05deg)">67</i><i style="transform:translate(167.93px,629.66px) rotate(90.05deg)">66</i><i style="transform:translate(184.93px,629.66px) rotate(90.05deg)">65</i><i style="transform:translate(201.93px,629.66px) rotate(90.05deg)">64</i><i style="transform:translate(218.93px,629.66px) rotate(90.05deg)">63</i><i style="transform:translate(235.93px,629.66px) rotate(90.05deg)">62</i><i style="transform:translate(252.93px,629.66px) rotate(90.05deg)">61</i><i style="transform:translate(269.93px,629.66px) rotate(90.05deg)">60</i><i style="transform:translate(286.93px,629.66px) rotate(90.05deg)">59</i><i style="transform:translate(303.93px,629.66px) rotate(90.05deg)">58</i><i style="transform:translate(320.93px,629.66px) rotate(90.05deg)">57</i><i style="transform:translate(337.93px,629.66px) rotate(90.05deg)">56</i><i style="transform:translate(354.93px,629.66px) rotate(90.05deg)">55</i><i style="transform:translate(371.93px,629.66px) rotate(90.05deg)">54</i><i style="transform:translate(388.93px,629.66px) rotate(90.05deg)">53</i><i style="transform:translate(405.93px,629.66px) rotate(90.05deg)">52</i><i style="transform:translate(422.93px,629.66px) rotate(90.05deg)">51</i><i style="transform:translate(439.93px,629.66px) rotate(90.05deg)">50</i><i style="transform:translate(456.93px,629.66px) rotate(90.05deg)">49</i><i style="transform:translate(531.03px,629.66px) rotate(90.05deg)">48</i><i style="transform:translate(548.03px,629.66px) rotate(90.05deg)">47</i><i style="transform:translate(565.03px,629.66px) rotate(90.05deg)">46</i><i style="transform:translate(582.03px,629.66px) rotate(90.05deg)">45</i><i style="transform:translate(599.03px,629.66px) rotate(90.05deg)">44</i><i style="transform:translate(616.03px,629.66px) rotate(90.05deg)">43</i><i style="transform:translate(633.03px,629.66px) rotate(90.05deg)">42</i><i style="transform:translate(650.03px,629.66px) rotate(90.05deg)">41</i><i style="transform:translate(667.03px,629.66px) rotate(90.05deg)">40</i><i style="transform:translate(684.03px,629.66px) rotate(90.05deg)">39</i><i style="transform:translate(701.03px,629.66px) rotate(90.05deg)">38</i><i style="transform:translate(718.03px,629.66px) rotate(90.05deg)">37</i><i style="transform:translate(735.03px,629.66px) rotate(90.05deg)">36</i><i style="transform:translate(752.03px,629.66px) rotate(90.05deg)">35</i><i style="transform:translate(769.03px,629.66px) rotate(90.05deg)">34</i><i style="transform:translate(786.03px,629.66px) rotate(90.05deg)">33</i><i style="transform:translate(803.03px,629.66px) rotate(90.05deg)">32</i><i style="transform:translate(820.03px,629.66px) rotate(90.05deg)">31</i><i style="transform:translate(837.03px,629.66px) rotate(90.05deg)">30</i><i style="transform:translate(854.03px,629.66px) rotate(90.05deg)">29</i><i style="transform:translate(871.03px,629.66px) rotate(90.05deg)">28</i><i style="transform:translate(888.03px,629.66px) rotate(90.05deg)">27</i><i style="transform:translate(905.03px,629.66px) rotate(90.05deg)">26</i><i style="transform:translate(922.03px,629.66px) rotate(90.05deg)">25</i><i style="transform:translate(986.98px,629.66px) rotate(90.05deg)">24</i><i style="transform:translate(1003.98px,629.66px) rotate(90.05deg)">23</i><i style="transform:translate(1020.98px,629.66px) rotate(90.05deg)">22</i><i style="transform:translate(1037.98px,629.66px) rotate(90.05deg)">21</i><i style="transform:translate(1054.98px,629.66px) rotate(90.05deg)">20</i><i style="transform:translate(1071.98px,629.66px) rotate(90.05deg)">19</i><i style="transform:translate(1088.98px,629.66px) rotate(90.05deg)">18</i><i style="transform:translate(1105.98px,629.66px) rotate(90.05deg)">17</i><i style="transform:translate(1122.98px,629.66px) rotate(90.05deg)">16</i><i style="transform:translate(1139.98px,629.66px) rotate(90.05deg)">15</i><i style="transform:translate(1156.98px,629.66px) rotate(90.05deg)">14</i><i style="transform:translate(1173.98px,629.66px) rotate(90.05deg)">13</i><i style="transform:translate(1190.98px,629.66px) rotate(90.05deg)">12</i><i style="transform:translate(1207.98px,629.66px) rotate(90.05deg)">11</i><i style="transform:translate(1224.98px,629.66px) rotate(90.05deg)">10</i><i style="transform:translate(1241.98px,630.36px) rotate(90.05deg)">9</i><i style="transform:translate(1258.98px,630.36px) rotate(90.05deg)">8</i><i style="transform:translate(1275.98px,630.36px) rotate(90.05deg)">7</i><i style="transform:translate(1292.98px,630.36px) rotate(90.05deg)">6</i><i style="transform:translate(1309.98px,630.36px) rotate(90.05deg)">5</i><i style="transform:translate(1326.98px,630.36px) rotate(90.05deg)">4</i><i style="transform:translate(1343.98px,630.36px) rotate(90.05deg)">3</i><i style="transform:translate(1360.98px,630.36px) rotate(90.05deg)">2</i><i style="transform:translate(1377.98px,630.36px) rotate(90.05deg)">1</i><i style="transform:translate(65.93px,646.69px) rotate(90.05deg)">72</i><i style="transform:translate(82.93px,646.69px) rotate(90.05deg)">71</i><i style="transform:translate(99.93px,646.69px) rotate(90.05deg)">70</i><i style="transform:translate(116.93px,646.69px) rotate(90.05deg)">69</i><i style="transform:translate(133.93px,646.69px) rotate(90.05deg)">68</i><i style="transform:translate(150.93px,646.69px) rotate(90.05deg)">67</i><i style="transform:translate(167.93px,646.69px) rotate(90.05deg)">66</i><i style="transform:translate(184.93px,646.69px) rotate(90.05deg)">65</i><i style="transform:translate(201.93px,646.69px) rotate(90.05deg)">64</i><i style="transform:translate(218.93px,646.69px) rotate(90.05deg)">63</i><i style="transform:translate(235.93px,646.69px) rotate(90.05deg)">62</i><i style="transform:translate(252.93px,646.69px) rotate(90.05deg)">61</i><i style="transform:translate(269.93px,646.69px) rotate(90.05deg)">60</i><i style="transform:translate(286.93px,646.69px) rotate(90.05deg)">59</i><i style="transform:translate(303.93px,646.69px) rotate(90.05deg)">58</i><i style="transform:translate(320.93px,646.69px) rotate(90.05deg)">57</i><i style="transform:translate(337.93px,646.69px) rotate(90.05deg)">56</i><i style="transform:translate(354.93px,646.69px) rotate(90.05deg)">55</i><i style="transform:translate(371.93px,646.69px) rotate(90.05deg)">54</i><i style="transform:translate(388.93px,646.69px) rotate(90.05deg)">53</i><i style="transform:translate(405.93px,646.69px) rotate(90.05deg)">52</i><i style="transform:translate(422.93px,646.69px) rotate(90.05deg)">51</i><i style="transform:translate(439.93px,646.69px) rotate(90.05deg)">50</i><i style="transform:translate(456.93px,646.69px) rotate(90.05deg)">49</i><i style="transform:translate(531.03px,646.69px) rotate(90.05deg)">48</i><i style="transform:translate(548.03px,646.69px) rotate(90.05deg)">47</i><i style="transform:translate(565.03px,646.69px) rotate(90.05deg)">46</i><i style="transform:translate(582.03px,646.69px) rotate(90.05deg)">45</i><i style="transform:translate(599.03px,646.69px) rotate(90.05deg)">44</i><i style="transform:translate(616.03px,646.69px) rotate(90.05deg)">43</i><i style="transform:translate(633.03px,646.69px) rotate(90.05deg)">42</i><i style="transform:translate(650.03px,646.69px) rotate(90.05deg)">41</i><i style="transform:translate(667.03px,646.69px) rotate(90.05deg)">40</i><i style="transform:translate(684.03px,646.69px) rotate(90.05deg)">39</i><i style="transform:translate(701.03px,646.69px) rotate(90.05deg)">38</i><i style="transform:translate(718.03px,646.69px) rotate(90.05deg)">37</i><i style="transform:translate(735.03px,646.69px) rotate(90.05deg)">36</i><i style="transform:translate(752.03px,646.69px) rotate(90.05deg)">35</i><i style="transform:translate(769.03px,646.69px) rotate(90.05deg)">34</i><i style="transform:translate(786.03px,646.69px) rotate(90.05deg)">33</i><i style="transform:translate(803.03px,646.69px) rotate(90.05deg)">32</i><i style="transform:translate(820.03px,646.69px) rotate(90.05deg)">31</i><i style="transform:translate(837.03px,646.69px) rotate(90.05deg)">30</i><i style="transform:translate(854.03px,646.69px) rotate(90.05deg)">29</i><i style="transform:translate(871.03px,646.69px) rotate(90.05deg)">28</i><i style="transform:translate(888.03px,646.69px) rotate(90.05deg)">27</i><i style="transform:translate(905.03px,646.69px) rotate(90.05deg)">26</i><i style="transform:translate(922.03px,646.69px) rotate(90.05deg)">25</i><i style="transform:translate(986.98px,646.69px) rotate(90.05deg)">24</i><i style="transform:translate(1003.98px,646.69px) rotate(90.05deg)">23</i><i style="transform:translate(1020.98px,646.69px) rotate(90.05deg)">22</i><i style="transform:translate(1037.98px,646.69px) rotate(90.05deg)">21</i><i style="transform:translate(1054.98px,646.69px) rotate(90.05deg)">20</i><i style="transform:translate(1071.98px,646.69px) rotate(90.05deg)">19</i><i style="transform:translate(1088.98px,646.69px) rotate(90.05deg)">18</i><i style="transform:translate(1105.98px,646.69px) rotate(90.05deg)">17</i><i style="transform:translate(1122.98px,646.69px) rotate(90.05deg)">16</i><i style="transform:translate(1139.98px,646.69px) rotate(90.05deg)">15</i><i style="transform:translate(1156.98px,646.69px) rotate(90.05deg)">14</i><i style="transform:translate(1173.98px,646.69px) rotate(90.05deg)">13</i><i style="transform:translate(1190.98px,646.69px) rotate(90.05deg)">12</i><i style="transform:translate(1207.98px,646.69px) rotate(90.05deg)">11</i><i style="transform:translate(1224.98px,646.69px) rotate(90.05deg)">10</i><i style="transform:translate(1241.98px,647.39px) rotate(90.05deg)">9</i><i style="transform:translate(1258.98px,647.39px) rotate(90.05deg)">8</i><i style="transform:translate(1275.98px,647.39px) rotate(90.05deg)">7</i><i style="transform:translate(1292.98px,647.39px) rotate(90.05deg)">6</i><i style="transform:translate(1309.98px,647.39px) rotate(90.05deg)">5</i><i style="transform:translate(1326.98px,647.39px) rotate(90.05deg)">4</i><i style="transform:translate(1343.98px,647.39px) rotate(90.05deg)">3</i><i style="transform:translate(1360.98px,647.39px) rotate(90.05deg)">2</i><i style="transform:translate(1377.98px,647.39px) rotate(90.05deg)">1</i><i style="transform:translate(65.93px,663.72px) rotate(90.05deg)">72</i><i style="transform:translate(82.93px,663.72px) rotate(90.05deg)">71</i><i style="transform:translate(99.93px,663.72px) rotate(90.05deg)">70</i><i style="transform:translate(116.93px,663.72px) rotate(90.05deg)">69</i><i style="transform:translate(133.93px,663.72px) rotate(90.05deg)">68</i><i style="transform:translate(150.93px,663.72px) rotate(90.05deg)">67</i><i style="transform:translate(167.93px,663.72px) rotate(90.05deg)">66</i><i style="transform:translate(184.93px,663.72px) rotate(90.05deg)">65</i><i style="transform:translate(201.93px,663.72px) rotate(90.05deg)">64</i><i style="transform:translate(218.93px,663.72px) rotate(90.05deg)">63</i><i style="transform:translate(235.93px,663.72px) rotate(90.05deg)">62</i><i style="transform:translate(252.93px,663.72px) rotate(90.05deg)">61</i><i style="transform:translate(269.93px,663.72px) rotate(90.05deg)">60</i><i style="transform:translate(286.93px,663.72px) rotate(90.05deg)">59</i><i style="transform:translate(303.93px,663.72px) rotate(90.05deg)">58</i><i style="transform:translate(320.93px,663.72px) rotate(90.05deg)">57</i><i style="transform:translate(337.93px,663.72px) rotate(90.05deg)">56</i><i style="transform:translate(354.93px,663.72px) rotate(90.05deg)">55</i><i style="transform:translate(371.93px,663.72px) rotate(90.05deg)">54</i><i style="transform:translate(388.93px,663.72px) rotate(90.05deg)">53</i><i style="transform:translate(405.93px,663.72px) rotate(90.05deg)">52</i><i style="transform:translate(422.93px,663.72px) rotate(90.05deg)">51</i><i style="transform:translate(439.93px,663.72px) rotate(90.05deg)">50</i><i style="transform:translate(456.93px,663.72px) rotate(90.05deg)">49</i><i style="transform:translate(531.03px,663.72px) rotate(90.05deg)">48</i><i style="transform:translate(548.03px,663.72px) rotate(90.05deg)">47</i><i style="transform:translate(565.03px,663.72px) rotate(90.05deg)">46</i><i style="transform:translate(582.03px,663.72px) rotate(90.05deg)">45</i><i style="transform:translate(599.03px,663.72px) rotate(90.05deg)">44</i><i style="transform:translate(616.03px,663.72px) rotate(90.05deg)">43</i><i style="transform:translate(633.03px,663.72px) rotate(90.05deg)">42</i><i style="transform:translate(650.03px,663.72px) rotate(90.05deg)">41</i><i style="transform:translate(667.03px,663.72px) rotate(90.05deg)">40</i><i style="transform:translate(684.03px,663.72px) rotate(90.05deg)">39</i><i style="transform:translate(701.03px,663.72px) rotate(90.05deg)">38</i><i style="transform:translate(718.03px,663.72px) rotate(90.05deg)">37</i><i style="transform:translate(735.03px,663.72px) rotate(90.05deg)">36</i><i style="transform:translate(752.03px,663.72px) rotate(90.05deg)">35</i><i style="transform:translate(769.03px,663.72px) rotate(90.05deg)">34</i><i style="transform:translate(786.03px,663.72px) rotate(90.05deg)">33</i><i style="transform:translate(803.03px,663.72px) rotate(90.05deg)">32</i><i style="transform:translate(820.03px,663.72px) rotate(90.05deg)">31</i><i style="transform:translate(837.03px,663.72px) rotate(90.05deg)">30</i><i style="transform:translate(854.03px,663.72px) rotate(90.05deg)">29</i><i style="transform:translate(871.03px,663.72px) rotate(90.05deg)">28</i><i style="transform:translate(888.03px,663.72px) rotate(90.05deg)">27</i><i style="transform:translate(905.03px,663.72px) rotate(90.05deg)">26</i><i style="transform:translate(922.03px,663.72px) rotate(90.05deg)">25</i><i style="transform:translate(986.98px,663.72px) rotate(90.05deg)">24</i><i style="transform:translate(1003.98px,663.72px) rotate(90.05deg)">23</i><i style="transform:translate(1020.98px,663.72px) rotate(90.05deg)">22</i><i style="transform:translate(1037.98px,663.72px) rotate(90.05deg)">21</i><i style="transform:translate(1054.98px,663.72px) rotate(90.05deg)">20</i><i style="transform:translate(1071.98px,663.72px) rotate(90.05deg)">19</i><i style="transform:translate(1088.98px,663.72px) rotate(90.05deg)">18</i><i style="transform:translate(1105.98px,663.72px) rotate(90.05deg)">17</i><i style="transform:translate(1122.98px,663.72px) rotate(90.05deg)">16</i><i style="transform:translate(1139.98px,663.72px) rotate(90.05deg)">15</i><i style="transform:translate(1156.98px,663.72px) rotate(90.05deg)">14</i><i style="transform:translate(1173.98px,663.72px) rotate(90.05deg)">13</i><i style="transform:translate(1190.98px,663.72px) rotate(90.05deg)">12</i><i style="transform:translate(1207.98px,663.72px) rotate(90.05deg)">11</i><i style="transform:translate(1224.98px,663.72px) rotate(90.05deg)">10</i><i style="transform:translate(1241.98px,664.42px) rotate(90.05deg)">9</i><i style="transform:translate(1258.98px,664.42px) rotate(90.05deg)">8</i><i style="transform:translate(1275.98px,664.42px) rotate(90.05deg)">7</i><i style="transform:translate(1292.98px,664.42px) rotate(90.05deg)">6</i><i style="transform:translate(1309.98px,664.42px) rotate(90.05deg)">5</i><i style="transform:translate(1326.98px,664.42px) rotate(90.05deg)">4</i><i style="transform:translate(1343.98px,664.42px) rotate(90.05deg)">3</i><i style="transform:translate(1360.98px,664.42px) rotate(90.05deg)">2</i><i style="transform:translate(1377.98px,664.42px) rotate(90.05deg)">1</i><i style="transform:translate(65.93px,680.75px) rotate(90.05deg)">72</i><i style="transform:translate(82.93px,680.75px) rotate(90.05deg)">71</i><i style="transform:translate(99.93px,680.75px) rotate(90.05deg)">70</i><i style="transform:translate(116.93px,680.75px) rotate(90.05deg)">69</i><i style="transform:translate(133.93px,680.75px) rotate(90.05deg)">68</i><i style="transform:translate(150.93px,680.75px) rotate(90.05deg)">67</i><i style="transform:translate(167.93px,680.75px) rotate(90.05deg)">66</i><i style="transform:translate(184.93px,680.75px) rotate(90.05deg)">65</i><i style="transform:translate(201.93px,680.75px) rotate(90.05deg)">64</i><i style="transform:translate(218.93px,680.75px) rotate(90.05deg)">63</i><i style="transform:translate(235.93px,680.75px) rotate(90.05deg)">62</i><i style="transform:translate(252.93px,680.75px) rotate(90.05deg)">61</i><i style="transform:translate(269.93px,680.75px) rotate(90.05deg)">60</i><i style="transform:translate(286.93px,680.75px) rotate(90.05deg)">59</i><i style="transform:translate(303.93px,680.75px) rotate(90.05deg)">58</i><i style="transform:translate(320.93px,680.75px) rotate(90.05deg)">57</i><i style="transform:translate(337.93px,680.75px) rotate(90.05deg)">56</i><i style="transform:translate(354.93px,680.75px) rotate(90.05deg)">55</i><i style="transform:translate(371.93px,680.75px) rotate(90.05deg)">54</i><i style="transform:translate(388.93px,680.75px) rotate(90.05deg)">53</i><i style="transform:translate(405.93px,680.75px) rotate(90.05deg)">52</i><i style="transform:translate(422.93px,680.75px) rotate(90.05deg)">51</i><i style="transform:translate(439.93px,680.75px) rotate(90.05deg)">50</i><i style="transform:translate(456.93px,680.75px) rotate(90.05deg)">49</i><i style="transform:translate(531.03px,680.75px) rotate(90.05deg)">48</i><i style="transform:translate(548.03px,680.75px) rotate(90.05deg)">47</i><i style="transform:translate(565.03px,680.75px) rotate(90.05deg)">46</i><i style="transform:translate(582.03px,680.75px) rotate(90.05deg)">45</i><i style="transform:translate(599.03px,680.75px) rotate(90.05deg)">44</i><i style="transform:translate(616.03px,680.75px) rotate(90.05deg)">43</i><i style="transform:translate(633.03px,680.75px) rotate(90.05deg)">42</i><i style="transform:translate(650.03px,680.75px) rotate(90.05deg)">41</i><i style="transform:translate(667.03px,680.75px) rotate(90.05deg)">40</i><i style="transform:translate(684.03px,680.75px) rotate(90.05deg)">39</i><i style="transform:translate(701.03px,680.75px) rotate(90.05deg)">38</i><i style="transform:translate(718.03px,680.75px) rotate(90.05deg)">37</i><i style="transform:translate(735.03px,680.75px) rotate(90.05deg)">36</i><i style="transform:translate(752.03px,680.75px) rotate(90.05deg)">35</i><i style="transform:translate(769.03px,680.75px) rotate(90.05deg)">34</i><i style="transform:translate(786.03px,680.75px) rotate(90.05deg)">33</i><i style="transform:translate(803.03px,680.75px) rotate(90.05deg)">32</i><i style="transform:translate(820.03px,680.75px) rotate(90.05deg)">31</i><i style="transform:translate(837.03px,680.75px) rotate(90.05deg)">30</i><i style="transform:translate(854.03px,680.75px) rotate(90.05deg)">29</i><i style="transform:translate(871.03px,680.75px) rotate(90.05deg)">28</i><i style="transform:translate(888.03px,680.75px) rotate(90.05deg)">27</i><i style="transform:translate(905.03px,680.75px) rotate(90.05deg)">26</i><i style="transform:translate(922.03px,680.75px) rotate(90.05deg)">25</i><i style="transform:translate(986.98px,680.75px) rotate(90.05deg)">24</i><i style="transform:translate(1003.98px,680.75px) rotate(90.05deg)">23</i><i style="transform:translate(1020.98px,680.75px) rotate(90.05deg)">22</i><i style="transform:translate(1037.98px,680.75px) rotate(90.05deg)">21</i><i style="transform:translate(1054.98px,680.75px) rotate(90.05deg)">20</i><i style="transform:translate(1071.98px,680.75px) rotate(90.05deg)">19</i><i style="transform:translate(1088.98px,680.75px) rotate(90.05deg)">18</i><i style="transform:translate(1105.98px,680.75px) rotate(90.05deg)">17</i><i style="transform:translate(1122.98px,680.75px) rotate(90.05deg)">16</i><i style="transform:translate(1139.98px,680.75px) rotate(90.05deg)">15</i><i style="transform:translate(1156.98px,680.75px) rotate(90.05deg)">14</i><i style="transform:translate(1173.98px,680.75px) rotate(90.05deg)">13</i><i style="transform:translate(1190.98px,680.75px) rotate(90.05deg)">12</i><i style="transform:translate(1207.98px,680.75px) rotate(90.05deg)">11</i><i style="transform:translate(1224.98px,680.75px) rotate(90.05deg)">10</i><i style="transform:translate(1241.98px,681.45px) rotate(90.05deg)">9</i><i style="transform:translate(1258.98px,681.45px) rotate(90.05deg)">8</i><i style="transform:translate(1275.98px,681.45px) rotate(90.05deg)">7</i><i style="transform:translate(1292.98px,681.45px) rotate(90.05deg)">6</i><i style="transform:translate(1309.98px,681.45px) rotate(90.05deg)">5</i><i style="transform:translate(1326.98px,681.45px) rotate(90.05deg)">4</i><i style="transform:translate(1343.98px,681.45px) rotate(90.05deg)">3</i><i style="transform:translate(1360.98px,681.45px) rotate(90.05deg)">2</i><i style="transform:translate(1377.98px,681.45px) rotate(90.05deg)">1</i><i style="transform:translate(65.93px,697.78px) rotate(90.05deg)">72</i><i style="transform:translate(82.93px,697.78px) rotate(90.05deg)">71</i><i style="transform:translate(99.93px,697.78px) rotate(90.05deg)">70</i><i style="transform:translate(116.93px,697.78px) rotate(90.05deg)">69</i><i style="transform:translate(133.93px,697.78px) rotate(90.05deg)">68</i><i style="transform:translate(150.93px,697.78px) rotate(90.05deg)">67</i><i style="transform:translate(167.93px,697.78px) rotate(90.05deg)">66</i><i style="transform:translate(184.93px,697.78px) rotate(90.05deg)">65</i><i style="transform:translate(201.93px,697.78px) rotate(90.05deg)">64</i><i style="transform:translate(218.93px,697.78px) rotate(90.05deg)">63</i><i style="transform:translate(235.93px,697.78px) rotate(90.05deg)">62</i><i style="transform:translate(252.93px,697.78px) rotate(90.05deg)">61</i><i style="transform:translate(269.93px,697.78px) rotate(90.05deg)">60</i><i style="transform:translate(286.93px,697.78px) rotate(90.05deg)">59</i><i style="transform:translate(303.93px,697.78px) rotate(90.05deg)">58</i><i style="transform:translate(320.93px,697.78px) rotate(90.05deg)">57</i><i style="transform:translate(337.93px,697.78px) rotate(90.05deg)">56</i><i style="transform:translate(354.93px,697.78px) rotate(90.05deg)">55</i><i style="transform:translate(371.93px,697.78px) rotate(90.05deg)">54</i><i style="transform:translate(388.93px,697.78px) rotate(90.05deg)">53</i><i style="transform:translate(405.93px,697.78px) rotate(90.05deg)">52</i><i style="transform:translate(422.93px,697.78px) rotate(90.05deg)">51</i><i style="transform:translate(439.93px,697.78px) rotate(90.05deg)">50</i><i style="transform:translate(456.93px,697.78px) rotate(90.05deg)">49</i><i style="transform:translate(531.03px,697.78px) rotate(90.05deg)">48</i><i style="transform:translate(548.03px,697.78px) rotate(90.05deg)">47</i><i style="transform:translate(565.03px,697.78px) rotate(90.05deg)">46</i><i style="transform:translate(582.03px,697.78px) rotate(90.05deg)">45</i><i style="transform:translate(599.03px,697.78px) rotate(90.05deg)">44</i><i style="transform:translate(616.03px,697.78px) rotate(90.05deg)">43</i><i style="transform:translate(633.03px,697.78px) rotate(90.05deg)">42</i><i style="transform:translate(650.03px,697.78px) rotate(90.05deg)">41</i><i style="transform:translate(667.03px,697.78px) rotate(90.05deg)">40</i><i style="transform:translate(684.03px,697.78px) rotate(90.05deg)">39</i><i style="transform:translate(701.03px,697.78px) rotate(90.05deg)">38</i><i style="transform:translate(718.03px,697.78px) rotate(90.05deg)">37</i><i style="transform:translate(735.03px,697.78px) rotate(90.05deg)">36</i><i style="transform:translate(752.03px,697.78px) rotate(90.05deg)">35</i><i style="transform:translate(769.03px,697.78px) rotate(90.05deg)">34</i><i style="transform:translate(786.03px,697.78px) rotate(90.05deg)">33</i><i style="transform:translate(803.03px,697.78px) rotate(90.05deg)">32</i><i style="transform:translate(820.03px,697.78px) rotate(90.05deg)">31</i><i style="transform:translate(837.03px,697.78px) rotate(90.05deg)">30</i><i style="transform:translate(854.03px,697.78px) rotate(90.05deg)">29</i><i style="transform:translate(871.03px,697.78px) rotate(90.05deg)">28</i><i style="transform:translate(888.03px,697.78px) rotate(90.05deg)">27</i><i style="transform:translate(905.03px,697.78px) rotate(90.05deg)">26</i><i style="transform:translate(922.03px,697.78px) rotate(90.05deg)">25</i><i style="transform:translate(986.98px,697.78px) rotate(90.05deg)">24</i><i style="transform:translate(1003.98px,697.78px) rotate(90.05deg)">23</i><i style="transform:translate(1020.98px,697.78px) rotate(90.05deg)">22</i><i style="transform:translate(1037.98px,697.78px) rotate(90.05deg)">21</i><i style="transform:translate(1054.98px,697.78px) rotate(90.05deg)">20</i><i style="transform:translate(1071.98px,697.78px) rotate(90.05deg)">19</i><i style="transform:translate(1088.98px,697.78px) rotate(90.05deg)">18</i><i style="transform:translate(1105.98px,697.78px) rotate(90.05deg)">17</i><i style="transform:translate(1122.98px,697.78px) rotate(90.05deg)">16</i><i style="transform:translate(1139.98px,697.78px) rotate(90.05deg)">15</i><i style="transform:translate(1156.98px,697.78px) rotate(90.05deg)">14</i><i style="transform:translate(1173.98px,697.78px) rotate(90.05deg)">13</i><i style="transform:translate(1190.98px,697.78px) rotate(90.05deg)">12</i><i style="transform:translate(1207.98px,697.78px) rotate(90.05deg)">11</i><i style="transform:translate(1224.98px,697.78px) rotate(90.05deg)">10</i><i style="transform:translate(1241.98px,698.48px) rotate(90.05deg)">9</i><i style="transform:translate(1258.98px,698.48px) rotate(90.05deg)">8</i><i style="transform:translate(1275.98px,698.48px) rotate(90.05deg)">7</i><i style="transform:translate(1292.98px,698.48px) rotate(90.05deg)">6</i><i style="transform:translate(1309.98px,698.48px) rotate(90.05deg)">5</i><i style="transform:translate(1326.98px,698.48px) rotate(90.05deg)">4</i><i style="transform:translate(1343.98px,698.48px) rotate(90.05deg)">3</i><i style="transform:translate(1360.98px,698.48px) rotate(90.05deg)">2</i><i style="transform:translate(1377.98px,698.48px) rotate(90.05deg)">1</i><i style="transform:translate(65.93px,714.81px) rotate(90.05deg)">72</i><i style="transform:translate(82.93px,714.81px) rotate(90.05deg)">71</i><i style="transform:translate(99.93px,714.81px) rotate(90.05deg)">70</i><i style="transform:translate(116.93px,714.81px) rotate(90.05deg)">69</i><i style="transform:translate(133.93px,714.81px) rotate(90.05deg)">68</i><i style="transform:translate(150.93px,714.81px) rotate(90.05deg)">67</i><i style="transform:translate(167.93px,714.81px) rotate(90.05deg)">66</i><i style="transform:translate(184.93px,714.81px) rotate(90.05deg)">65</i><i style="transform:translate(201.93px,714.81px) rotate(90.05deg)">64</i><i style="transform:translate(218.93px,714.81px) rotate(90.05deg)">63</i><i style="transform:translate(235.93px,714.81px) rotate(90.05deg)">62</i><i style="transform:translate(252.93px,714.81px) rotate(90.05deg)">61</i><i style="transform:translate(269.93px,714.81px) rotate(90.05deg)">60</i><i style="transform:translate(286.93px,714.81px) rotate(90.05deg)">59</i><i style="transform:translate(303.93px,714.81px) rotate(90.05deg)">58</i><i style="transform:translate(320.93px,714.81px) rotate(90.05deg)">57</i><i style="transform:translate(337.93px,714.81px) rotate(90.05deg)">56</i><i style="transform:translate(354.93px,714.81px) rotate(90.05deg)">55</i><i style="transform:translate(371.93px,714.81px) rotate(90.05deg)">54</i><i style="transform:translate(388.93px,714.81px) rotate(90.05deg)">53</i><i style="transform:translate(405.93px,714.81px) rotate(90.05deg)">52</i><i style="transform:translate(422.93px,714.81px) rotate(90.05deg)">51</i><i style="transform:translate(439.93px,714.81px) rotate(90.05deg)">50</i><i style="transform:translate(456.93px,714.81px) rotate(90.05deg)">49</i><i style="transform:translate(531.03px,714.81px) rotate(90.05deg)">48</i><i style="transform:translate(548.03px,714.81px) rotate(90.05deg)">47</i><i style="transform:translate(565.03px,714.81px) rotate(90.05deg)">46</i><i style="transform:translate(582.03px,714.81px) rotate(90.05deg)">45</i><i style="transform:translate(599.03px,714.81px) rotate(90.05deg)">44</i><i style="transform:translate(616.03px,714.81px) rotate(90.05deg)">43</i><i style="transform:translate(633.03px,714.81px) rotate(90.05deg)">42</i><i style="transform:translate(650.03px,714.81px) rotate(90.05deg)">41</i><i style="transform:translate(667.03px,714.81px) rotate(90.05deg)">40</i><i style="transform:translate(684.03px,714.81px) rotate(90.05deg)">39</i><i style="transform:translate(701.03px,714.81px) rotate(90.05deg)">38</i><i style="transform:translate(718.03px,714.81px) rotate(90.05deg)">37</i><i style="transform:translate(735.03px,714.81px) rotate(90.05deg)">36</i><i style="transform:translate(752.03px,714.81px) rotate(90.05deg)">35</i><i style="transform:translate(769.03px,714.81px) rotate(90.05deg)">34</i><i style="transform:translate(786.03px,714.81px) rotate(90.05deg)">33</i><i style="transform:translate(803.03px,714.81px) rotate(90.05deg)">32</i><i style="transform:translate(820.03px,714.81px) rotate(90.05deg)">31</i><i style="transform:translate(837.03px,714.81px) rotate(90.05deg)">30</i><i style="transform:translate(854.03px,714.81px) rotate(90.05deg)">29</i><i style="transform:translate(871.03px,714.81px) rotate(90.05deg)">28</i><i style="transform:translate(888.03px,714.81px) rotate(90.05deg)">27</i><i style="transform:translate(905.03px,714.81px) rotate(90.05deg)">26</i><i style="transform:translate(922.03px,714.81px) rotate(90.05deg)">25</i><i style="transform:translate(986.98px,714.81px) rotate(90.05deg)">24</i><i style="transform:translate(1003.98px,714.81px) rotate(90.05deg)">23</i><i style="transform:translate(1020.98px,714.81px) rotate(90.05deg)">22</i><i style="transform:translate(1037.98px,714.81px) rotate(90.05deg)">21</i><i style="transform:translate(1054.98px,714.81px) rotate(90.05deg)">20</i><i style="transform:translate(1071.98px,714.81px) rotate(90.05deg)">19</i><i style="transform:translate(1088.98px,714.81px) rotate(90.05deg)">18</i><i style="transform:translate(1105.98px,714.81px) rotate(90.05deg)">17</i><i style="transform:translate(1122.98px,714.81px) rotate(90.05deg)">16</i><i style="transform:translate(1139.98px,714.81px) rotate(90.05deg)">15</i><i style="transform:translate(1156.98px,714.81px) rotate(90.05deg)">14</i><i style="transform:translate(1173.98px,714.81px) rotate(90.05deg)">13</i><i style="transform:translate(1190.98px,714.81px) rotate(90.05deg)">12</i><i style="transform:translate(1207.98px,714.81px) rotate(90.05deg)">11</i><i style="transform:translate(1224.98px,714.81px) rotate(90.05deg)">10</i><i style="transform:translate(1241.98px,715.51px) rotate(90.05deg)">9</i><i style="transform:translate(1258.98px,715.51px) rotate(90.05deg)">8</i><i style="transform:translate(1275.98px,715.51px) rotate(90.05deg)">7</i><i style="transform:translate(1292.98px,715.51px) rotate(90.05deg)">6</i><i style="transform:translate(1309.98px,715.51px) rotate(90.05deg)">5</i><i style="transform:translate(1326.98px,715.51px) rotate(90.05deg)">4</i><i style="transform:translate(1343.98px,715.51px) rotate(90.05deg)">3</i><i style="transform:translate(1360.98px,715.51px) rotate(90.05deg)">2</i><i style="transform:translate(1377.98px,715.51px) rotate(90.05deg)">1</i><i style="transform:translate(65.93px,731.84px) rotate(90.05deg)">72</i><i style="transform:translate(82.93px,731.84px) rotate(90.05deg)">71</i><i style="transform:translate(99.93px,731.84px) rotate(90.05deg)">70</i><i style="transform:translate(116.93px,731.84px) rotate(90.05deg)">69</i><i style="transform:translate(133.93px,731.84px) rotate(90.05deg)">68</i><i style="transform:translate(150.93px,731.84px) rotate(90.05deg)">67</i><i style="transform:translate(167.93px,731.84px) rotate(90.05deg)">66</i><i style="transform:translate(184.93px,731.84px) rotate(90.05deg)">65</i><i style="transform:translate(201.93px,731.84px) rotate(90.05deg)">64</i><i style="transform:translate(218.93px,731.84px) rotate(90.05deg)">63</i><i style="transform:translate(235.93px,731.84px) rotate(90.05deg)">62</i><i style="transform:translate(252.93px,731.84px) rotate(90.05deg)">61</i><i style="transform:translate(269.93px,731.84px) rotate(90.05deg)">60</i><i style="transform:translate(286.93px,731.84px) rotate(90.05deg)">59</i><i style="transform:translate(303.93px,731.84px) rotate(90.05deg)">58</i><i style="transform:translate(320.93px,731.84px) rotate(90.05deg)">57</i><i style="transform:translate(337.93px,731.84px) rotate(90.05deg)">56</i><i style="transform:translate(354.93px,731.84px) rotate(90.05deg)">55</i><i style="transform:translate(371.93px,731.84px) rotate(90.05deg)">54</i><i style="transform:translate(388.93px,731.84px) rotate(90.05deg)">53</i><i style="transform:translate(405.93px,731.84px) rotate(90.05deg)">52</i><i style="transform:translate(422.93px,731.84px) rotate(90.05deg)">51</i><i style="transform:translate(439.93px,731.84px) rotate(90.05deg)">50</i><i style="transform:translate(456.93px,731.84px) rotate(90.05deg)">49</i><i style="transform:translate(531.03px,731.84px) rotate(90.05deg)">48</i><i style="transform:translate(548.03px,731.84px) rotate(90.05deg)">47</i><i style="transform:translate(565.03px,731.84px) rotate(90.05deg)">46</i><i style="transform:translate(582.03px,731.84px) rotate(90.05deg)">45</i><i style="transform:translate(599.03px,731.84px) rotate(90.05deg)">44</i><i style="transform:translate(616.03px,731.84px) rotate(90.05deg)">43</i><i style="transform:translate(633.03px,731.84px) rotate(90.05deg)">42</i><i style="transform:translate(650.03px,731.84px) rotate(90.05deg)">41</i><i style="transform:translate(667.03px,731.84px) rotate(90.05deg)">40</i><i style="transform:translate(684.03px,731.84px) rotate(90.05deg)">39</i><i style="transform:translate(701.03px,731.84px) rotate(90.05deg)">38</i><i style="transform:translate(718.03px,731.84px) rotate(90.05deg)">37</i><i style="transform:translate(735.03px,731.84px) rotate(90.05deg)">36</i><i style="transform:translate(752.03px,731.84px) rotate(90.05deg)">35</i><i style="transform:translate(769.03px,731.84px) rotate(90.05deg)">34</i><i style="transform:translate(786.03px,731.84px) rotate(90.05deg)">33</i><i style="transform:translate(803.03px,731.84px) rotate(90.05deg)">32</i><i style="transform:translate(820.03px,731.84px) rotate(90.05deg)">31</i><i style="transform:translate(837.03px,731.84px) rotate(90.05deg)">30</i><i style="transform:translate(854.03px,731.84px) rotate(90.05deg)">29</i><i style="transform:translate(871.03px,731.84px) rotate(90.05deg)">28</i><i style="transform:translate(888.03px,731.84px) rotate(90.05deg)">27</i><i style="transform:translate(905.03px,731.84px) rotate(90.05deg)">26</i><i style="transform:translate(922.03px,731.84px) rotate(90.05deg)">25</i><i style="transform:translate(986.98px,731.84px) rotate(90.05deg)">24</i><i style="transform:translate(1003.98px,731.84px) rotate(90.05deg)">23</i><i style="transform:translate(1020.98px,731.84px) rotate(90.05deg)">22</i><i style="transform:translate(1037.98px,731.84px) rotate(90.05deg)">21</i><i style="transform:translate(1054.98px,731.84px) rotate(90.05deg)">20</i><i style="transform:translate(1071.98px,731.84px) rotate(90.05deg)">19</i><i style="transform:translate(1088.98px,731.84px) rotate(90.05deg)">18</i><i style="transform:translate(1105.98px,731.84px) rotate(90.05deg)">17</i><i style="transform:translate(1122.98px,731.84px) rotate(90.05deg)">16</i><i style="transform:translate(1139.98px,731.84px) rotate(90.05deg)">15</i><i style="transform:translate(1156.98px,731.84px) rotate(90.05deg)">14</i><i style="transform:translate(1173.98px,731.84px) rotate(90.05deg)">13</i><i style="transform:translate(1190.98px,731.84px) rotate(90.05deg)">12</i><i style="transform:translate(1207.98px,731.84px) rotate(90.05deg)">11</i><i style="transform:translate(1224.98px,731.84px) rotate(90.05deg)">10</i><i style="transform:translate(1241.98px,732.54px) rotate(90.05deg)">9</i><i style="transform:translate(1258.98px,732.54px) rotate(90.05deg)">8</i><i style="transform:translate(1275.98px,732.54px) rotate(90.05deg)">7</i><i style="transform:translate(1292.98px,732.54px) rotate(90.05deg)">6</i><i style="transform:translate(1309.98px,732.54px) rotate(90.05deg)">5</i><i style="transform:translate(1326.98px,732.54px) rotate(90.05deg)">4</i><i style="transform:translate(1343.98px,732.54px) rotate(90.05deg)">3</i><i style="transform:translate(1360.98px,732.54px) rotate(90.05deg)">2</i><i style="transform:translate(1377.98px,732.54px) rotate(90.05deg)">1</i><i style="transform:translate(167.93px,748.87px) rotate(90.05deg)">60</i><i style="transform:translate(184.93px,748.87px) rotate(90.05deg)">59</i><i style="transform:translate(201.93px,748.87px) rotate(90.05deg)">58</i><i style="transform:translate(218.93px,748.87px) rotate(90.05deg)">57</i><i style="transform:translate(235.93px,748.87px) rotate(90.05deg)">56</i><i style="transform:translate(252.93px,748.87px) rotate(90.05deg)">55</i><i style="transform:translate(269.93px,748.87px) rotate(90.05deg)">54</i><i style="transform:translate(286.93px,748.87px) rotate(90.05deg)">53</i><i style="transform:translate(303.93px,748.87px) rotate(90.05deg)">52</i><i style="transform:translate(320.93px,748.87px) rotate(90.05deg)">51</i><i style="transform:translate(337.93px,748.87px) rotate(90.05deg)">50</i><i style="transform:translate(354.93px,748.87px) rotate(90.05deg)">49</i><i style="transform:translate(371.93px,748.87px) rotate(90.05deg)">48</i><i style="transform:translate(388.93px,748.87px) rotate(90.05deg)">47</i><i style="transform:translate(405.93px,748.87px) rotate(90.05deg)">46</i><i style="transform:translate(422.93px,748.87px) rotate(90.05deg)">45</i><i style="transform:translate(439.93px,748.87px) rotate(90.05deg)">44</i><i style="transform:translate(456.93px,748.87px) rotate(90.05deg)">43</i><i style="transform:translate(531.03px,748.87px) rotate(90.05deg)">42</i><i style="transform:translate(548.03px,748.87px) rotate(90.05deg)">41</i><i style="transform:translate(565.03px,748.87px) rotate(90.05deg)">40</i><i style="transform:translate(582.03px,748.87px) rotate(90.05deg)">39</i><i style="transform:translate(599.03px,748.87px) rotate(90.05deg)">38</i><i style="transform:translate(616.03px,748.87px) rotate(90.05deg)">37</i><i style="transform:translate(633.03px,748.87px) rotate(90.05deg)">36</i><i style="transform:translate(650.03px,748.87px) rotate(90.05deg)">35</i><i style="transform:translate(667.03px,748.87px) rotate(90.05deg)">34</i><i style="transform:translate(684.03px,748.87px) rotate(90.05deg)">33</i><i style="transform:translate(701.03px,748.87px) rotate(90.05deg)">32</i><i style="transform:translate(718.03px,748.87px) rotate(90.05deg)">31</i><i style="transform:translate(735.03px,748.87px) rotate(90.05deg)">30</i><i style="transform:translate(752.03px,748.87px) rotate(90.05deg)">29</i><i style="transform:translate(769.03px,748.87px) rotate(90.05deg)">28</i><i style="transform:translate(786.03px,748.87px) rotate(90.05deg)">27</i><i style="transform:translate(803.03px,748.87px) rotate(90.05deg)">26</i><i style="transform:translate(820.03px,748.87px) rotate(90.05deg)">25</i><i style="transform:translate(837.03px,748.87px) rotate(90.05deg)">24</i><i style="transform:translate(854.03px,748.87px) rotate(90.05deg)">23</i><i style="transform:translate(871.03px,748.87px) rotate(90.05deg)">22</i><i style="transform:translate(888.03px,748.87px) rotate(90.05deg)">21</i><i style="transform:translate(905.03px,748.87px) rotate(90.05deg)">20</i><i style="transform:translate(922.03px,748.87px) rotate(90.05deg)">19</i><i style="transform:translate(986.98px,748.87px) rotate(90.05deg)">18</i><i style="transform:translate(1003.98px,748.87px) rotate(90.05deg)">17</i><i style="transform:translate(1020.98px,748.87px) rotate(90.05deg)">16</i><i style="transform:translate(1037.98px,748.87px) rotate(90.05deg)">15</i><i style="transform:translate(1054.98px,748.87px) rotate(90.05deg)">14</i><i style="transform:translate(1071.98px,748.87px) rotate(90.05deg)">13</i><i style="transform:translate(1088.98px,748.87px) rotate(90.05deg)">12</i><i style="transform:translate(1105.98px,748.87px) rotate(90.05deg)">11</i><i style="transform:translate(1122.98px,748.87px) rotate(90.05deg)">10</i><i style="transform:translate(1139.98px,749.57px) rotate(90.05deg)">9</i><i style="transform:translate(1156.98px,749.57px) rotate(90.05deg)">8</i><i style="transform:translate(1173.98px,749.57px) rotate(90.05deg)">7</i><i style="transform:translate(1190.98px,749.57px) rotate(90.05deg)">6</i><i style="transform:translate(1207.98px,749.57px) rotate(90.05deg)">5</i><i style="transform:translate(1224.98px,749.57px) rotate(90.05deg)">4</i><i style="transform:translate(1241.98px,749.57px) rotate(90.05deg)">3</i><i style="transform:translate(1258.98px,749.57px) rotate(90.05deg)">2</i><i style="transform:translate(1275.98px,749.57px) rotate(90.05deg)">1</i><i style="transform:translate(201.93px,765.90px) rotate(90.05deg)">56</i><i style="transform:translate(218.93px,765.90px) rotate(90.05deg)">55</i><i style="transform:translate(235.93px,765.90px) rotate(90.05deg)">54</i><i style="transform:translate(252.93px,765.90px) rotate(90.05deg)">53</i><i style="transform:translate(269.93px,765.90px) rotate(90.05deg)">52</i><i style="transform:translate(286.93px,765.90px) rotate(90.05deg)">51</i><i style="transform:translate(303.93px,765.90px) rotate(90.05deg)">50</i><i style="transform:translate(320.93px,765.90px) rotate(90.05deg)">49</i><i style="transform:translate(337.93px,765.90px) rotate(90.05deg)">48</i><i style="transform:translate(354.93px,765.90px) rotate(90.05deg)">47</i><i style="transform:translate(371.93px,765.90px) rotate(90.05deg)">46</i><i style="transform:translate(388.93px,765.90px) rotate(90.05deg)">45</i><i style="transform:translate(405.93px,765.90px) rotate(90.05deg)">44</i><i style="transform:translate(422.93px,765.90px) rotate(90.05deg)">43</i><i style="transform:translate(439.93px,765.90px) rotate(90.05deg)">42</i><i style="transform:translate(456.93px,765.90px) rotate(90.05deg)">41</i><i style="transform:translate(531.03px,765.90px) rotate(90.05deg)">40</i><i style="transform:translate(548.03px,765.90px) rotate(90.05deg)">39</i><i style="transform:translate(565.03px,765.90px) rotate(90.05deg)">38</i><i style="transform:translate(582.03px,765.90px) rotate(90.05deg)">37</i><i style="transform:translate(599.03px,765.90px) rotate(90.05deg)">36</i><i style="transform:translate(616.03px,765.90px) rotate(90.05deg)">35</i><i style="transform:translate(633.03px,765.90px) rotate(90.05deg)">34</i><i style="transform:translate(650.03px,765.90px) rotate(90.05deg)">33</i><i style="transform:translate(667.03px,765.90px) rotate(90.05deg)">32</i><i style="transform:translate(684.03px,765.90px) rotate(90.05deg)">31</i><i style="transform:translate(701.03px,765.90px) rotate(90.05deg)">30</i><i style="transform:translate(718.03px,765.90px) rotate(90.05deg)">29</i><i style="transform:translate(735.03px,765.90px) rotate(90.05deg)">28</i><i style="transform:translate(752.03px,765.90px) rotate(90.05deg)">27</i><i style="transform:translate(769.03px,765.90px) rotate(90.05deg)">26</i><i style="transform:translate(786.03px,765.90px) rotate(90.05deg)">25</i><i style="transform:translate(803.03px,765.90px) rotate(90.05deg)">24</i><i style="transform:translate(820.03px,765.90px) rotate(90.05deg)">23</i><i style="transform:translate(837.03px,765.90px) rotate(90.05deg)">22</i><i style="transform:translate(854.03px,765.90px) rotate(90.05deg)">21</i><i style="transform:translate(871.03px,765.90px) rotate(90.05deg)">20</i><i style="transform:translate(888.03px,765.90px) rotate(90.05deg)">19</i><i style="transform:translate(905.03px,765.90px) rotate(90.05deg)">18</i><i style="transform:translate(922.03px,765.90px) rotate(90.05deg)">17</i><i style="transform:translate(986.98px,765.90px) rotate(90.05deg)">16</i><i style="transform:translate(1003.98px,765.90px) rotate(90.05deg)">15</i><i style="transform:translate(1020.98px,765.90px) rotate(90.05deg)">14</i><i style="transform:translate(1037.98px,765.90px) rotate(90.05deg)">13</i><i style="transform:translate(1054.98px,765.90px) rotate(90.05deg)">12</i><i style="transform:translate(1071.98px,765.90px) rotate(90.05deg)">11</i><i style="transform:translate(1088.98px,765.90px) rotate(90.05deg)">10</i><i style="transform:translate(1105.98px,766.60px) rotate(90.05deg)">9</i><i style="transform:translate(1122.98px,766.60px) rotate(90.05deg)">8</i><i style="transform:translate(1139.98px,766.60px) rotate(90.05deg)">7</i><i style="transform:translate(1156.98px,766.60px) rotate(90.05deg)">6</i><i style="transform:translate(1173.98px,766.60px) rotate(90.05deg)">5</i><i style="transform:translate(1190.98px,766.60px) rotate(90.05deg)">4</i><i style="transform:translate(1207.98px,766.60px) rotate(90.05deg)">3</i><i style="transform:translate(1224.98px,766.60px) rotate(90.05deg)">2</i><i style="transform:translate(1241.98px,766.60px) rotate(90.05deg)">1</i><i style="transform:translate(235.93px,782.93px) rotate(90.05deg)">52</i><i style="transform:translate(252.93px,782.93px) rotate(90.05deg)">51</i><i style="transform:translate(269.93px,782.93px) rotate(90.05deg)">50</i><i style="transform:translate(286.93px,782.93px) rotate(90.05deg)">49</i><i style="transform:translate(303.93px,782.93px) rotate(90.05deg)">48</i><i style="transform:translate(320.93px,782.93px) rotate(90.05deg)">47</i><i style="transform:translate(337.93px,782.93px) rotate(90.05deg)">46</i><i style="transform:translate(354.93px,782.93px) rotate(90.05deg)">45</i><i style="transform:translate(371.93px,782.93px) rotate(90.05deg)">44</i><i style="transform:translate(388.93px,782.93px) rotate(90.05deg)">43</i><i style="transform:translate(405.93px,782.93px) rotate(90.05deg)">42</i><i style="transform:translate(422.93px,782.93px) rotate(90.05deg)">41</i><i style="transform:translate(439.93px,782.93px) rotate(90.05deg)">40</i><i style="transform:translate(456.93px,782.93px) rotate(90.05deg)">39</i><i style="transform:translate(531.03px,782.93px) rotate(90.05deg)">38</i><i style="transform:translate(548.03px,782.93px) rotate(90.05deg)">37</i><i style="transform:translate(565.03px,782.93px) rotate(90.05deg)">36</i><i style="transform:translate(582.03px,782.93px) rotate(90.05deg)">35</i><i style="transform:translate(599.03px,782.93px) rotate(90.05deg)">34</i><i style="transform:translate(616.03px,782.93px) rotate(90.05deg)">33</i><i style="transform:translate(633.03px,782.93px) rotate(90.05deg)">32</i><i style="transform:translate(650.03px,782.93px) rotate(90.05deg)">31</i><i style="transform:translate(667.03px,782.93px) rotate(90.05deg)">30</i><i style="transform:translate(684.03px,782.93px) rotate(90.05deg)">29</i><i style="transform:translate(701.03px,782.93px) rotate(90.05deg)">28</i><i style="transform:translate(718.03px,782.93px) rotate(90.05deg)">27</i><i style="transform:translate(735.03px,782.93px) rotate(90.05deg)">26</i><i style="transform:translate(752.03px,782.93px) rotate(90.05deg)">25</i><i style="transform:translate(769.03px,782.93px) rotate(90.05deg)">24</i><i style="transform:translate(786.03px,782.93px) rotate(90.05deg)">23</i><i style="transform:translate(803.03px,782.93px) rotate(90.05deg)">22</i><i style="transform:translate(820.03px,782.93px) rotate(90.05deg)">21</i><i style="transform:translate(837.03px,782.93px) rotate(90.05deg)">20</i><i style="transform:translate(854.03px,782.93px) rotate(90.05deg)">19</i><i style="transform:translate(871.03px,782.93px) rotate(90.05deg)">18</i><i style="transform:translate(888.03px,782.93px) rotate(90.05deg)">17</i><i style="transform:translate(905.03px,782.93px) rotate(90.05deg)">16</i><i style="transform:translate(922.03px,782.93px) rotate(90.05deg)">15</i><i style="transform:translate(986.98px,782.93px) rotate(90.05deg)">14</i><i style="transform:translate(1003.98px,782.93px) rotate(90.05deg)">13</i><i style="transform:translate(1020.98px,782.93px) rotate(90.05deg)">12</i><i style="transform:translate(1037.98px,782.93px) rotate(90.05deg)">11</i><i style="transform:translate(1054.98px,782.93px) rotate(90.05deg)">10</i><i style="transform:translate(1071.98px,783.63px) rotate(90.05deg)">9</i><i style="transform:translate(1088.98px,783.63px) rotate(90.05deg)">8</i><i style="transform:translate(1105.98px,783.63px) rotate(90.05deg)">7</i><i style="transform:translate(1122.98px,783.63px) rotate(90.05deg)">6</i><i style="transform:translate(1139.98px,783.63px) rotate(90.05deg)">5</i><i style="transform:translate(1156.98px,783.63px) rotate(90.05deg)">4</i><i style="transform:translate(1173.98px,783.63px) rotate(90.05deg)">3</i><i style="transform:translate(1190.98px,783.63px) rotate(90.05deg)">2</i><i style="transform:translate(1207.98px,783.63px) rotate(90.05deg)">1</i><i style="transform:translate(269.93px,799.96px) rotate(90.05deg)">48</i><i style="transform:translate(286.93px,799.96px) rotate(90.05deg)">47</i><i style="transform:translate(303.93px,799.96px) rotate(90.05deg)">46</i><i style="transform:translate(320.93px,799.96px) rotate(90.05deg)">45</i><i style="transform:translate(337.93px,799.96px) rotate(90.05deg)">44</i><i style="transform:translate(354.93px,799.96px) rotate(90.05deg)">43</i><i style="transform:translate(371.93px,799.96px) rotate(90.05deg)">42</i><i style="transform:translate(388.93px,799.96px) rotate(90.05deg)">41</i><i style="transform:translate(405.93px,799.96px) rotate(90.05deg)">40</i><i style="transform:translate(422.93px,799.96px) rotate(90.05deg)">39</i><i style="transform:translate(439.93px,799.96px) rotate(90.05deg)">38</i><i style="transform:translate(456.93px,799.96px) rotate(90.05deg)">37</i><i style="transform:translate(531.03px,799.96px) rotate(90.05deg)">36</i><i style="transform:translate(548.03px,799.96px) rotate(90.05deg)">35</i><i style="transform:translate(565.03px,799.96px) rotate(90.05deg)">34</i><i style="transform:translate(582.03px,799.96px) rotate(90.05deg)">33</i><i style="transform:translate(599.03px,799.96px) rotate(90.05deg)">32</i><i style="transform:translate(616.03px,799.96px) rotate(90.05deg)">31</i><i style="transform:translate(633.03px,799.96px) rotate(90.05deg)">30</i><i style="transform:translate(650.03px,799.96px) rotate(90.05deg)">29</i><i style="transform:translate(667.03px,799.96px) rotate(90.05deg)">28</i><i style="transform:translate(684.03px,799.96px) rotate(90.05deg)">27</i><i style="transform:translate(701.03px,799.96px) rotate(90.05deg)">26</i><i style="transform:translate(718.03px,799.96px) rotate(90.05deg)">25</i><i style="transform:translate(735.03px,799.96px) rotate(90.05deg)">24</i><i style="transform:translate(752.03px,799.96px) rotate(90.05deg)">23</i><i style="transform:translate(769.03px,799.96px) rotate(90.05deg)">22</i><i style="transform:translate(786.03px,799.96px) rotate(90.05deg)">21</i><i style="transform:translate(803.03px,799.96px) rotate(90.05deg)">20</i><i style="transform:translate(820.03px,799.96px) rotate(90.05deg)">19</i><i style="transform:translate(837.03px,799.96px) rotate(90.05deg)">18</i><i style="transform:translate(854.03px,799.96px) rotate(90.05deg)">17</i><i style="transform:translate(871.03px,799.96px) rotate(90.05deg)">16</i><i style="transform:translate(888.03px,799.96px) rotate(90.05deg)">15</i><i style="transform:translate(905.03px,799.96px) rotate(90.05deg)">14</i><i style="transform:translate(922.03px,799.96px) rotate(90.05deg)">13</i><i style="transform:translate(986.98px,799.96px) rotate(90.05deg)">12</i><i style="transform:translate(1003.98px,799.96px) rotate(90.05deg)">11</i><i style="transform:translate(1020.98px,799.96px) rotate(90.05deg)">10</i><i style="transform:translate(1037.98px,800.66px) rotate(90.05deg)">9</i><i style="transform:translate(1054.98px,800.66px) rotate(90.05deg)">8</i><i style="transform:translate(1071.98px,800.66px) rotate(90.05deg)">7</i><i style="transform:translate(1088.98px,800.66px) rotate(90.05deg)">6</i><i style="transform:translate(1105.98px,800.66px) rotate(90.05deg)">5</i><i style="transform:translate(1122.98px,800.66px) rotate(90.05deg)">4</i><i style="transform:translate(1139.98px,800.66px) rotate(90.05deg)">3</i><i style="transform:translate(1156.98px,800.66px) rotate(90.05deg)">2</i><i style="transform:translate(1173.98px,800.66px) rotate(90.05deg)">1</i><i style="transform:translate(337.93px,816.99px) rotate(90.05deg)">40</i><i style="transform:translate(354.93px,816.99px) rotate(90.05deg)">39</i><i style="transform:translate(371.93px,816.99px) rotate(90.05deg)">38</i><i style="transform:translate(388.93px,816.99px) rotate(90.05deg)">37</i><i style="transform:translate(405.93px,816.99px) rotate(90.05deg)">36</i><i style="transform:translate(422.93px,816.99px) rotate(90.05deg)">35</i><i style="transform:translate(439.93px,816.99px) rotate(90.05deg)">34</i><i style="transform:translate(456.93px,816.99px) rotate(90.05deg)">33</i><i style="transform:translate(531.03px,816.99px) rotate(90.05deg)">32</i><i style="transform:translate(548.03px,816.99px) rotate(90.05deg)">31</i><i style="transform:translate(565.03px,816.99px) rotate(90.05deg)">30</i><i style="transform:translate(582.03px,816.99px) rotate(90.05deg)">29</i><i style="transform:translate(599.03px,816.99px) rotate(90.05deg)">28</i><i style="transform:translate(616.03px,816.99px) rotate(90.05deg)">27</i><i style="transform:translate(633.03px,816.99px) rotate(90.05deg)">26</i><i style="transform:translate(650.03px,816.99px) rotate(90.05deg)">25</i><i style="transform:translate(667.03px,816.99px) rotate(90.05deg)">24</i><i style="transform:translate(684.03px,816.99px) rotate(90.05deg)">23</i><i style="transform:translate(701.03px,816.99px) rotate(90.05deg)">22</i><i style="transform:translate(718.03px,816.99px) rotate(90.05deg)">21</i><i style="transform:translate(735.03px,816.99px) rotate(90.05deg)">20</i><i style="transform:translate(752.03px,816.99px) rotate(90.05deg)">19</i><i style="transform:translate(769.03px,816.99px) rotate(90.05deg)">18</i><i style="transform:translate(786.03px,816.99px) rotate(90.05deg)">17</i><i style="transform:translate(803.03px,816.99px) rotate(90.05deg)">16</i><i style="transform:translate(820.03px,816.99px) rotate(90.05deg)">15</i><i style="transform:translate(837.03px,816.99px) rotate(90.05deg)">14</i><i style="transform:translate(854.03px,816.99px) rotate(90.05deg)">13</i><i style="transform:translate(871.03px,816.99px) rotate(90.05deg)">12</i><i style="transform:translate(888.03px,816.99px) rotate(90.05deg)">11</i><i style="transform:translate(905.03px,816.99px) rotate(90.05deg)">10</i><i style="transform:translate(922.03px,817.69px) rotate(90.05deg)">9</i><i style="transform:translate(986.98px,817.69px) rotate(90.05deg)">8</i><i style="transform:translate(1003.98px,817.69px) rotate(90.05deg)">7</i><i style="transform:translate(1020.98px,817.69px) rotate(90.05deg)">6</i><i style="transform:translate(1037.98px,817.69px) rotate(90.05deg)">5</i><i style="transform:translate(1054.98px,817.69px) rotate(90.05deg)">4</i><i style="transform:translate(1071.98px,817.69px) rotate(90.05deg)">3</i><i style="transform:translate(1088.98px,817.69px) rotate(90.05deg)">2</i><i style="transform:translate(1105.98px,817.69px) rotate(90.05deg)">1</i><i style="transform:translate(371.93px,834.02px) rotate(90.05deg)">36</i><i style="transform:translate(388.93px,834.02px) rotate(90.05deg)">35</i><i style="transform:translate(405.93px,834.02px) rotate(90.05deg)">34</i><i style="transform:translate(422.93px,834.02px) rotate(90.05deg)">33</i><i style="transform:translate(439.93px,834.02px) rotate(90.05deg)">32</i><i style="transform:translate(456.93px,834.02px) rotate(90.05deg)">31</i><i style="transform:translate(531.03px,834.02px) rotate(90.05deg)">30</i><i style="transform:translate(548.03px,834.02px) rotate(90.05deg)">29</i><i style="transform:translate(565.03px,834.02px) rotate(90.05deg)">28</i><i style="transform:translate(582.03px,834.02px) rotate(90.05deg)">27</i><i style="transform:translate(599.03px,834.02px) rotate(90.05deg)">26</i><i style="transform:translate(616.03px,834.02px) rotate(90.05deg)">25</i><i style="transform:translate(633.03px,834.02px) rotate(90.05deg)">24</i><i style="transform:translate(650.03px,834.02px) rotate(90.05deg)">23</i><i style="transform:translate(667.03px,834.02px) rotate(90.05deg)">22</i><i style="transform:translate(684.03px,834.02px) rotate(90.05deg)">21</i><i style="transform:translate(701.03px,834.02px) rotate(90.05deg)">20</i><i style="transform:translate(718.03px,834.02px) rotate(90.05deg)">19</i><i style="transform:translate(735.03px,834.02px) rotate(90.05deg)">18</i><i style="transform:translate(752.03px,834.02px) rotate(90.05deg)">17</i><i style="transform:translate(769.03px,834.02px) rotate(90.05deg)">16</i><i style="transform:translate(786.03px,834.02px) rotate(90.05deg)">15</i><i style="transform:translate(803.03px,834.02px) rotate(90.05deg)">14</i><i style="transform:translate(820.03px,834.02px) rotate(90.05deg)">13</i><i style="transform:translate(837.03px,834.02px) rotate(90.05deg)">12</i><i style="transform:translate(854.03px,834.02px) rotate(90.05deg)">11</i><i style="transform:translate(871.03px,834.02px) rotate(90.05deg)">10</i><i style="transform:translate(888.03px,834.72px) rotate(90.05deg)">9</i><i style="transform:translate(905.03px,834.72px) rotate(90.05deg)">8</i><i style="transform:translate(922.03px,834.72px) rotate(90.05deg)">7</i><i style="transform:translate(986.98px,834.72px) rotate(90.05deg)">6</i><i style="transform:translate(1003.98px,834.72px) rotate(90.05deg)">5</i><i style="transform:translate(1020.98px,834.72px) rotate(90.05deg)">4</i><i style="transform:translate(1037.98px,834.72px) rotate(90.05deg)">3</i><i style="transform:translate(1054.98px,834.72px) rotate(90.05deg)">2</i><i style="transform:translate(1071.98px,834.72px) rotate(90.05deg)">1</i><i style="transform:translate(1420.13px,562.80px) rotate(90.05deg)">1</i><i style="transform:translate(1420.13px,579.75px) rotate(90.05deg)">2</i><i style="transform:translate(1420.13px,596.70px) rotate(90.05deg)">3</i><i style="transform:translate(1420.13px,613.65px) rotate(90.05deg)">4</i><i style="transform:translate(1480.03px,562.80px) rotate(90.05deg)">1</i><i style="transform:translate(1480.03px,579.75px) rotate(90.05deg)">2</i><i style="transform:translate(1480.03px,596.70px) rotate(90.05deg)">3</i><i style="transform:translate(1480.03px,613.65px) rotate(90.05deg)">4</i><i style="transform:translate(1480.03px,630.60px) rotate(90.05deg)">5</i></div>
<div class="rl" style="right:1111.6px;top:25.2px">17</div><div class="ll" style="left:974.3px;top:25.2px">17</div><div class="rl" style="right:1111.6px;top:42.2px">16</div><div class="ll" style="left:974.3px;top:42.2px">16</div><div class="rl" style="right:1111.6px;top:59.2px">15</div><div class="ll" style="left:974.3px;top:59.2px">15</div><div class="rl" style="right:1111.6px;top:76.2px">14</div><div class="ll" style="left:974.3px;top:76.2px">14</div><div class="rl" style="right:1111.6px;top:93.2px">13</div><div class="ll" style="left:974.3px;top:93.2px">13</div><div class="rl" style="right:1111.6px;top:110.2px">12</div><div class="ll" style="left:974.3px;top:110.2px">12</div><div class="rl" style="right:1111.6px;top:127.2px">11</div><div class="ll" style="left:974.3px;top:127.2px">11</div><div class="rl" style="right:1111.6px;top:144.2px">10</div><div class="ll" style="left:974.3px;top:144.2px">10</div><div class="rl" style="right:1113.7px;top:161.2px">9</div><div class="ll" style="left:974.3px;top:161.2px">9</div><div class="rl" style="right:1113.7px;top:178.2px">8</div><div class="ll" style="left:974.3px;top:178.2px">8</div><div class="rl" style="right:1113.7px;top:195.2px">7</div><div class="ll" style="left:974.3px;top:195.2px">7</div><div class="rl" style="right:1113.7px;top:212.2px">6</div><div class="ll" style="left:974.3px;top:212.2px">6</div><div class="rl" style="right:1113.7px;top:229.2px">5</div><div class="ll" style="left:974.3px;top:229.2px">5</div><div class="rl" style="right:1113.7px;top:246.2px">4</div><div class="ll" style="left:974.3px;top:246.2px">4</div><div class="rl" style="right:1113.7px;top:263.2px">3</div><div class="ll" style="left:974.3px;top:263.2px">3</div><div class="rl" style="right:1113.7px;top:280.2px">2</div><div class="ll" style="left:974.3px;top:280.2px">2</div><div class="rl" style="right:1113.7px;top:297.2px">1</div><div class="ll" style="left:974.3px;top:297.2px">1</div><div class="cl" style="left:478.2px;top:358.5px">G</div><div class="cl" style="left:1001.3px;top:358.5px">G</div><div class="cl" style="left:478.2px;top:375.6px">F</div><div class="cl" style="left:1001.3px;top:375.6px">F</div><div class="cl" style="left:478.2px;top:392.7px">E</div><div class="cl" style="left:1001.3px;top:392.7px">E</div><div class="cl" style="left:478.2px;top:409.8px">D</div><div class="cl" style="left:1001.3px;top:409.8px">D</div><div class="cl" style="left:478.2px;top:426.9px">C</div><div class="cl" style="left:1001.3px;top:426.9px">C</div><div class="cl" style="left:478.2px;top:444.1px">B</div><div class="cl" style="left:1001.3px;top:444.1px">B</div><div class="cl" style="left:478.2px;top:461.2px">A</div><div class="cl" style="left:1001.3px;top:461.2px">A</div><div class="rl" style="right:1077.4px;top:519.6px">20</div><div class="ll" style="left:957.2px;top:519.6px">20</div><div class="rl" style="right:1077.4px;top:536.6px">19</div><div class="ll" style="left:957.2px;top:536.6px">19</div><div class="rl" style="right:1077.4px;top:553.7px">18</div><div class="ll" style="left:957.2px;top:553.7px">18</div><div class="rl" style="right:1077.4px;top:570.7px">17</div><div class="ll" style="left:957.2px;top:570.7px">17</div><div class="rl" style="right:1077.4px;top:587.7px">16</div><div class="ll" style="left:957.2px;top:587.7px">16</div><div class="rl" style="right:1077.4px;top:604.8px">15</div><div class="ll" style="left:957.2px;top:604.8px">15</div><div class="rl" style="right:1077.4px;top:621.8px">14</div><div class="ll" style="left:957.2px;top:621.8px">14</div><div class="rl" style="right:1077.4px;top:638.8px">13</div><div class="ll" style="left:957.2px;top:638.8px">13</div><div class="rl" style="right:1077.4px;top:655.8px">12</div><div class="ll" style="left:957.2px;top:655.8px">12</div><div class="rl" style="right:1077.4px;top:672.9px">11</div><div class="ll" style="left:957.2px;top:672.9px">11</div><div class="rl" style="right:1077.4px;top:689.9px">10</div><div class="ll" style="left:957.2px;top:689.9px">10</div><div class="rl" style="right:1079.5px;top:706.9px">9</div><div class="ll" style="left:957.2px;top:706.9px">9</div><div class="rl" style="right:1079.5px;top:724.0px">8</div><div class="ll" style="left:957.2px;top:724.0px">8</div><div class="rl" style="right:1079.5px;top:741.0px">7</div><div class="ll" style="left:957.2px;top:741.0px">7</div><div class="rl" style="right:1079.5px;top:758.0px">6</div><div class="ll" style="left:957.2px;top:758.0px">6</div><div class="rl" style="right:1079.5px;top:775.1px">5</div><div class="ll" style="left:957.2px;top:775.1px">5</div><div class="rl" style="right:1079.5px;top:792.1px">4</div><div class="ll" style="left:957.2px;top:792.1px">4</div><div class="rl" style="right:1079.5px;top:809.1px">3</div><div class="ll" style="left:957.2px;top:809.1px">3</div><div class="rl" style="right:1079.5px;top:826.1px">2</div><div class="ll" style="left:957.2px;top:826.1px">2</div><div class="rl" style="right:1079.5px;top:843.2px">1</div><div class="ll" style="left:957.2px;top:843.2px">1</div>
<div class="bg" style="left:517.3px;top:319.2px;transform:translateX(-50%) scaleX(1.026)">K</div><div class="bg" style="left:960.2px;top:320.2px;transform:translateX(-50%) scaleX(0.989)">K</div><div class="bg" style="left:1009.9px;top:321.2px;transform:translateX(-50%) scaleX(0.913)">L</div><div class="bg" style="left:1351.0px;top:321.2px;transform:translateX(-50%) scaleX(0.919)">L</div><div class="bg" style="left:738.8px;top:333.7px;transform:translateX(-50%) scaleX(0.861)">F</div><div class="bg" style="left:76.2px;top:453.0px;transform:translateX(-50%) scaleX(0.924)">D</div><div class="bg" style="left:502.6px;top:483.0px;transform:translateX(-50%) scaleX(0.811)">E</div><div class="bg" style="left:977.3px;top:485.2px;transform:translateX(-50%) scaleX(0.935)">G</div><div class="bg" style="left:1404.0px;top:453.0px;transform:translateX(-50%) scaleX(0.865)">H</div><div class="bg" style="left:88.2px;top:770.2px;transform:translateX(-50%) scaleX(0.977)">A</div><div class="bg" style="left:1382.6px;top:771.1px;transform:translateX(-50%) scaleX(0.981)">C</div><div class="bg" style="left:552.6px;top:867.2px;transform:translateX(-50%) scaleX(0.989)">B</div><div class="bg" style="left:938.6px;top:867.1px;transform:translateX(-50%) scaleX(0.937)">B</div><div class="bg" style="left:744px;top:428.9px;transform:translateX(-50%) scaleX(0.962)">FOH</div>
<div class="fl" style="left:1410.9px;top:514.5px">1.</div><div class="fl" style="left:1432.2px;top:514.5px">hæð</div><div class="fl" style="left:1470.0px;top:514.5px">2.</div><div class="fl" style="left:1492.2px;top:514.5px">hæð</div>
<svg class="sv" width="1610" height="950" viewBox="0 0 1610 950">
<path d="M1410.9 308.9h4.7l6 12.3 6-12.3h4.6v24.1h-3.9v-16.6l-4.9 10.3h-3.6l-4.9-10.3v16.6h-4z"/>
<path d="M44.8 308h10.5v4.2h-3v16.6h3v3.2h-10.5v-3.2h3v-16.6h-3z"/>
<path d="M116.9 307h9.2v21.5q0 3.5-3.5 3.5h-8.7v-3.8h6.5q1.3 0 1.3-1.3v-16.1h-4.8z"/>
<path d="M449.2 307.5h9.6v21.5q0 3.9-3.9 3.9h-8.9v-3.8h6.7q1.4 0 1.4-1.4v-16.4h-4.9z"/>
</svg>
</body></html>
